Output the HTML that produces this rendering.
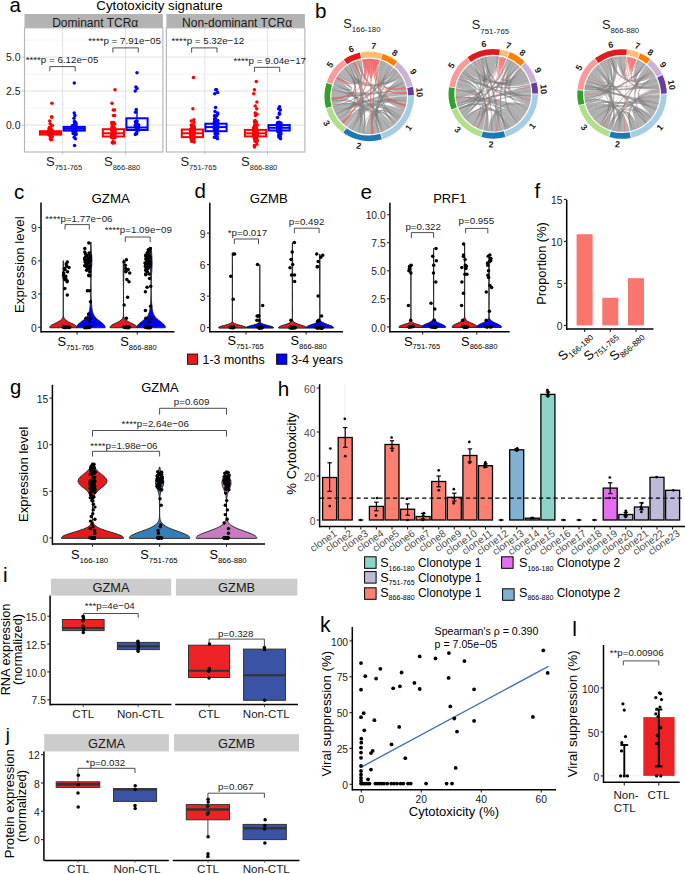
<!DOCTYPE html>
<html><head><meta charset="utf-8"><style>
html,body{margin:0;padding:0;background:#fff;overflow:hidden}
svg{display:block;font-family:"Liberation Sans",sans-serif}
</style></head><body>
<svg width="685" height="874" viewBox="0 0 685 874">
<rect width="685" height="874" fill="#fff"/>
<text x="9.4" y="12.4" font-size="20.4">a</text>
<text x="159.5" y="10" font-size="13.3" text-anchor="middle">Cytotoxicity signature</text>
<rect x="24.5" y="14" width="138.4" height="13.8" fill="#b3b3b3"/>
<text x="95.2" y="26.6" font-size="12" text-anchor="middle" fill="#1a1a1a">Dominant TCRα</text>
<line x1="24.5" y1="142.1" x2="162.9" y2="142.1" stroke="#ebebeb" stroke-width="0.6"/>
<line x1="24.5" y1="108.1" x2="162.9" y2="108.1" stroke="#ebebeb" stroke-width="0.6"/>
<line x1="24.5" y1="74.1" x2="162.9" y2="74.1" stroke="#ebebeb" stroke-width="0.6"/>
<line x1="24.5" y1="40.1" x2="162.9" y2="40.1" stroke="#ebebeb" stroke-width="0.6"/>
<line x1="24.5" y1="125.1" x2="162.9" y2="125.1" stroke="#dedede" stroke-width="0.9"/>
<line x1="24.5" y1="91.1" x2="162.9" y2="91.1" stroke="#dedede" stroke-width="0.9"/>
<line x1="24.5" y1="57.1" x2="162.9" y2="57.1" stroke="#dedede" stroke-width="0.9"/>
<line x1="62.6" y1="27.8" x2="62.6" y2="152" stroke="#dedede" stroke-width="0.9"/>
<line x1="125.5" y1="27.8" x2="125.5" y2="152" stroke="#dedede" stroke-width="0.9"/>
<rect x="166.4" y="14" width="138.5" height="13.8" fill="#b3b3b3"/>
<text x="237.1" y="26.6" font-size="12" text-anchor="middle" fill="#1a1a1a">Non-dominant TCRα</text>
<line x1="166.4" y1="142.1" x2="304.9" y2="142.1" stroke="#ebebeb" stroke-width="0.6"/>
<line x1="166.4" y1="108.1" x2="304.9" y2="108.1" stroke="#ebebeb" stroke-width="0.6"/>
<line x1="166.4" y1="74.1" x2="304.9" y2="74.1" stroke="#ebebeb" stroke-width="0.6"/>
<line x1="166.4" y1="40.1" x2="304.9" y2="40.1" stroke="#ebebeb" stroke-width="0.6"/>
<line x1="166.4" y1="125.1" x2="304.9" y2="125.1" stroke="#dedede" stroke-width="0.9"/>
<line x1="166.4" y1="91.1" x2="304.9" y2="91.1" stroke="#dedede" stroke-width="0.9"/>
<line x1="166.4" y1="57.1" x2="304.9" y2="57.1" stroke="#dedede" stroke-width="0.9"/>
<line x1="204.9" y1="27.8" x2="204.9" y2="152" stroke="#dedede" stroke-width="0.9"/>
<line x1="267.5" y1="27.8" x2="267.5" y2="152" stroke="#dedede" stroke-width="0.9"/>
<line x1="50.5" y1="125.1" x2="50.5" y2="131.2" stroke="#ff0000" stroke-width="1.4"/>
<circle cx="50.6" cy="133.6" r="1.75" fill="#ff0000"/>
<circle cx="51.9" cy="130.5" r="1.75" fill="#ff0000"/>
<circle cx="51.3" cy="133.5" r="1.75" fill="#ff0000"/>
<circle cx="49.7" cy="133.9" r="1.75" fill="#ff0000"/>
<circle cx="52.2" cy="136.4" r="1.75" fill="#ff0000"/>
<circle cx="49.1" cy="133.5" r="1.75" fill="#ff0000"/>
<circle cx="50.2" cy="128" r="1.75" fill="#ff0000"/>
<circle cx="51.4" cy="130.8" r="1.75" fill="#ff0000"/>
<circle cx="49.2" cy="128.3" r="1.75" fill="#ff0000"/>
<circle cx="50.5" cy="131.6" r="1.75" fill="#ff0000"/>
<circle cx="48.8" cy="131" r="1.75" fill="#ff0000"/>
<circle cx="51.1" cy="131.8" r="1.75" fill="#ff0000"/>
<circle cx="51.5" cy="139.4" r="1.75" fill="#ff0000"/>
<circle cx="50.8" cy="129.1" r="1.75" fill="#ff0000"/>
<circle cx="51.9" cy="130.5" r="1.75" fill="#ff0000"/>
<circle cx="49.8" cy="130.5" r="1.75" fill="#ff0000"/>
<circle cx="51.2" cy="139.5" r="1.75" fill="#ff0000"/>
<circle cx="50.8" cy="139.7" r="1.75" fill="#ff0000"/>
<circle cx="50.8" cy="136.2" r="1.75" fill="#ff0000"/>
<circle cx="50.3" cy="134.5" r="1.75" fill="#ff0000"/>
<circle cx="51.7" cy="131.3" r="1.75" fill="#ff0000"/>
<circle cx="52.1" cy="132.8" r="1.75" fill="#ff0000"/>
<circle cx="50.4" cy="130.5" r="1.75" fill="#ff0000"/>
<circle cx="51.1" cy="135.2" r="1.75" fill="#ff0000"/>
<circle cx="48.9" cy="131.3" r="1.75" fill="#ff0000"/>
<circle cx="51.2" cy="131" r="1.75" fill="#ff0000"/>
<circle cx="51" cy="135.3" r="1.75" fill="#ff0000"/>
<circle cx="52.3" cy="125.6" r="1.75" fill="#ff0000"/>
<circle cx="51.7" cy="130.3" r="1.75" fill="#ff0000"/>
<circle cx="49.7" cy="127.7" r="1.75" fill="#ff0000"/>
<circle cx="50.1" cy="135.1" r="1.75" fill="#ff0000"/>
<circle cx="51.1" cy="135.6" r="1.75" fill="#ff0000"/>
<circle cx="48.8" cy="134" r="1.75" fill="#ff0000"/>
<circle cx="50.4" cy="133" r="1.75" fill="#ff0000"/>
<circle cx="49.3" cy="130" r="1.75" fill="#ff0000"/>
<circle cx="49.1" cy="131.6" r="1.75" fill="#ff0000"/>
<circle cx="48.9" cy="134.4" r="1.75" fill="#ff0000"/>
<circle cx="51.5" cy="136.5" r="1.75" fill="#ff0000"/>
<circle cx="49.2" cy="134.7" r="1.75" fill="#ff0000"/>
<circle cx="49.6" cy="127.6" r="1.75" fill="#ff0000"/>
<circle cx="50.1" cy="135.9" r="1.75" fill="#ff0000"/>
<circle cx="51.8" cy="131.6" r="1.75" fill="#ff0000"/>
<circle cx="49" cy="130.8" r="1.75" fill="#ff0000"/>
<circle cx="50.3" cy="138.7" r="1.75" fill="#ff0000"/>
<circle cx="50.7" cy="132.4" r="1.75" fill="#ff0000"/>
<circle cx="51.9" cy="103.3" r="1.75" fill="#ff0000"/>
<circle cx="51.6" cy="116.9" r="1.75" fill="#ff0000"/>
<circle cx="51.8" cy="116.9" r="1.75" fill="#ff0000"/>
<circle cx="49.7" cy="121" r="1.75" fill="#ff0000"/>
<circle cx="50.2" cy="123.7" r="1.75" fill="#ff0000"/>
<rect x="39.9" y="131.2" width="21.2" height="3.4" fill="none" stroke="#ff0000" stroke-width="2.0"/>
<line x1="39.9" y1="132.9" x2="61.1" y2="132.9" stroke="#ff0000" stroke-width="2.0"/>
<line x1="74.2" y1="125.1" x2="74.2" y2="126.9" stroke="#0000ff" stroke-width="1.4"/>
<circle cx="75.8" cy="124.2" r="1.75" fill="#0000ff"/>
<circle cx="76" cy="134.2" r="1.75" fill="#0000ff"/>
<circle cx="75.8" cy="123" r="1.75" fill="#0000ff"/>
<circle cx="73.7" cy="127.1" r="1.75" fill="#0000ff"/>
<circle cx="73.2" cy="129.8" r="1.75" fill="#0000ff"/>
<circle cx="73.2" cy="127.9" r="1.75" fill="#0000ff"/>
<circle cx="73.1" cy="126.7" r="1.75" fill="#0000ff"/>
<circle cx="73.1" cy="128.7" r="1.75" fill="#0000ff"/>
<circle cx="74.6" cy="124.8" r="1.75" fill="#0000ff"/>
<circle cx="75.6" cy="131.7" r="1.75" fill="#0000ff"/>
<circle cx="75.4" cy="130.8" r="1.75" fill="#0000ff"/>
<circle cx="74.1" cy="125.2" r="1.75" fill="#0000ff"/>
<circle cx="74.8" cy="129.1" r="1.75" fill="#0000ff"/>
<circle cx="75.3" cy="132.5" r="1.75" fill="#0000ff"/>
<circle cx="72.7" cy="125.6" r="1.75" fill="#0000ff"/>
<circle cx="74.8" cy="123.6" r="1.75" fill="#0000ff"/>
<circle cx="75.7" cy="130.9" r="1.75" fill="#0000ff"/>
<circle cx="75.2" cy="134.4" r="1.75" fill="#0000ff"/>
<circle cx="75.1" cy="129.7" r="1.75" fill="#0000ff"/>
<circle cx="74.1" cy="129.7" r="1.75" fill="#0000ff"/>
<circle cx="73" cy="130.3" r="1.75" fill="#0000ff"/>
<circle cx="75.2" cy="123.8" r="1.75" fill="#0000ff"/>
<circle cx="73.6" cy="133.1" r="1.75" fill="#0000ff"/>
<circle cx="75.3" cy="124.4" r="1.75" fill="#0000ff"/>
<circle cx="75.9" cy="134" r="1.75" fill="#0000ff"/>
<circle cx="73.8" cy="132.2" r="1.75" fill="#0000ff"/>
<circle cx="73.8" cy="126.8" r="1.75" fill="#0000ff"/>
<circle cx="75.8" cy="124.9" r="1.75" fill="#0000ff"/>
<circle cx="75" cy="125.9" r="1.75" fill="#0000ff"/>
<circle cx="73" cy="127.9" r="1.75" fill="#0000ff"/>
<circle cx="72.9" cy="128.6" r="1.75" fill="#0000ff"/>
<circle cx="72.9" cy="128.6" r="1.75" fill="#0000ff"/>
<circle cx="75.7" cy="127" r="1.75" fill="#0000ff"/>
<circle cx="75.3" cy="129.9" r="1.75" fill="#0000ff"/>
<circle cx="72.9" cy="128.1" r="1.75" fill="#0000ff"/>
<circle cx="75.4" cy="127" r="1.75" fill="#0000ff"/>
<circle cx="75.9" cy="129.2" r="1.75" fill="#0000ff"/>
<circle cx="74.8" cy="126.3" r="1.75" fill="#0000ff"/>
<circle cx="73.7" cy="127" r="1.75" fill="#0000ff"/>
<circle cx="74.4" cy="121.5" r="1.75" fill="#0000ff"/>
<circle cx="72.9" cy="127.9" r="1.75" fill="#0000ff"/>
<circle cx="72.5" cy="130.8" r="1.75" fill="#0000ff"/>
<circle cx="75.9" cy="130.6" r="1.75" fill="#0000ff"/>
<circle cx="74.7" cy="129.2" r="1.75" fill="#0000ff"/>
<circle cx="74.3" cy="125.7" r="1.75" fill="#0000ff"/>
<circle cx="75.8" cy="130.5" r="1.75" fill="#0000ff"/>
<circle cx="74" cy="127.7" r="1.75" fill="#0000ff"/>
<circle cx="75.5" cy="122.2" r="1.75" fill="#0000ff"/>
<circle cx="75.4" cy="138.7" r="1.75" fill="#0000ff"/>
<circle cx="73.2" cy="133.5" r="1.75" fill="#0000ff"/>
<circle cx="73.3" cy="128.1" r="1.75" fill="#0000ff"/>
<circle cx="73.5" cy="127.8" r="1.75" fill="#0000ff"/>
<circle cx="73.3" cy="128.1" r="1.75" fill="#0000ff"/>
<circle cx="74.5" cy="129.2" r="1.75" fill="#0000ff"/>
<circle cx="73.3" cy="127.4" r="1.75" fill="#0000ff"/>
<circle cx="73.9" cy="128" r="1.75" fill="#0000ff"/>
<circle cx="72.9" cy="129.4" r="1.75" fill="#0000ff"/>
<circle cx="75.7" cy="126.1" r="1.75" fill="#0000ff"/>
<circle cx="73.7" cy="127.9" r="1.75" fill="#0000ff"/>
<circle cx="74" cy="129.4" r="1.75" fill="#0000ff"/>
<circle cx="74.5" cy="128.7" r="1.75" fill="#0000ff"/>
<circle cx="75.7" cy="128.9" r="1.75" fill="#0000ff"/>
<circle cx="73.9" cy="128.6" r="1.75" fill="#0000ff"/>
<circle cx="75.7" cy="130.9" r="1.75" fill="#0000ff"/>
<circle cx="74.2" cy="129.3" r="1.75" fill="#0000ff"/>
<circle cx="74.3" cy="126.9" r="1.75" fill="#0000ff"/>
<circle cx="74.3" cy="130.4" r="1.75" fill="#0000ff"/>
<circle cx="72.5" cy="128.6" r="1.75" fill="#0000ff"/>
<circle cx="74" cy="126.9" r="1.75" fill="#0000ff"/>
<circle cx="73.1" cy="127.1" r="1.75" fill="#0000ff"/>
<circle cx="72.4" cy="126.1" r="1.75" fill="#0000ff"/>
<circle cx="75.3" cy="130.9" r="1.75" fill="#0000ff"/>
<circle cx="73" cy="129.1" r="1.75" fill="#0000ff"/>
<circle cx="74.1" cy="129.1" r="1.75" fill="#0000ff"/>
<circle cx="75" cy="127.5" r="1.75" fill="#0000ff"/>
<circle cx="74.4" cy="126.7" r="1.75" fill="#0000ff"/>
<circle cx="73.6" cy="130.9" r="1.75" fill="#0000ff"/>
<circle cx="74.3" cy="126.7" r="1.75" fill="#0000ff"/>
<circle cx="74.4" cy="130.9" r="1.75" fill="#0000ff"/>
<circle cx="75.2" cy="127.4" r="1.75" fill="#0000ff"/>
<circle cx="72.8" cy="130.9" r="1.75" fill="#0000ff"/>
<circle cx="74.4" cy="128.2" r="1.75" fill="#0000ff"/>
<circle cx="73.3" cy="126.6" r="1.75" fill="#0000ff"/>
<circle cx="73.4" cy="128.7" r="1.75" fill="#0000ff"/>
<circle cx="75.2" cy="128.2" r="1.75" fill="#0000ff"/>
<circle cx="74.2" cy="127.2" r="1.75" fill="#0000ff"/>
<circle cx="74.4" cy="128.3" r="1.75" fill="#0000ff"/>
<circle cx="75.1" cy="128.6" r="1.75" fill="#0000ff"/>
<circle cx="75.7" cy="126.1" r="1.75" fill="#0000ff"/>
<circle cx="74" cy="126.8" r="1.75" fill="#0000ff"/>
<circle cx="74.6" cy="145.5" r="1.75" fill="#0000ff"/>
<circle cx="74.2" cy="137.3" r="1.75" fill="#0000ff"/>
<circle cx="74.2" cy="112.9" r="1.75" fill="#0000ff"/>
<circle cx="74.9" cy="115.6" r="1.75" fill="#0000ff"/>
<circle cx="74" cy="118.3" r="1.75" fill="#0000ff"/>
<circle cx="74.3" cy="82.9" r="1.75" fill="#0000ff"/>
<rect x="63.6" y="126.9" width="21.2" height="3.7" fill="none" stroke="#0000ff" stroke-width="2.0"/>
<line x1="63.6" y1="128.8" x2="84.8" y2="128.8" stroke="#0000ff" stroke-width="2.0"/>
<line x1="113.4" y1="125.1" x2="113.4" y2="129.2" stroke="#ff0000" stroke-width="1.4"/>
<circle cx="111.7" cy="134.7" r="1.75" fill="#ff0000"/>
<circle cx="114.4" cy="142.8" r="1.75" fill="#ff0000"/>
<circle cx="112.6" cy="131.7" r="1.75" fill="#ff0000"/>
<circle cx="112.1" cy="136.3" r="1.75" fill="#ff0000"/>
<circle cx="113.1" cy="142.5" r="1.75" fill="#ff0000"/>
<circle cx="114.9" cy="129.8" r="1.75" fill="#ff0000"/>
<circle cx="114.5" cy="134.6" r="1.75" fill="#ff0000"/>
<circle cx="112.5" cy="142.8" r="1.75" fill="#ff0000"/>
<circle cx="112.1" cy="137.4" r="1.75" fill="#ff0000"/>
<circle cx="114.9" cy="131.9" r="1.75" fill="#ff0000"/>
<circle cx="113.7" cy="135.4" r="1.75" fill="#ff0000"/>
<circle cx="114.1" cy="129.5" r="1.75" fill="#ff0000"/>
<circle cx="111.9" cy="129.7" r="1.75" fill="#ff0000"/>
<circle cx="111.8" cy="130.1" r="1.75" fill="#ff0000"/>
<circle cx="114.1" cy="131.7" r="1.75" fill="#ff0000"/>
<circle cx="113.1" cy="126.9" r="1.75" fill="#ff0000"/>
<circle cx="111.9" cy="130.1" r="1.75" fill="#ff0000"/>
<circle cx="115" cy="131.1" r="1.75" fill="#ff0000"/>
<circle cx="113.9" cy="142.8" r="1.75" fill="#ff0000"/>
<circle cx="114.5" cy="129" r="1.75" fill="#ff0000"/>
<circle cx="111.9" cy="127" r="1.75" fill="#ff0000"/>
<circle cx="114.7" cy="134.7" r="1.75" fill="#ff0000"/>
<circle cx="111.8" cy="135.5" r="1.75" fill="#ff0000"/>
<circle cx="114.7" cy="124" r="1.75" fill="#ff0000"/>
<circle cx="113.2" cy="141.6" r="1.75" fill="#ff0000"/>
<circle cx="112.8" cy="131" r="1.75" fill="#ff0000"/>
<circle cx="113.6" cy="122.4" r="1.75" fill="#ff0000"/>
<circle cx="114.9" cy="137.7" r="1.75" fill="#ff0000"/>
<circle cx="112.6" cy="130" r="1.75" fill="#ff0000"/>
<circle cx="112.1" cy="124.3" r="1.75" fill="#ff0000"/>
<circle cx="113.5" cy="133.8" r="1.75" fill="#ff0000"/>
<circle cx="112.5" cy="130.6" r="1.75" fill="#ff0000"/>
<circle cx="112" cy="129" r="1.75" fill="#ff0000"/>
<circle cx="112.2" cy="137.6" r="1.75" fill="#ff0000"/>
<circle cx="111.8" cy="133.7" r="1.75" fill="#ff0000"/>
<circle cx="112.3" cy="131.9" r="1.75" fill="#ff0000"/>
<circle cx="112.7" cy="129.3" r="1.75" fill="#ff0000"/>
<circle cx="112.7" cy="133.4" r="1.75" fill="#ff0000"/>
<circle cx="114.3" cy="134.2" r="1.75" fill="#ff0000"/>
<circle cx="112.6" cy="138.1" r="1.75" fill="#ff0000"/>
<circle cx="113.4" cy="135" r="1.75" fill="#ff0000"/>
<circle cx="112.2" cy="129" r="1.75" fill="#ff0000"/>
<circle cx="112.8" cy="132.8" r="1.75" fill="#ff0000"/>
<circle cx="111.7" cy="137.3" r="1.75" fill="#ff0000"/>
<circle cx="112.5" cy="137.3" r="1.75" fill="#ff0000"/>
<circle cx="111.7" cy="122.4" r="1.75" fill="#ff0000"/>
<circle cx="114.2" cy="127.8" r="1.75" fill="#ff0000"/>
<circle cx="113.6" cy="130.2" r="1.75" fill="#ff0000"/>
<circle cx="112.3" cy="142.8" r="1.75" fill="#ff0000"/>
<circle cx="113.3" cy="130.3" r="1.75" fill="#ff0000"/>
<circle cx="115" cy="89.7" r="1.75" fill="#ff0000"/>
<circle cx="112" cy="103.3" r="1.75" fill="#ff0000"/>
<circle cx="114.5" cy="110.1" r="1.75" fill="#ff0000"/>
<circle cx="113.2" cy="110.1" r="1.75" fill="#ff0000"/>
<circle cx="113.4" cy="115.6" r="1.75" fill="#ff0000"/>
<circle cx="114.6" cy="115.6" r="1.75" fill="#ff0000"/>
<circle cx="113" cy="122.4" r="1.75" fill="#ff0000"/>
<rect x="102.8" y="129.2" width="21.2" height="7.3" fill="none" stroke="#ff0000" stroke-width="2.0"/>
<line x1="102.8" y1="133.3" x2="124" y2="133.3" stroke="#ff0000" stroke-width="2.0"/>
<line x1="137" y1="109.1" x2="137" y2="118.3" stroke="#0000ff" stroke-width="1.4"/>
<line x1="137" y1="130" x2="137" y2="134.6" stroke="#0000ff" stroke-width="1.4"/>
<circle cx="137.6" cy="124.2" r="1.75" fill="#0000ff"/>
<circle cx="136.2" cy="133.7" r="1.75" fill="#0000ff"/>
<circle cx="136.1" cy="126.8" r="1.75" fill="#0000ff"/>
<circle cx="136.3" cy="122.1" r="1.75" fill="#0000ff"/>
<circle cx="136.9" cy="126.9" r="1.75" fill="#0000ff"/>
<circle cx="135.8" cy="122.8" r="1.75" fill="#0000ff"/>
<circle cx="136.8" cy="132.9" r="1.75" fill="#0000ff"/>
<circle cx="136.1" cy="129.6" r="1.75" fill="#0000ff"/>
<circle cx="138.7" cy="130.1" r="1.75" fill="#0000ff"/>
<circle cx="138.7" cy="127.4" r="1.75" fill="#0000ff"/>
<circle cx="137.2" cy="125.2" r="1.75" fill="#0000ff"/>
<circle cx="136.1" cy="125.2" r="1.75" fill="#0000ff"/>
<circle cx="138.7" cy="125.1" r="1.75" fill="#0000ff"/>
<circle cx="136.3" cy="126.7" r="1.75" fill="#0000ff"/>
<circle cx="136.5" cy="130.1" r="1.75" fill="#0000ff"/>
<circle cx="135.2" cy="125.4" r="1.75" fill="#0000ff"/>
<circle cx="136.6" cy="124.7" r="1.75" fill="#0000ff"/>
<circle cx="136.9" cy="121.2" r="1.75" fill="#0000ff"/>
<circle cx="137" cy="72.7" r="1.75" fill="#0000ff"/>
<circle cx="135.9" cy="87" r="1.75" fill="#0000ff"/>
<circle cx="137" cy="88.4" r="1.75" fill="#0000ff"/>
<circle cx="135.2" cy="91.1" r="1.75" fill="#0000ff"/>
<circle cx="136.2" cy="109.5" r="1.75" fill="#0000ff"/>
<circle cx="135.5" cy="112.2" r="1.75" fill="#0000ff"/>
<circle cx="136.6" cy="121" r="1.75" fill="#0000ff"/>
<circle cx="135.4" cy="121.7" r="1.75" fill="#0000ff"/>
<circle cx="135.3" cy="134.6" r="1.75" fill="#0000ff"/>
<circle cx="136.3" cy="133.3" r="1.75" fill="#0000ff"/>
<rect x="126.4" y="118.3" width="21.2" height="11.7" fill="none" stroke="#0000ff" stroke-width="2.0"/>
<line x1="126.4" y1="127.5" x2="147.6" y2="127.5" stroke="#0000ff" stroke-width="2.0"/>
<line x1="192.4" y1="125.1" x2="192.4" y2="129.5" stroke="#ff0000" stroke-width="1.4"/>
<circle cx="191.6" cy="141.3" r="1.75" fill="#ff0000"/>
<circle cx="193" cy="132.6" r="1.75" fill="#ff0000"/>
<circle cx="193.1" cy="127" r="1.75" fill="#ff0000"/>
<circle cx="193" cy="141.1" r="1.75" fill="#ff0000"/>
<circle cx="191.6" cy="134.7" r="1.75" fill="#ff0000"/>
<circle cx="192.5" cy="137.4" r="1.75" fill="#ff0000"/>
<circle cx="192.3" cy="139.6" r="1.75" fill="#ff0000"/>
<circle cx="192.3" cy="129.8" r="1.75" fill="#ff0000"/>
<circle cx="191" cy="136.5" r="1.75" fill="#ff0000"/>
<circle cx="193.8" cy="139.6" r="1.75" fill="#ff0000"/>
<circle cx="191.3" cy="121" r="1.75" fill="#ff0000"/>
<circle cx="194.1" cy="128.7" r="1.75" fill="#ff0000"/>
<circle cx="194" cy="127.1" r="1.75" fill="#ff0000"/>
<circle cx="190.7" cy="134.1" r="1.75" fill="#ff0000"/>
<circle cx="192.3" cy="134.4" r="1.75" fill="#ff0000"/>
<circle cx="193.6" cy="128.1" r="1.75" fill="#ff0000"/>
<circle cx="194.1" cy="141.9" r="1.75" fill="#ff0000"/>
<circle cx="192.2" cy="138.7" r="1.75" fill="#ff0000"/>
<circle cx="191.6" cy="138.8" r="1.75" fill="#ff0000"/>
<circle cx="191.4" cy="132.3" r="1.75" fill="#ff0000"/>
<circle cx="194" cy="135.7" r="1.75" fill="#ff0000"/>
<circle cx="191.4" cy="138.8" r="1.75" fill="#ff0000"/>
<circle cx="192.7" cy="134.1" r="1.75" fill="#ff0000"/>
<circle cx="191.1" cy="128.9" r="1.75" fill="#ff0000"/>
<circle cx="192.5" cy="140.7" r="1.75" fill="#ff0000"/>
<circle cx="194" cy="130.3" r="1.75" fill="#ff0000"/>
<circle cx="191.1" cy="138.9" r="1.75" fill="#ff0000"/>
<circle cx="193.6" cy="127.6" r="1.75" fill="#ff0000"/>
<circle cx="192.4" cy="137.8" r="1.75" fill="#ff0000"/>
<circle cx="193.8" cy="134.5" r="1.75" fill="#ff0000"/>
<circle cx="193.1" cy="136.5" r="1.75" fill="#ff0000"/>
<circle cx="191.4" cy="130.8" r="1.75" fill="#ff0000"/>
<circle cx="193.8" cy="132.8" r="1.75" fill="#ff0000"/>
<circle cx="192.4" cy="134.7" r="1.75" fill="#ff0000"/>
<circle cx="190.7" cy="131.5" r="1.75" fill="#ff0000"/>
<circle cx="190.6" cy="130.1" r="1.75" fill="#ff0000"/>
<circle cx="192.4" cy="138.5" r="1.75" fill="#ff0000"/>
<circle cx="192.2" cy="137.9" r="1.75" fill="#ff0000"/>
<circle cx="191.7" cy="138.1" r="1.75" fill="#ff0000"/>
<circle cx="191.1" cy="135.6" r="1.75" fill="#ff0000"/>
<circle cx="191.8" cy="138.3" r="1.75" fill="#ff0000"/>
<circle cx="191.7" cy="124.8" r="1.75" fill="#ff0000"/>
<circle cx="193.6" cy="133.1" r="1.75" fill="#ff0000"/>
<circle cx="190.6" cy="133.3" r="1.75" fill="#ff0000"/>
<circle cx="193.3" cy="138.9" r="1.75" fill="#ff0000"/>
<circle cx="193.6" cy="140.1" r="1.75" fill="#ff0000"/>
<circle cx="191" cy="134.8" r="1.75" fill="#ff0000"/>
<circle cx="193.9" cy="126.1" r="1.75" fill="#ff0000"/>
<circle cx="193.2" cy="130.1" r="1.75" fill="#ff0000"/>
<circle cx="193.8" cy="133.3" r="1.75" fill="#ff0000"/>
<circle cx="191.6" cy="131.4" r="1.75" fill="#ff0000"/>
<circle cx="191.9" cy="134" r="1.75" fill="#ff0000"/>
<circle cx="192" cy="125.6" r="1.75" fill="#ff0000"/>
<circle cx="194.2" cy="131.1" r="1.75" fill="#ff0000"/>
<circle cx="192.7" cy="125.8" r="1.75" fill="#ff0000"/>
<circle cx="191.9" cy="127.8" r="1.75" fill="#ff0000"/>
<circle cx="192.1" cy="134.1" r="1.75" fill="#ff0000"/>
<circle cx="191.6" cy="137.3" r="1.75" fill="#ff0000"/>
<circle cx="190.8" cy="129.6" r="1.75" fill="#ff0000"/>
<circle cx="191" cy="136.5" r="1.75" fill="#ff0000"/>
<circle cx="193.6" cy="140.7" r="1.75" fill="#ff0000"/>
<circle cx="191.6" cy="138.3" r="1.75" fill="#ff0000"/>
<circle cx="194" cy="137.8" r="1.75" fill="#ff0000"/>
<circle cx="191.5" cy="130.9" r="1.75" fill="#ff0000"/>
<circle cx="191.6" cy="132" r="1.75" fill="#ff0000"/>
<circle cx="192.4" cy="133.5" r="1.75" fill="#ff0000"/>
<circle cx="191.3" cy="125.4" r="1.75" fill="#ff0000"/>
<circle cx="191.9" cy="135.3" r="1.75" fill="#ff0000"/>
<circle cx="194" cy="127.5" r="1.75" fill="#ff0000"/>
<circle cx="193.8" cy="131.6" r="1.75" fill="#ff0000"/>
<circle cx="193.5" cy="77.5" r="1.75" fill="#ff0000"/>
<circle cx="192.9" cy="108.8" r="1.75" fill="#ff0000"/>
<circle cx="193.9" cy="119.7" r="1.75" fill="#ff0000"/>
<circle cx="194" cy="122.4" r="1.75" fill="#ff0000"/>
<rect x="181.8" y="129.5" width="21.2" height="7.6" fill="none" stroke="#ff0000" stroke-width="2.0"/>
<line x1="181.8" y1="133.3" x2="203" y2="133.3" stroke="#ff0000" stroke-width="2.0"/>
<circle cx="217.3" cy="126.3" r="1.75" fill="#0000ff"/>
<circle cx="217.7" cy="133.7" r="1.75" fill="#0000ff"/>
<circle cx="215.1" cy="128.8" r="1.75" fill="#0000ff"/>
<circle cx="214.6" cy="119.1" r="1.75" fill="#0000ff"/>
<circle cx="214.8" cy="124.1" r="1.75" fill="#0000ff"/>
<circle cx="216.1" cy="134" r="1.75" fill="#0000ff"/>
<circle cx="216.7" cy="124" r="1.75" fill="#0000ff"/>
<circle cx="217.6" cy="128.9" r="1.75" fill="#0000ff"/>
<circle cx="216.8" cy="129.5" r="1.75" fill="#0000ff"/>
<circle cx="216.5" cy="116.1" r="1.75" fill="#0000ff"/>
<circle cx="217" cy="123.2" r="1.75" fill="#0000ff"/>
<circle cx="215.8" cy="122.7" r="1.75" fill="#0000ff"/>
<circle cx="216.2" cy="122.6" r="1.75" fill="#0000ff"/>
<circle cx="214.3" cy="128.7" r="1.75" fill="#0000ff"/>
<circle cx="217" cy="123.1" r="1.75" fill="#0000ff"/>
<circle cx="215" cy="127.4" r="1.75" fill="#0000ff"/>
<circle cx="217.5" cy="138.7" r="1.75" fill="#0000ff"/>
<circle cx="216.5" cy="126.9" r="1.75" fill="#0000ff"/>
<circle cx="215.3" cy="119.5" r="1.75" fill="#0000ff"/>
<circle cx="214.7" cy="128.4" r="1.75" fill="#0000ff"/>
<circle cx="215.1" cy="120.7" r="1.75" fill="#0000ff"/>
<circle cx="216.5" cy="128.7" r="1.75" fill="#0000ff"/>
<circle cx="216.7" cy="124.7" r="1.75" fill="#0000ff"/>
<circle cx="214.6" cy="124.7" r="1.75" fill="#0000ff"/>
<circle cx="214.5" cy="123.7" r="1.75" fill="#0000ff"/>
<circle cx="216.1" cy="121.8" r="1.75" fill="#0000ff"/>
<circle cx="216.3" cy="129.6" r="1.75" fill="#0000ff"/>
<circle cx="215.6" cy="124.5" r="1.75" fill="#0000ff"/>
<circle cx="215" cy="116.3" r="1.75" fill="#0000ff"/>
<circle cx="216.4" cy="121.3" r="1.75" fill="#0000ff"/>
<circle cx="214.2" cy="126.6" r="1.75" fill="#0000ff"/>
<circle cx="215.3" cy="124.5" r="1.75" fill="#0000ff"/>
<circle cx="215.9" cy="124.1" r="1.75" fill="#0000ff"/>
<circle cx="217.7" cy="122.8" r="1.75" fill="#0000ff"/>
<circle cx="216.5" cy="124.1" r="1.75" fill="#0000ff"/>
<circle cx="217.4" cy="123.5" r="1.75" fill="#0000ff"/>
<circle cx="215.9" cy="124.6" r="1.75" fill="#0000ff"/>
<circle cx="215" cy="126.8" r="1.75" fill="#0000ff"/>
<circle cx="215.1" cy="120.3" r="1.75" fill="#0000ff"/>
<circle cx="217.7" cy="120.4" r="1.75" fill="#0000ff"/>
<circle cx="216.7" cy="131.6" r="1.75" fill="#0000ff"/>
<circle cx="215.3" cy="130.7" r="1.75" fill="#0000ff"/>
<circle cx="214.3" cy="123.9" r="1.75" fill="#0000ff"/>
<circle cx="216" cy="131" r="1.75" fill="#0000ff"/>
<circle cx="216.6" cy="127.2" r="1.75" fill="#0000ff"/>
<circle cx="215.7" cy="127.4" r="1.75" fill="#0000ff"/>
<circle cx="215.1" cy="125" r="1.75" fill="#0000ff"/>
<circle cx="216.6" cy="128.6" r="1.75" fill="#0000ff"/>
<circle cx="217.5" cy="114.2" r="1.75" fill="#0000ff"/>
<circle cx="215" cy="122.5" r="1.75" fill="#0000ff"/>
<circle cx="214.3" cy="122.5" r="1.75" fill="#0000ff"/>
<circle cx="215.4" cy="133" r="1.75" fill="#0000ff"/>
<circle cx="215.7" cy="133.4" r="1.75" fill="#0000ff"/>
<circle cx="216.7" cy="125.7" r="1.75" fill="#0000ff"/>
<circle cx="214.9" cy="122.8" r="1.75" fill="#0000ff"/>
<circle cx="217.1" cy="126.4" r="1.75" fill="#0000ff"/>
<circle cx="216.9" cy="121.7" r="1.75" fill="#0000ff"/>
<circle cx="216" cy="137.6" r="1.75" fill="#0000ff"/>
<circle cx="214.9" cy="122.5" r="1.75" fill="#0000ff"/>
<circle cx="217.7" cy="120.8" r="1.75" fill="#0000ff"/>
<circle cx="215.3" cy="134.3" r="1.75" fill="#0000ff"/>
<circle cx="217.2" cy="125.3" r="1.75" fill="#0000ff"/>
<circle cx="215" cy="126.3" r="1.75" fill="#0000ff"/>
<circle cx="215" cy="129" r="1.75" fill="#0000ff"/>
<circle cx="216.9" cy="136.3" r="1.75" fill="#0000ff"/>
<circle cx="215.3" cy="132.7" r="1.75" fill="#0000ff"/>
<circle cx="217.6" cy="125.4" r="1.75" fill="#0000ff"/>
<circle cx="216" cy="121.7" r="1.75" fill="#0000ff"/>
<circle cx="214.9" cy="126.5" r="1.75" fill="#0000ff"/>
<circle cx="215" cy="118.5" r="1.75" fill="#0000ff"/>
<circle cx="215.7" cy="89.7" r="1.75" fill="#0000ff"/>
<circle cx="216.6" cy="89.7" r="1.75" fill="#0000ff"/>
<circle cx="217.6" cy="92.5" r="1.75" fill="#0000ff"/>
<circle cx="214.7" cy="93.8" r="1.75" fill="#0000ff"/>
<circle cx="215.6" cy="107.4" r="1.75" fill="#0000ff"/>
<circle cx="215" cy="111.5" r="1.75" fill="#0000ff"/>
<circle cx="217.7" cy="112.9" r="1.75" fill="#0000ff"/>
<circle cx="214.7" cy="115.6" r="1.75" fill="#0000ff"/>
<circle cx="214.4" cy="137.3" r="1.75" fill="#0000ff"/>
<rect x="205.4" y="123.7" width="21.2" height="7.5" fill="none" stroke="#0000ff" stroke-width="2.0"/>
<line x1="205.4" y1="127.1" x2="226.6" y2="127.1" stroke="#0000ff" stroke-width="2.0"/>
<line x1="255.5" y1="125.1" x2="255.5" y2="129.9" stroke="#ff0000" stroke-width="1.4"/>
<circle cx="254.7" cy="137.5" r="1.75" fill="#ff0000"/>
<circle cx="254" cy="128.5" r="1.75" fill="#ff0000"/>
<circle cx="254" cy="131.4" r="1.75" fill="#ff0000"/>
<circle cx="255.5" cy="124.7" r="1.75" fill="#ff0000"/>
<circle cx="256.3" cy="139.7" r="1.75" fill="#ff0000"/>
<circle cx="255.3" cy="135.2" r="1.75" fill="#ff0000"/>
<circle cx="254.5" cy="146.9" r="1.75" fill="#ff0000"/>
<circle cx="255.2" cy="129.1" r="1.75" fill="#ff0000"/>
<circle cx="255.9" cy="135.2" r="1.75" fill="#ff0000"/>
<circle cx="256.1" cy="128.5" r="1.75" fill="#ff0000"/>
<circle cx="256.4" cy="122.1" r="1.75" fill="#ff0000"/>
<circle cx="256.7" cy="133.3" r="1.75" fill="#ff0000"/>
<circle cx="256.1" cy="134.6" r="1.75" fill="#ff0000"/>
<circle cx="254.1" cy="135.8" r="1.75" fill="#ff0000"/>
<circle cx="256.7" cy="137.6" r="1.75" fill="#ff0000"/>
<circle cx="254.8" cy="136.5" r="1.75" fill="#ff0000"/>
<circle cx="255.7" cy="130" r="1.75" fill="#ff0000"/>
<circle cx="255" cy="133.1" r="1.75" fill="#ff0000"/>
<circle cx="256.4" cy="132.9" r="1.75" fill="#ff0000"/>
<circle cx="254.4" cy="134.2" r="1.75" fill="#ff0000"/>
<circle cx="254.6" cy="128.5" r="1.75" fill="#ff0000"/>
<circle cx="254.6" cy="130.7" r="1.75" fill="#ff0000"/>
<circle cx="254.3" cy="134" r="1.75" fill="#ff0000"/>
<circle cx="256.9" cy="129.8" r="1.75" fill="#ff0000"/>
<circle cx="255.8" cy="134" r="1.75" fill="#ff0000"/>
<circle cx="254.9" cy="139.2" r="1.75" fill="#ff0000"/>
<circle cx="255.1" cy="125.7" r="1.75" fill="#ff0000"/>
<circle cx="257.3" cy="130.9" r="1.75" fill="#ff0000"/>
<circle cx="255.5" cy="138.2" r="1.75" fill="#ff0000"/>
<circle cx="254.5" cy="127.7" r="1.75" fill="#ff0000"/>
<circle cx="256.6" cy="131.5" r="1.75" fill="#ff0000"/>
<circle cx="256.1" cy="141.3" r="1.75" fill="#ff0000"/>
<circle cx="257.3" cy="124.9" r="1.75" fill="#ff0000"/>
<circle cx="254.1" cy="131.5" r="1.75" fill="#ff0000"/>
<circle cx="255.4" cy="128.7" r="1.75" fill="#ff0000"/>
<circle cx="256.6" cy="132.2" r="1.75" fill="#ff0000"/>
<circle cx="256.7" cy="134" r="1.75" fill="#ff0000"/>
<circle cx="257" cy="141.3" r="1.75" fill="#ff0000"/>
<circle cx="253.8" cy="128.2" r="1.75" fill="#ff0000"/>
<circle cx="254.8" cy="133.1" r="1.75" fill="#ff0000"/>
<circle cx="254.1" cy="134.7" r="1.75" fill="#ff0000"/>
<circle cx="254.4" cy="131.4" r="1.75" fill="#ff0000"/>
<circle cx="257.2" cy="132.9" r="1.75" fill="#ff0000"/>
<circle cx="255.8" cy="129.8" r="1.75" fill="#ff0000"/>
<circle cx="257" cy="135.2" r="1.75" fill="#ff0000"/>
<circle cx="255" cy="133.4" r="1.75" fill="#ff0000"/>
<circle cx="256.8" cy="144.3" r="1.75" fill="#ff0000"/>
<circle cx="255.3" cy="135.4" r="1.75" fill="#ff0000"/>
<circle cx="254.6" cy="129.8" r="1.75" fill="#ff0000"/>
<circle cx="256.5" cy="126.4" r="1.75" fill="#ff0000"/>
<circle cx="257.1" cy="135.1" r="1.75" fill="#ff0000"/>
<circle cx="254.1" cy="133.9" r="1.75" fill="#ff0000"/>
<circle cx="255.8" cy="125.1" r="1.75" fill="#ff0000"/>
<circle cx="255.9" cy="134.9" r="1.75" fill="#ff0000"/>
<circle cx="254.5" cy="129.5" r="1.75" fill="#ff0000"/>
<circle cx="255" cy="124.6" r="1.75" fill="#ff0000"/>
<circle cx="254.2" cy="133.1" r="1.75" fill="#ff0000"/>
<circle cx="254.4" cy="126.9" r="1.75" fill="#ff0000"/>
<circle cx="254.6" cy="136.9" r="1.75" fill="#ff0000"/>
<circle cx="255.9" cy="132.2" r="1.75" fill="#ff0000"/>
<circle cx="256" cy="133.7" r="1.75" fill="#ff0000"/>
<circle cx="254.4" cy="132.7" r="1.75" fill="#ff0000"/>
<circle cx="253.7" cy="127.4" r="1.75" fill="#ff0000"/>
<circle cx="254.9" cy="120.9" r="1.75" fill="#ff0000"/>
<circle cx="256.1" cy="136.7" r="1.75" fill="#ff0000"/>
<circle cx="254.4" cy="136.2" r="1.75" fill="#ff0000"/>
<circle cx="254.8" cy="130.7" r="1.75" fill="#ff0000"/>
<circle cx="254.4" cy="138.7" r="1.75" fill="#ff0000"/>
<circle cx="256.6" cy="130.7" r="1.75" fill="#ff0000"/>
<circle cx="255.7" cy="130.3" r="1.75" fill="#ff0000"/>
<circle cx="253.9" cy="134.7" r="1.75" fill="#ff0000"/>
<circle cx="254.1" cy="130.5" r="1.75" fill="#ff0000"/>
<circle cx="255.1" cy="141.3" r="1.75" fill="#ff0000"/>
<circle cx="255.7" cy="129.3" r="1.75" fill="#ff0000"/>
<circle cx="256" cy="141.2" r="1.75" fill="#ff0000"/>
<circle cx="254" cy="136.9" r="1.75" fill="#ff0000"/>
<circle cx="254.3" cy="136.1" r="1.75" fill="#ff0000"/>
<circle cx="256.2" cy="135.3" r="1.75" fill="#ff0000"/>
<circle cx="255.2" cy="128.8" r="1.75" fill="#ff0000"/>
<circle cx="254.7" cy="132.8" r="1.75" fill="#ff0000"/>
<circle cx="254.8" cy="135.3" r="1.75" fill="#ff0000"/>
<circle cx="257.1" cy="130.5" r="1.75" fill="#ff0000"/>
<circle cx="254.8" cy="125.1" r="1.75" fill="#ff0000"/>
<circle cx="255.7" cy="133.2" r="1.75" fill="#ff0000"/>
<circle cx="255" cy="131.4" r="1.75" fill="#ff0000"/>
<circle cx="255.2" cy="126.9" r="1.75" fill="#ff0000"/>
<circle cx="256.8" cy="131.9" r="1.75" fill="#ff0000"/>
<circle cx="257.3" cy="139.9" r="1.75" fill="#ff0000"/>
<circle cx="255" cy="120.4" r="1.75" fill="#ff0000"/>
<circle cx="254.4" cy="121.8" r="1.75" fill="#ff0000"/>
<circle cx="256.3" cy="81.6" r="1.75" fill="#ff0000"/>
<circle cx="254.4" cy="89.7" r="1.75" fill="#ff0000"/>
<circle cx="253.7" cy="93.8" r="1.75" fill="#ff0000"/>
<circle cx="256.9" cy="102" r="1.75" fill="#ff0000"/>
<circle cx="255.2" cy="106.1" r="1.75" fill="#ff0000"/>
<circle cx="256.7" cy="108.8" r="1.75" fill="#ff0000"/>
<circle cx="255.2" cy="112.9" r="1.75" fill="#ff0000"/>
<circle cx="256.9" cy="114.2" r="1.75" fill="#ff0000"/>
<circle cx="255.4" cy="115.6" r="1.75" fill="#ff0000"/>
<circle cx="254.3" cy="145.5" r="1.75" fill="#ff0000"/>
<rect x="244.9" y="129.9" width="21.2" height="6.5" fill="none" stroke="#ff0000" stroke-width="2.0"/>
<line x1="244.9" y1="133.3" x2="266.1" y2="133.3" stroke="#ff0000" stroke-width="2.0"/>
<circle cx="279.1" cy="135.9" r="1.75" fill="#0000ff"/>
<circle cx="278.1" cy="122.7" r="1.75" fill="#0000ff"/>
<circle cx="280" cy="127.3" r="1.75" fill="#0000ff"/>
<circle cx="280.1" cy="133.5" r="1.75" fill="#0000ff"/>
<circle cx="278.9" cy="134.7" r="1.75" fill="#0000ff"/>
<circle cx="277.9" cy="123" r="1.75" fill="#0000ff"/>
<circle cx="279" cy="124.8" r="1.75" fill="#0000ff"/>
<circle cx="277.7" cy="131.1" r="1.75" fill="#0000ff"/>
<circle cx="277.8" cy="124.3" r="1.75" fill="#0000ff"/>
<circle cx="278.9" cy="125.8" r="1.75" fill="#0000ff"/>
<circle cx="277.6" cy="125.2" r="1.75" fill="#0000ff"/>
<circle cx="278.9" cy="137" r="1.75" fill="#0000ff"/>
<circle cx="279.1" cy="129.1" r="1.75" fill="#0000ff"/>
<circle cx="277.4" cy="124.1" r="1.75" fill="#0000ff"/>
<circle cx="279.6" cy="124.8" r="1.75" fill="#0000ff"/>
<circle cx="277.6" cy="124.2" r="1.75" fill="#0000ff"/>
<circle cx="279.9" cy="137.3" r="1.75" fill="#0000ff"/>
<circle cx="280.1" cy="127.1" r="1.75" fill="#0000ff"/>
<circle cx="279.1" cy="125.8" r="1.75" fill="#0000ff"/>
<circle cx="277.5" cy="117.4" r="1.75" fill="#0000ff"/>
<circle cx="279.1" cy="131.7" r="1.75" fill="#0000ff"/>
<circle cx="278.7" cy="129.2" r="1.75" fill="#0000ff"/>
<circle cx="280.7" cy="127.7" r="1.75" fill="#0000ff"/>
<circle cx="277.8" cy="124.2" r="1.75" fill="#0000ff"/>
<circle cx="280.4" cy="129.6" r="1.75" fill="#0000ff"/>
<circle cx="280.9" cy="123.1" r="1.75" fill="#0000ff"/>
<circle cx="279.9" cy="131" r="1.75" fill="#0000ff"/>
<circle cx="280.2" cy="126.7" r="1.75" fill="#0000ff"/>
<circle cx="278" cy="130" r="1.75" fill="#0000ff"/>
<circle cx="280.8" cy="127.2" r="1.75" fill="#0000ff"/>
<circle cx="279.1" cy="130.6" r="1.75" fill="#0000ff"/>
<circle cx="280.7" cy="134.3" r="1.75" fill="#0000ff"/>
<circle cx="280.6" cy="123.4" r="1.75" fill="#0000ff"/>
<circle cx="277.9" cy="126.6" r="1.75" fill="#0000ff"/>
<circle cx="280.1" cy="130.1" r="1.75" fill="#0000ff"/>
<circle cx="280.7" cy="127" r="1.75" fill="#0000ff"/>
<circle cx="277.5" cy="123.8" r="1.75" fill="#0000ff"/>
<circle cx="278.6" cy="131.8" r="1.75" fill="#0000ff"/>
<circle cx="280" cy="128.3" r="1.75" fill="#0000ff"/>
<circle cx="277.9" cy="125.6" r="1.75" fill="#0000ff"/>
<circle cx="280.5" cy="125.7" r="1.75" fill="#0000ff"/>
<circle cx="278.3" cy="129.2" r="1.75" fill="#0000ff"/>
<circle cx="280.2" cy="136.4" r="1.75" fill="#0000ff"/>
<circle cx="277.8" cy="122.7" r="1.75" fill="#0000ff"/>
<circle cx="279.1" cy="126.5" r="1.75" fill="#0000ff"/>
<circle cx="280.6" cy="127.8" r="1.75" fill="#0000ff"/>
<circle cx="278" cy="129" r="1.75" fill="#0000ff"/>
<circle cx="278.2" cy="126.7" r="1.75" fill="#0000ff"/>
<circle cx="279.1" cy="129.6" r="1.75" fill="#0000ff"/>
<circle cx="278.4" cy="132" r="1.75" fill="#0000ff"/>
<circle cx="277.4" cy="130.8" r="1.75" fill="#0000ff"/>
<circle cx="278" cy="130.3" r="1.75" fill="#0000ff"/>
<circle cx="277.9" cy="130.3" r="1.75" fill="#0000ff"/>
<circle cx="280.7" cy="132.5" r="1.75" fill="#0000ff"/>
<circle cx="279.7" cy="125.2" r="1.75" fill="#0000ff"/>
<circle cx="280.5" cy="133.2" r="1.75" fill="#0000ff"/>
<circle cx="277.9" cy="125.1" r="1.75" fill="#0000ff"/>
<circle cx="280.1" cy="132" r="1.75" fill="#0000ff"/>
<circle cx="277.7" cy="126.4" r="1.75" fill="#0000ff"/>
<circle cx="279.2" cy="122.2" r="1.75" fill="#0000ff"/>
<circle cx="279.6" cy="106.7" r="1.75" fill="#0000ff"/>
<circle cx="278.6" cy="108.8" r="1.75" fill="#0000ff"/>
<circle cx="280.4" cy="110.1" r="1.75" fill="#0000ff"/>
<circle cx="279.3" cy="112.9" r="1.75" fill="#0000ff"/>
<circle cx="279.4" cy="114.2" r="1.75" fill="#0000ff"/>
<circle cx="280.5" cy="138.7" r="1.75" fill="#0000ff"/>
<rect x="268.5" y="125.1" width="21.2" height="5.4" fill="none" stroke="#0000ff" stroke-width="2.0"/>
<line x1="268.5" y1="127.8" x2="289.7" y2="127.8" stroke="#0000ff" stroke-width="2.0"/>
<rect x="24.5" y="27.8" width="138.4" height="124.2" fill="none" stroke="#b3b3b3" stroke-width="1.1"/>
<rect x="166.4" y="27.8" width="138.5" height="124.2" fill="none" stroke="#b3b3b3" stroke-width="1.1"/>
<text x="20.6" y="128.7" font-size="10.5" text-anchor="end" fill="#1a1a1a">0.0</text>
<line x1="22" y1="125.1" x2="24.5" y2="125.1" stroke="#b3b3b3" stroke-width="0.8"/>
<text x="20.6" y="94.7" font-size="10.5" text-anchor="end" fill="#1a1a1a">2.5</text>
<line x1="22" y1="91.1" x2="24.5" y2="91.1" stroke="#b3b3b3" stroke-width="0.8"/>
<text x="20.6" y="60.7" font-size="10.5" text-anchor="end" fill="#1a1a1a">5.0</text>
<line x1="22" y1="57.1" x2="24.5" y2="57.1" stroke="#b3b3b3" stroke-width="0.8"/>
<line x1="62.6" y1="152" x2="62.6" y2="154.5" stroke="#b3b3b3" stroke-width="0.8"/>
<line x1="125.5" y1="152" x2="125.5" y2="154.5" stroke="#b3b3b3" stroke-width="0.8"/>
<line x1="204.9" y1="152" x2="204.9" y2="154.5" stroke="#b3b3b3" stroke-width="0.8"/>
<line x1="267.5" y1="152" x2="267.5" y2="154.5" stroke="#b3b3b3" stroke-width="0.8"/>
<path d="M49.8 71.3V66.6H75.2V71.3" fill="none" stroke="#222" stroke-width="0.8"/>
<text x="25.7" y="62.6" font-size="9.75" fill="#1a1a1a">****p = 6.12e−05</text>
<path d="M112.9 52.6V47.9H138.3V52.6" fill="none" stroke="#222" stroke-width="0.8"/>
<text x="88.3" y="43.9" font-size="9.75" fill="#1a1a1a">****p = 7.91e−05</text>
<path d="M191.6 52.6V47.9H217V52.6" fill="none" stroke="#222" stroke-width="0.8"/>
<text x="171.5" y="44.4" font-size="9.75" fill="#1a1a1a">****p = 5.32e−12</text>
<path d="M254.4 72V67.3H279.7V72" fill="none" stroke="#222" stroke-width="0.8"/>
<text x="233.4" y="63.5" font-size="9.75" fill="#1a1a1a">****p = 9.04e−17</text>
<text x="46" y="166" font-size="13" fill="#1a1a1a">S<tspan font-size="7.5" dy="3.9">751-765</tspan></text>
<text x="104" y="166" font-size="13" fill="#1a1a1a">S<tspan font-size="7.5" dy="3.9">866-880</tspan></text>
<text x="180.4" y="166" font-size="13" fill="#1a1a1a">S<tspan font-size="7.5" dy="3.9">751-765</tspan></text>
<text x="241.1" y="166" font-size="13" fill="#1a1a1a">S<tspan font-size="7.5" dy="3.9">866-880</tspan></text>
<text x="315.1" y="18.2" font-size="20.6">b</text>
<path d="M405.92 88.33A37.6 37.6 0 0 1 406.11 89.23Q369.20 96.40 331.62 97.69A37.6 37.6 0 0 1 332.15 89.97Q369.20 96.40 405.92 88.33Z" fill="#8a8a8a" fill-opacity="0.66" stroke="#4a4a4a" stroke-width="0.3" stroke-opacity="0.42"/>
<path d="M393.33 125.24A37.6 37.6 0 0 1 389.50 128.05Q369.20 96.40 332.15 89.97A37.6 37.6 0 0 1 332.48 88.30Q369.20 96.40 393.33 125.24Z" fill="#8a8a8a" fill-opacity="0.66" stroke="#4a4a4a" stroke-width="0.3" stroke-opacity="0.42"/>
<path d="M333.57 84.39A37.6 37.6 0 0 1 335.44 79.85Q369.20 96.40 365.00 133.76A37.6 37.6 0 0 1 364.21 133.67Q369.20 96.40 333.57 84.39Z" fill="#8a8a8a" fill-opacity="0.66" stroke="#4a4a4a" stroke-width="0.3" stroke-opacity="0.42"/>
<path d="M406.80 96.14A37.6 37.6 0 0 1 406.76 98.14Q369.20 96.40 346.78 126.59A37.6 37.6 0 0 1 341.71 122.05Q369.20 96.40 406.80 96.14Z" fill="#8a8a8a" fill-opacity="0.66" stroke="#4a4a4a" stroke-width="0.3" stroke-opacity="0.42"/>
<path d="M396.50 70.54A37.6 37.6 0 0 1 396.71 70.77Q369.20 96.40 338.31 117.84A37.6 37.6 0 0 1 336.22 114.45Q369.20 96.40 396.50 70.54Z" fill="#8a8a8a" fill-opacity="0.66" stroke="#4a4a4a" stroke-width="0.3" stroke-opacity="0.42"/>
<path d="M406.58 100.46A37.6 37.6 0 0 1 406.56 100.63Q369.20 96.40 371.74 133.91A37.6 37.6 0 0 1 365.00 133.76Q369.20 96.40 406.58 100.46Z" fill="#8a8a8a" fill-opacity="0.66" stroke="#4a4a4a" stroke-width="0.3" stroke-opacity="0.42"/>
<path d="M377.86 132.99A37.6 37.6 0 0 1 374.59 133.61Q369.20 96.40 403.73 81.51A37.6 37.6 0 0 1 404.31 82.94Q369.20 96.40 377.86 132.99Z" fill="#8a8a8a" fill-opacity="0.66" stroke="#4a4a4a" stroke-width="0.3" stroke-opacity="0.42"/>
<path d="M395.58 123.20A37.6 37.6 0 0 1 394.74 123.99Q369.20 96.40 382.16 131.70A37.6 37.6 0 0 1 381.38 131.97Q369.20 96.40 395.58 123.20Z" fill="#8a8a8a" fill-opacity="0.66" stroke="#4a4a4a" stroke-width="0.3" stroke-opacity="0.42"/>
<path d="M400.50 75.56A37.6 37.6 0 0 1 401.89 77.83Q369.20 96.40 338.56 74.61A37.6 37.6 0 0 1 344.50 68.05Q369.20 96.40 400.50 75.56Z" fill="#8a8a8a" fill-opacity="0.66" stroke="#4a4a4a" stroke-width="0.3" stroke-opacity="0.42"/>
<path d="M351.99 129.83A37.6 37.6 0 0 1 347.42 127.05Q369.20 96.40 406.76 98.14A37.6 37.6 0 0 1 406.58 100.46Q369.20 96.40 351.99 129.83Z" fill="#8a8a8a" fill-opacity="0.66" stroke="#4a4a4a" stroke-width="0.3" stroke-opacity="0.42"/>
<path d="M406.11 89.23A37.6 37.6 0 0 1 406.79 95.35Q369.20 96.40 336.22 114.45A37.6 37.6 0 0 1 335.70 113.47Q369.20 96.40 406.11 89.23Z" fill="#8a8a8a" fill-opacity="0.66" stroke="#4a4a4a" stroke-width="0.3" stroke-opacity="0.42"/>
<path d="M379.33 132.61A37.6 37.6 0 0 1 378.83 132.75Q369.20 96.40 401.89 77.83A37.6 37.6 0 0 1 403.73 81.51Q369.20 96.40 379.33 132.61Z" fill="#8a8a8a" fill-opacity="0.66" stroke="#4a4a4a" stroke-width="0.3" stroke-opacity="0.42"/>
<path d="M380.57 60.56A37.6 37.6 0 0 1 382.13 61.09Q369.20 96.40 374.59 133.61A37.6 37.6 0 0 1 373.49 133.75Q369.20 96.40 380.57 60.56Z" fill="#8a8a8a" fill-opacity="0.66" stroke="#4a4a4a" stroke-width="0.3" stroke-opacity="0.42"/>
<path d="M405.83 104.89A37.6 37.6 0 0 1 404.14 110.29Q369.20 96.40 356.08 61.16A37.6 37.6 0 0 1 358.13 60.47Q369.20 96.40 405.83 104.89Z" fill="#8a8a8a" fill-opacity="0.66" stroke="#4a4a4a" stroke-width="0.3" stroke-opacity="0.42"/>
<path d="M382.13 61.09A37.6 37.6 0 0 1 384.90 62.24Q369.20 96.40 394.74 123.99A37.6 37.6 0 0 1 393.33 125.24Q369.20 96.40 382.13 61.09Z" fill="#8a8a8a" fill-opacity="0.66" stroke="#4a4a4a" stroke-width="0.3" stroke-opacity="0.42"/>
<path d="M338.91 118.68A37.6 37.6 0 0 1 338.31 117.84Q369.20 96.40 389.50 128.05A37.6 37.6 0 0 1 388.82 128.47Q369.20 96.40 338.91 118.68Z" fill="#8a8a8a" fill-opacity="0.66" stroke="#4a4a4a" stroke-width="0.3" stroke-opacity="0.42"/>
<path d="M397.60 71.75A37.6 37.6 0 0 1 400.50 75.56Q369.20 96.40 392.42 66.83A37.6 37.6 0 0 1 392.81 67.14Q369.20 96.40 397.60 71.75Z" fill="#8a8a8a" fill-opacity="0.66" stroke="#4a4a4a" stroke-width="0.3" stroke-opacity="0.42"/>
<path d="M331.78 100.05A37.6 37.6 0 0 1 331.63 97.98Q369.20 96.40 347.96 65.38A37.6 37.6 0 0 1 348.84 64.79Q369.20 96.40 331.78 100.05Z" fill="#8a8a8a" fill-opacity="0.66" stroke="#4a4a4a" stroke-width="0.3" stroke-opacity="0.42"/>
<path d="M362.35 133.37A37.6 37.6 0 0 1 362.04 133.31Q369.20 96.40 399.40 118.80A37.6 37.6 0 0 1 399.28 118.96Q369.20 96.40 362.35 133.37Z" fill="#8a8a8a" fill-opacity="0.66" stroke="#4a4a4a" stroke-width="0.3" stroke-opacity="0.42"/>
<path d="M333.56 84.41A37.6 37.6 0 0 1 333.57 84.39Q369.20 96.40 362.04 133.31A37.6 37.6 0 0 1 359.16 132.63Q369.20 96.40 333.56 84.41Z" fill="#8a8a8a" fill-opacity="0.66" stroke="#4a4a4a" stroke-width="0.3" stroke-opacity="0.42"/>
<path d="M341.10 121.38A37.6 37.6 0 0 1 338.91 118.68Q369.20 96.40 344.50 68.05A37.6 37.6 0 0 1 345.63 67.10Q369.20 96.40 341.10 121.38Z" fill="#8a8a8a" fill-opacity="0.66" stroke="#4a4a4a" stroke-width="0.3" stroke-opacity="0.42"/>
<path d="M396.98 121.74A37.6 37.6 0 0 1 395.58 123.20Q369.20 96.40 381.38 131.97A37.6 37.6 0 0 1 380.57 132.24Q369.20 96.40 396.98 121.74Z" fill="#8a8a8a" fill-opacity="0.66" stroke="#4a4a4a" stroke-width="0.3" stroke-opacity="0.42"/>
<path d="M404.31 82.94A37.6 37.6 0 0 1 405.75 87.56Q369.20 96.40 390.09 65.14A37.6 37.6 0 0 1 392.42 66.83Q369.20 96.40 404.31 82.94Z" fill="#8a8a8a" fill-opacity="0.66" stroke="#4a4a4a" stroke-width="0.3" stroke-opacity="0.42"/>
<path d="M384.90 62.24A37.6 37.6 0 0 1 390.09 65.14Q369.20 96.40 397.85 120.75A37.6 37.6 0 0 1 396.98 121.74Q369.20 96.40 384.90 62.24Z" fill="#8a8a8a" fill-opacity="0.66" stroke="#4a4a4a" stroke-width="0.3" stroke-opacity="0.42"/>
<path d="M331.92 101.30A37.6 37.6 0 0 1 331.78 100.05Q369.20 96.40 379.82 132.47A37.6 37.6 0 0 1 379.33 132.61Q369.20 96.40 331.92 101.30Z" fill="#8a8a8a" fill-opacity="0.66" stroke="#4a4a4a" stroke-width="0.3" stroke-opacity="0.42"/>
<path d="M383.96 130.98A37.6 37.6 0 0 1 382.16 131.70Q369.20 96.40 346.94 66.10A37.6 37.6 0 0 1 347.31 65.83Q369.20 96.40 383.96 130.98Z" fill="#8a8a8a" fill-opacity="0.66" stroke="#4a4a4a" stroke-width="0.3" stroke-opacity="0.42"/>
<path d="M358.35 132.40A37.6 37.6 0 0 1 351.99 129.83Q369.20 96.40 351.31 63.33A37.6 37.6 0 0 1 356.08 61.16Q369.20 96.40 358.35 132.40Z" fill="#8a8a8a" fill-opacity="0.66" stroke="#4a4a4a" stroke-width="0.3" stroke-opacity="0.42"/>
<path d="M341.71 122.05A37.6 37.6 0 0 1 341.10 121.38Q369.20 96.40 394.49 68.58A37.6 37.6 0 0 1 395.21 69.25Q369.20 96.40 341.71 122.05Z" fill="#8a8a8a" fill-opacity="0.66" stroke="#4a4a4a" stroke-width="0.3" stroke-opacity="0.42"/>
<path d="M346.52 66.41A37.6 37.6 0 0 1 346.94 66.10Q369.20 96.40 349.02 64.68A37.6 37.6 0 0 1 351.31 63.33Q369.20 96.40 346.52 66.41Z" fill="#8a8a8a" fill-opacity="0.66" stroke="#4a4a4a" stroke-width="0.3" stroke-opacity="0.42"/>
<path d="M406.56 100.63A37.6 37.6 0 0 1 405.83 104.89Q369.20 96.40 334.35 110.52A37.6 37.6 0 0 1 333.10 106.93Q369.20 96.40 406.56 100.63Z" fill="#8a8a8a" fill-opacity="0.66" stroke="#4a4a4a" stroke-width="0.3" stroke-opacity="0.42"/>
<path d="M332.86 106.07A37.6 37.6 0 0 1 332.51 104.62Q369.20 96.40 388.82 128.47A37.6 37.6 0 0 1 383.96 130.98Q369.20 96.40 332.86 106.07Z" fill="#8a8a8a" fill-opacity="0.66" stroke="#4a4a4a" stroke-width="0.3" stroke-opacity="0.42"/>
<path d="M332.51 104.62A37.6 37.6 0 0 1 331.92 101.30Q369.20 96.40 345.63 67.10A37.6 37.6 0 0 1 346.52 66.41Q369.20 96.40 332.51 104.62Z" fill="#8a8a8a" fill-opacity="0.66" stroke="#4a4a4a" stroke-width="0.3" stroke-opacity="0.42"/>
<path d="M333.10 106.93A37.6 37.6 0 0 1 333.09 106.88Q369.20 96.40 393.42 67.64A37.6 37.6 0 0 1 394.49 68.58Q369.20 96.40 333.10 106.93Z" fill="#8a8a8a" fill-opacity="0.66" stroke="#4a4a4a" stroke-width="0.3" stroke-opacity="0.42"/>
<path d="M358.13 60.47A37.6 37.6 0 0 1 361.25 59.65Q369.20 96.40 337.60 76.02A37.6 37.6 0 0 1 338.56 74.61Q369.20 96.40 358.13 60.47Z" fill="#8a8a8a" fill-opacity="0.66" stroke="#4a4a4a" stroke-width="0.3" stroke-opacity="0.42"/>
<path d="M373.49 133.75A37.6 37.6 0 0 1 371.74 133.91Q369.20 96.40 400.55 117.15A37.6 37.6 0 0 1 399.40 118.80Q369.20 96.40 373.49 133.75Z" fill="#8a8a8a" fill-opacity="0.66" stroke="#4a4a4a" stroke-width="0.3" stroke-opacity="0.42"/>
<path d="M359.16 132.63A37.6 37.6 0 0 1 358.35 132.40Q369.20 96.40 331.63 97.98A37.6 37.6 0 0 1 331.62 97.69Q369.20 96.40 359.16 132.63Z" fill="#8a8a8a" fill-opacity="0.66" stroke="#4a4a4a" stroke-width="0.3" stroke-opacity="0.42"/>
<path d="M364.21 133.67A37.6 37.6 0 0 1 362.35 133.37Q369.20 96.40 348.84 64.79A37.6 37.6 0 0 1 349.02 64.68Q369.20 96.40 364.21 133.67Z" fill="#8a8a8a" fill-opacity="0.66" stroke="#4a4a4a" stroke-width="0.3" stroke-opacity="0.42"/>
<path d="M335.44 79.85A37.6 37.6 0 0 1 337.60 76.02Q369.20 96.40 332.48 88.30A37.6 37.6 0 0 1 333.32 85.16Q369.20 96.40 335.44 79.85Z" fill="#8a8a8a" fill-opacity="0.66" stroke="#4a4a4a" stroke-width="0.3" stroke-opacity="0.42"/>
<path d="M396.71 70.77A37.6 37.6 0 0 1 397.60 71.75Q369.20 96.40 378.83 132.75A37.6 37.6 0 0 1 377.86 132.99Q369.20 96.40 396.71 70.77Z" fill="#8a8a8a" fill-opacity="0.66" stroke="#4a4a4a" stroke-width="0.3" stroke-opacity="0.42"/>
<path d="M404.14 110.29A37.6 37.6 0 0 1 400.90 116.62Q369.20 96.40 335.70 113.47A37.6 37.6 0 0 1 334.35 110.52Q369.20 96.40 404.14 110.29Z" fill="#8a8a8a" fill-opacity="0.66" stroke="#4a4a4a" stroke-width="0.3" stroke-opacity="0.42"/>
<path d="M395.21 69.25A37.6 37.6 0 0 1 396.50 70.54Q369.20 96.40 333.09 106.88A37.6 37.6 0 0 1 333.07 106.83Q369.20 96.40 395.21 69.25Z" fill="#8a8a8a" fill-opacity="0.66" stroke="#4a4a4a" stroke-width="0.3" stroke-opacity="0.42"/>
<path d="M399.28 118.96A37.6 37.6 0 0 1 397.85 120.75Q369.20 96.40 400.90 116.62A37.6 37.6 0 0 1 400.55 117.15Q369.20 96.40 399.28 118.96Z" fill="#8a8a8a" fill-opacity="0.66" stroke="#4a4a4a" stroke-width="0.3" stroke-opacity="0.42"/>
<path d="M362.03 59.49A37.6 37.6 0 0 1 379.82 60.33L371.00 79.60Z" fill="#f07b7b" fill-opacity="0.75"/>
<path d="M362.03 59.49A37.6 37.6 0 0 1 364.18 59.14Q369.20 96.40 352.72 62.61A37.6 37.6 0 0 1 354.75 61.69Q369.20 96.40 362.03 59.49Z" fill="#f05a5a" fill-opacity="0.72"/>
<path d="M364.24 59.13A37.6 37.6 0 0 1 366.41 58.90Q369.20 96.40 336.00 78.75A37.6 37.6 0 0 1 337.11 76.81Q369.20 96.40 364.24 59.13Z" fill="#f05a5a" fill-opacity="0.72"/>
<path d="M366.48 58.90A37.6 37.6 0 0 1 368.66 58.80Q369.20 96.40 331.81 100.33A37.6 37.6 0 0 1 331.64 98.11Q369.20 96.40 366.48 58.90Z" fill="#f05a5a" fill-opacity="0.72"/>
<path d="M368.72 58.80A37.6 37.6 0 0 1 370.90 58.84Q369.20 96.40 343.27 123.63A37.6 37.6 0 0 1 341.70 122.04Q369.20 96.40 368.72 58.80Z" fill="#f05a5a" fill-opacity="0.72"/>
<path d="M370.97 58.84A37.6 37.6 0 0 1 373.14 59.01Q369.20 96.40 373.13 133.79A37.6 37.6 0 0 1 370.91 133.96Q369.20 96.40 370.97 58.84Z" fill="#f05a5a" fill-opacity="0.72"/>
<path d="M373.21 59.01A37.6 37.6 0 0 1 375.37 59.31Q369.20 96.40 405.84 104.86A37.6 37.6 0 0 1 405.27 107.02Q369.20 96.40 373.21 59.01Z" fill="#f05a5a" fill-opacity="0.72"/>
<path d="M375.44 59.32A37.6 37.6 0 0 1 377.58 59.74Q369.20 96.40 406.52 91.82A37.6 37.6 0 0 1 406.73 94.04Q369.20 96.40 375.44 59.32Z" fill="#f05a5a" fill-opacity="0.72"/>
<path d="M377.64 59.76A37.6 37.6 0 0 1 379.75 60.31Q369.20 96.40 405.52 86.67A37.6 37.6 0 0 1 406.03 88.84Q369.20 96.40 377.64 59.76Z" fill="#f05a5a" fill-opacity="0.72"/>
<path d="M414.00 96.01A44.8 44.8 0 0 1 382.67 139.13L380.93 133.59A39.0 39.0 0 0 0 408.20 96.06Z" fill="#a6cee3"/>
<path d="M381.92 139.36A44.8 44.8 0 0 1 343.18 132.87L346.55 128.15A39.0 39.0 0 0 0 380.28 133.79Z" fill="#1f78b4"/>
<path d="M342.55 132.41A44.8 44.8 0 0 1 326.14 108.75L331.71 107.15A39.0 39.0 0 0 0 346.00 127.75Z" fill="#b2df8a"/>
<path d="M325.93 108.00A44.8 44.8 0 0 1 326.47 82.93L332.01 84.67A39.0 39.0 0 0 0 331.53 106.49Z" fill="#33a02c"/>
<path d="M326.72 82.18A44.8 44.8 0 0 1 343.18 59.93L346.55 64.65A39.0 39.0 0 0 0 332.22 84.03Z" fill="#fb9a99"/>
<path d="M343.83 59.48A44.8 44.8 0 0 1 359.81 52.60L361.02 58.27A39.0 39.0 0 0 0 347.11 64.26Z" fill="#e31a1c"/>
<path d="M360.58 52.44A44.8 44.8 0 0 1 381.92 53.44L380.28 59.01A39.0 39.0 0 0 0 361.69 58.13Z" fill="#fdbf6f"/>
<path d="M382.67 53.67A44.8 44.8 0 0 1 397.39 61.58L393.74 66.09A39.0 39.0 0 0 0 380.93 59.21Z" fill="#ff7f00"/>
<path d="M398.00 62.08A44.8 44.8 0 0 1 412.76 85.94L407.12 87.30A39.0 39.0 0 0 0 394.27 66.52Z" fill="#cab2d6"/>
<path d="M412.94 86.70A44.8 44.8 0 0 1 413.98 95.23L408.19 95.38A39.0 39.0 0 0 0 407.28 87.96Z" fill="#6a3d9a"/>
<text x="408.7" y="127.8" font-size="8.8" font-weight="bold" text-anchor="middle" dominant-baseline="central" fill="#1a1a1a" transform="rotate(-51.5 408.7 127.8)">1</text>
<text x="358.7" y="145.8" font-size="8.8" font-weight="bold" text-anchor="middle" dominant-baseline="central" fill="#1a1a1a" transform="rotate(12.0 358.7 145.8)">2</text>
<text x="326.5" y="123.3" font-size="8.8" font-weight="bold" text-anchor="middle" dominant-baseline="central" fill="#1a1a1a" transform="rotate(57.8 326.5 123.3)">3</text>
<text x="330.0" y="64.6" font-size="8.8" font-weight="bold" text-anchor="middle" dominant-baseline="central" fill="#1a1a1a" transform="rotate(309.0 330.0 64.6)">5</text>
<text x="351.3" y="49.2" font-size="8.8" font-weight="bold" text-anchor="middle" dominant-baseline="central" fill="#1a1a1a" transform="rotate(339.2 351.3 49.2)">6</text>
<text x="373.8" y="46.1" font-size="8.8" font-weight="bold" text-anchor="middle" dominant-baseline="central" fill="#1a1a1a" transform="rotate(5.2 373.8 46.1)">7</text>
<text x="395.0" y="53.0" font-size="8.8" font-weight="bold" text-anchor="middle" dominant-baseline="central" fill="#1a1a1a" transform="rotate(30.8 395.0 53.0)">8</text>
<text x="413.3" y="71.7" font-size="8.8" font-weight="bold" text-anchor="middle" dominant-baseline="central" fill="#1a1a1a" transform="rotate(60.8 413.3 71.7)">9</text>
<text x="419.5" y="92.4" font-size="8.8" font-weight="bold" text-anchor="middle" dominant-baseline="central" fill="#1a1a1a" transform="rotate(85.5 419.5 92.4)">10</text>
<path d="M529.17 105.06A37.6 37.6 0 0 1 527.70 108.97Q493.30 93.80 491.54 131.36A37.6 37.6 0 0 1 487.81 131.00Q493.30 93.80 529.17 105.06Z" fill="#8a8a8a" fill-opacity="0.66" stroke="#4a4a4a" stroke-width="0.3" stroke-opacity="0.42"/>
<path d="M458.73 79.02A37.6 37.6 0 0 1 459.53 77.27Q493.30 93.80 507.58 128.58A37.6 37.6 0 0 1 507.22 128.73Q493.30 93.80 458.73 79.02Z" fill="#8a8a8a" fill-opacity="0.66" stroke="#4a4a4a" stroke-width="0.3" stroke-opacity="0.42"/>
<path d="M506.00 129.19A37.6 37.6 0 0 1 504.23 129.78Q493.30 93.80 509.49 59.87A37.6 37.6 0 0 1 511.58 60.94Q493.30 93.80 506.00 129.19Z" fill="#8a8a8a" fill-opacity="0.66" stroke="#4a4a4a" stroke-width="0.3" stroke-opacity="0.42"/>
<path d="M462.83 71.77A37.6 37.6 0 0 1 463.98 70.27Q493.30 93.80 529.79 102.88A37.6 37.6 0 0 1 529.17 105.06Q493.30 93.80 462.83 71.77Z" fill="#8a8a8a" fill-opacity="0.66" stroke="#4a4a4a" stroke-width="0.3" stroke-opacity="0.42"/>
<path d="M528.19 79.79A37.6 37.6 0 0 1 529.43 83.37Q493.30 93.80 473.78 61.66A37.6 37.6 0 0 1 473.99 61.54Q493.30 93.80 528.19 79.79Z" fill="#8a8a8a" fill-opacity="0.66" stroke="#4a4a4a" stroke-width="0.3" stroke-opacity="0.42"/>
<path d="M481.94 57.96A37.6 37.6 0 0 1 482.74 57.71Q493.30 93.80 506.06 129.17A37.6 37.6 0 0 1 506.00 129.19Q493.30 93.80 481.94 57.96Z" fill="#8a8a8a" fill-opacity="0.66" stroke="#4a4a4a" stroke-width="0.3" stroke-opacity="0.42"/>
<path d="M507.14 58.84A37.6 37.6 0 0 1 509.49 59.87Q493.30 93.80 463.36 116.55A37.6 37.6 0 0 1 461.74 114.24Q493.30 93.80 507.14 58.84Z" fill="#8a8a8a" fill-opacity="0.66" stroke="#4a4a4a" stroke-width="0.3" stroke-opacity="0.42"/>
<path d="M464.20 69.99A37.6 37.6 0 0 1 469.14 64.99Q493.30 93.80 526.11 75.43A37.6 37.6 0 0 1 527.07 77.27Q493.30 93.80 464.20 69.99Z" fill="#8a8a8a" fill-opacity="0.66" stroke="#4a4a4a" stroke-width="0.3" stroke-opacity="0.42"/>
<path d="M527.18 110.10A37.6 37.6 0 0 1 520.24 120.03Q493.30 93.80 456.99 103.58A37.6 37.6 0 0 1 455.89 97.61Q493.30 93.80 527.18 110.10Z" fill="#8a8a8a" fill-opacity="0.66" stroke="#4a4a4a" stroke-width="0.3" stroke-opacity="0.42"/>
<path d="M509.08 127.93A37.6 37.6 0 0 1 507.58 128.58Q493.30 93.80 465.22 118.80A37.6 37.6 0 0 1 464.36 117.81Q493.30 93.80 509.08 127.93Z" fill="#8a8a8a" fill-opacity="0.66" stroke="#4a4a4a" stroke-width="0.3" stroke-opacity="0.42"/>
<path d="M520.64 67.99A37.6 37.6 0 0 1 522.53 70.14Q493.30 93.80 530.80 96.50A37.6 37.6 0 0 1 530.40 99.91Q493.30 93.80 520.64 67.99Z" fill="#8a8a8a" fill-opacity="0.66" stroke="#4a4a4a" stroke-width="0.3" stroke-opacity="0.42"/>
<path d="M491.68 131.37A37.6 37.6 0 0 1 491.54 131.36Q493.30 93.80 473.99 61.54A37.6 37.6 0 0 1 480.67 58.38Q493.30 93.80 491.68 131.37Z" fill="#8a8a8a" fill-opacity="0.66" stroke="#4a4a4a" stroke-width="0.3" stroke-opacity="0.42"/>
<path d="M457.75 106.03A37.6 37.6 0 0 1 456.99 103.58Q493.30 93.80 498.69 56.59A37.6 37.6 0 0 1 498.79 56.60Q493.30 93.80 457.75 106.03Z" fill="#8a8a8a" fill-opacity="0.66" stroke="#4a4a4a" stroke-width="0.3" stroke-opacity="0.42"/>
<path d="M457.85 106.33A37.6 37.6 0 0 1 457.75 106.03Q493.30 93.80 530.76 90.54A37.6 37.6 0 0 1 530.90 93.41Q493.30 93.80 457.85 106.33Z" fill="#8a8a8a" fill-opacity="0.66" stroke="#4a4a4a" stroke-width="0.3" stroke-opacity="0.42"/>
<path d="M518.51 121.70A37.6 37.6 0 0 1 517.29 122.75Q493.30 93.80 458.91 109.00A37.6 37.6 0 0 1 458.85 108.86Q493.30 93.80 518.51 121.70Z" fill="#8a8a8a" fill-opacity="0.66" stroke="#4a4a4a" stroke-width="0.3" stroke-opacity="0.42"/>
<path d="M480.67 58.38A37.6 37.6 0 0 1 481.89 57.97Q493.30 93.80 460.95 112.97A37.6 37.6 0 0 1 458.94 109.06Q493.30 93.80 480.67 58.38Z" fill="#8a8a8a" fill-opacity="0.66" stroke="#4a4a4a" stroke-width="0.3" stroke-opacity="0.42"/>
<path d="M484.54 130.36A37.6 37.6 0 0 1 483.32 130.05Q493.30 93.80 463.98 70.27A37.6 37.6 0 0 1 464.20 69.99Q493.30 93.80 484.54 130.36Z" fill="#8a8a8a" fill-opacity="0.66" stroke="#4a4a4a" stroke-width="0.3" stroke-opacity="0.42"/>
<path d="M514.36 62.65A37.6 37.6 0 0 1 518.47 65.87Q493.30 93.80 517.29 122.75A37.6 37.6 0 0 1 516.44 123.43Q493.30 93.80 514.36 62.65Z" fill="#8a8a8a" fill-opacity="0.66" stroke="#4a4a4a" stroke-width="0.3" stroke-opacity="0.42"/>
<path d="M482.74 57.71A37.6 37.6 0 0 1 484.95 57.14Q493.30 93.80 530.24 100.84A37.6 37.6 0 0 1 529.79 102.88Q493.30 93.80 482.74 57.71Z" fill="#8a8a8a" fill-opacity="0.66" stroke="#4a4a4a" stroke-width="0.3" stroke-opacity="0.42"/>
<path d="M516.44 123.43A37.6 37.6 0 0 1 509.44 127.76Q493.30 93.80 497.21 131.20A37.6 37.6 0 0 1 491.68 131.37Q493.30 93.80 516.44 123.43Z" fill="#8a8a8a" fill-opacity="0.66" stroke="#4a4a4a" stroke-width="0.3" stroke-opacity="0.42"/>
<path d="M520.16 67.49A37.6 37.6 0 0 1 520.64 67.99Q493.30 93.80 527.70 108.97A37.6 37.6 0 0 1 527.18 110.10Q493.30 93.80 520.16 67.49Z" fill="#8a8a8a" fill-opacity="0.66" stroke="#4a4a4a" stroke-width="0.3" stroke-opacity="0.42"/>
<path d="M509.44 127.76A37.6 37.6 0 0 1 509.08 127.93Q493.30 93.80 464.36 117.81A37.6 37.6 0 0 1 464.01 117.37Q493.30 93.80 509.44 127.76Z" fill="#8a8a8a" fill-opacity="0.66" stroke="#4a4a4a" stroke-width="0.3" stroke-opacity="0.42"/>
<path d="M507.22 128.73A37.6 37.6 0 0 1 506.06 129.17Q493.30 93.80 472.94 125.41A37.6 37.6 0 0 1 466.28 119.95Q493.30 93.80 507.22 128.73Z" fill="#8a8a8a" fill-opacity="0.66" stroke="#4a4a4a" stroke-width="0.3" stroke-opacity="0.42"/>
<path d="M529.64 84.13A37.6 37.6 0 0 1 530.08 85.97Q493.30 93.80 460.00 76.35A37.6 37.6 0 0 1 460.32 75.73Q493.30 93.80 529.64 84.13Z" fill="#8a8a8a" fill-opacity="0.66" stroke="#4a4a4a" stroke-width="0.3" stroke-opacity="0.42"/>
<path d="M530.87 95.32A37.6 37.6 0 0 1 530.80 96.50Q493.30 93.80 460.32 75.73A37.6 37.6 0 0 1 461.96 73.02Q493.30 93.80 530.87 95.32Z" fill="#8a8a8a" fill-opacity="0.66" stroke="#4a4a4a" stroke-width="0.3" stroke-opacity="0.42"/>
<path d="M471.68 63.04A37.6 37.6 0 0 1 473.78 61.66Q493.30 93.80 461.74 114.24A37.6 37.6 0 0 1 460.95 112.97Q493.30 93.80 471.68 63.04Z" fill="#8a8a8a" fill-opacity="0.66" stroke="#4a4a4a" stroke-width="0.3" stroke-opacity="0.42"/>
<path d="M474.51 126.37A37.6 37.6 0 0 1 472.94 125.41Q493.30 93.80 455.87 97.40A37.6 37.6 0 0 1 455.85 97.13Q493.30 93.80 474.51 126.37Z" fill="#8a8a8a" fill-opacity="0.66" stroke="#4a4a4a" stroke-width="0.3" stroke-opacity="0.42"/>
<path d="M487.81 131.00A37.6 37.6 0 0 1 486.29 130.74Q493.30 93.80 456.23 87.53A37.6 37.6 0 0 1 458.62 79.28Q493.30 93.80 487.81 131.00Z" fill="#8a8a8a" fill-opacity="0.66" stroke="#4a4a4a" stroke-width="0.3" stroke-opacity="0.42"/>
<path d="M455.85 97.13A37.6 37.6 0 0 1 455.92 89.71Q493.30 93.80 459.53 77.27A37.6 37.6 0 0 1 460.00 76.35Q493.30 93.80 455.85 97.13Z" fill="#8a8a8a" fill-opacity="0.66" stroke="#4a4a4a" stroke-width="0.3" stroke-opacity="0.42"/>
<path d="M485.40 57.04A37.6 37.6 0 0 1 496.79 56.36Q493.30 93.80 458.62 79.28A37.6 37.6 0 0 1 458.73 79.02Q493.30 93.80 485.40 57.04Z" fill="#8a8a8a" fill-opacity="0.66" stroke="#4a4a4a" stroke-width="0.3" stroke-opacity="0.42"/>
<path d="M486.29 130.74A37.6 37.6 0 0 1 484.54 130.36Q493.30 93.80 462.61 72.08A37.6 37.6 0 0 1 462.83 71.77Q493.30 93.80 486.29 130.74Z" fill="#8a8a8a" fill-opacity="0.66" stroke="#4a4a4a" stroke-width="0.3" stroke-opacity="0.42"/>
<path d="M504.23 129.78A37.6 37.6 0 0 1 504.17 129.80Q493.30 93.80 458.85 108.86A37.6 37.6 0 0 1 458.34 107.64Q493.30 93.80 504.23 129.78Z" fill="#8a8a8a" fill-opacity="0.66" stroke="#4a4a4a" stroke-width="0.3" stroke-opacity="0.42"/>
<path d="M458.94 109.06A37.6 37.6 0 0 1 458.91 109.00Q493.30 93.80 530.08 85.97A37.6 37.6 0 0 1 530.76 90.54Q493.30 93.80 458.94 109.06Z" fill="#8a8a8a" fill-opacity="0.66" stroke="#4a4a4a" stroke-width="0.3" stroke-opacity="0.42"/>
<path d="M484.95 57.14A37.6 37.6 0 0 1 485.40 57.04Q493.30 93.80 503.41 130.01A37.6 37.6 0 0 1 499.64 130.86Q493.30 93.80 484.95 57.14Z" fill="#8a8a8a" fill-opacity="0.66" stroke="#4a4a4a" stroke-width="0.3" stroke-opacity="0.42"/>
<path d="M478.03 128.16A37.6 37.6 0 0 1 474.51 126.37Q493.30 93.80 511.58 60.94A37.6 37.6 0 0 1 511.85 61.09Q493.30 93.80 478.03 128.16Z" fill="#8a8a8a" fill-opacity="0.66" stroke="#4a4a4a" stroke-width="0.3" stroke-opacity="0.42"/>
<path d="M496.79 56.36A37.6 37.6 0 0 1 497.44 56.43Q493.30 93.80 524.36 72.62A37.6 37.6 0 0 1 526.11 75.43Q493.30 93.80 496.79 56.36Z" fill="#8a8a8a" fill-opacity="0.66" stroke="#4a4a4a" stroke-width="0.3" stroke-opacity="0.42"/>
<path d="M511.85 61.09A37.6 37.6 0 0 1 514.36 62.65Q493.30 93.80 530.40 99.91A37.6 37.6 0 0 1 530.24 100.84Q493.30 93.80 511.85 61.09Z" fill="#8a8a8a" fill-opacity="0.66" stroke="#4a4a4a" stroke-width="0.3" stroke-opacity="0.42"/>
<path d="M482.56 129.83A37.6 37.6 0 0 1 478.03 128.16Q493.30 93.80 455.92 89.71A37.6 37.6 0 0 1 456.10 88.31Q493.30 93.80 482.56 129.83Z" fill="#8a8a8a" fill-opacity="0.66" stroke="#4a4a4a" stroke-width="0.3" stroke-opacity="0.42"/>
<path d="M499.64 130.86A37.6 37.6 0 0 1 497.21 131.20Q493.30 93.80 520.24 120.03A37.6 37.6 0 0 1 518.51 121.70Q493.30 93.80 499.64 130.86Z" fill="#8a8a8a" fill-opacity="0.66" stroke="#4a4a4a" stroke-width="0.3" stroke-opacity="0.42"/>
<path d="M461.96 73.02A37.6 37.6 0 0 1 462.61 72.08Q493.30 93.80 497.44 56.43A37.6 37.6 0 0 1 498.69 56.59Q493.30 93.80 461.96 73.02Z" fill="#8a8a8a" fill-opacity="0.66" stroke="#4a4a4a" stroke-width="0.3" stroke-opacity="0.42"/>
<path d="M522.53 70.14A37.6 37.6 0 0 1 524.36 72.62Q493.30 93.80 455.89 97.61A37.6 37.6 0 0 1 455.87 97.40Q493.30 93.80 522.53 70.14Z" fill="#8a8a8a" fill-opacity="0.66" stroke="#4a4a4a" stroke-width="0.3" stroke-opacity="0.42"/>
<path d="M530.90 94.19A37.6 37.6 0 0 1 530.87 95.32Q493.30 93.80 466.28 119.95A37.6 37.6 0 0 1 465.22 118.80Q493.30 93.80 530.90 94.19Z" fill="#8a8a8a" fill-opacity="0.66" stroke="#4a4a4a" stroke-width="0.3" stroke-opacity="0.42"/>
<path d="M469.14 64.99A37.6 37.6 0 0 1 471.04 63.50Q493.30 93.80 527.07 77.27A37.6 37.6 0 0 1 528.19 79.79Q493.30 93.80 469.14 64.99Z" fill="#8a8a8a" fill-opacity="0.66" stroke="#4a4a4a" stroke-width="0.3" stroke-opacity="0.42"/>
<path d="M518.47 65.87A37.6 37.6 0 0 1 519.61 66.94Q493.30 93.80 458.06 106.91A37.6 37.6 0 0 1 457.85 106.33Q493.30 93.80 518.47 65.87Z" fill="#8a8a8a" fill-opacity="0.66" stroke="#4a4a4a" stroke-width="0.3" stroke-opacity="0.42"/>
<path d="M464.01 117.37A37.6 37.6 0 0 1 463.36 116.55Q493.30 93.80 481.89 57.97A37.6 37.6 0 0 1 481.94 57.96Q493.30 93.80 464.01 117.37Z" fill="#8a8a8a" fill-opacity="0.66" stroke="#4a4a4a" stroke-width="0.3" stroke-opacity="0.42"/>
<path d="M499.57 56.73A37.6 37.6 0 0 1 506.41 58.56L498.00 76.00Z" fill="#f07b7b" fill-opacity="0.75"/>
<path d="M499.57 56.73A37.6 37.6 0 0 1 500.09 56.82Q493.30 93.80 477.41 59.72A37.6 37.6 0 0 1 477.95 59.48Q493.30 93.80 499.57 56.73Z" fill="#f05a5a" fill-opacity="0.72"/>
<path d="M500.44 56.88A37.6 37.6 0 0 1 500.96 56.99Q493.30 93.80 456.98 84.07A37.6 37.6 0 0 1 457.14 83.50Q493.30 93.80 500.44 56.88Z" fill="#f05a5a" fill-opacity="0.72"/>
<path d="M501.31 57.06A37.6 37.6 0 0 1 501.83 57.18Q493.30 93.80 456.27 100.33A37.6 37.6 0 0 1 456.17 99.75Q493.30 93.80 501.31 57.06Z" fill="#f05a5a" fill-opacity="0.72"/>
<path d="M502.17 57.26A37.6 37.6 0 0 1 502.69 57.39Q493.30 93.80 477.41 127.88A37.6 37.6 0 0 1 476.88 127.62Q493.30 93.80 502.17 57.26Z" fill="#f05a5a" fill-opacity="0.72"/>
<path d="M503.03 57.48A37.6 37.6 0 0 1 503.54 57.62Q493.30 93.80 496.58 131.26A37.6 37.6 0 0 1 495.99 131.30Q493.30 93.80 503.03 57.48Z" fill="#f05a5a" fill-opacity="0.72"/>
<path d="M503.88 57.72A37.6 37.6 0 0 1 504.39 57.87Q493.30 93.80 530.53 99.03A37.6 37.6 0 0 1 530.45 99.62Q493.30 93.80 503.88 57.72Z" fill="#f05a5a" fill-opacity="0.72"/>
<path d="M504.73 57.98A37.6 37.6 0 0 1 505.24 58.15Q493.30 93.80 530.33 87.27A37.6 37.6 0 0 1 530.43 87.85Q493.30 93.80 504.73 57.98Z" fill="#f05a5a" fill-opacity="0.72"/>
<path d="M505.57 58.26A37.6 37.6 0 0 1 506.07 58.44Q493.30 93.80 521.24 68.64A37.6 37.6 0 0 1 521.63 69.08Q493.30 93.80 505.57 58.26Z" fill="#f05a5a" fill-opacity="0.72"/>
<path d="M538.10 94.19A44.8 44.8 0 0 1 506.17 136.71L504.51 131.16A39.0 39.0 0 0 0 532.30 94.14Z" fill="#a6cee3"/>
<path d="M505.42 136.93A44.8 44.8 0 0 1 481.33 136.97L482.88 131.38A39.0 39.0 0 0 0 503.85 131.34Z" fill="#1f78b4"/>
<path d="M480.58 136.76A44.8 44.8 0 0 1 451.62 110.22L457.01 108.09A39.0 39.0 0 0 0 482.22 131.19Z" fill="#b2df8a"/>
<path d="M451.34 109.49A44.8 44.8 0 0 1 448.99 87.18L454.73 88.04A39.0 39.0 0 0 0 456.77 107.46Z" fill="#33a02c"/>
<path d="M449.11 86.41A44.8 44.8 0 0 1 466.84 57.65L470.27 62.33A39.0 39.0 0 0 0 454.83 87.36Z" fill="#fb9a99"/>
<path d="M467.48 57.19A44.8 44.8 0 0 1 499.92 49.49L499.06 55.23A39.0 39.0 0 0 0 470.82 61.93Z" fill="#e31a1c"/>
<path d="M500.69 49.61A44.8 44.8 0 0 1 508.99 51.84L506.96 57.27A39.0 39.0 0 0 0 499.74 55.33Z" fill="#fdbf6f"/>
<path d="M509.72 52.12A44.8 44.8 0 0 1 524.70 61.85L520.64 65.98A39.0 39.0 0 0 0 507.59 57.51Z" fill="#ff7f00"/>
<path d="M525.25 62.40A44.8 44.8 0 0 1 536.36 81.45L530.79 83.05A39.0 39.0 0 0 0 521.12 66.46Z" fill="#cab2d6"/>
<path d="M536.57 82.20A44.8 44.8 0 0 1 538.10 93.41L532.30 93.46A39.0 39.0 0 0 0 530.97 83.71Z" fill="#6a3d9a"/>
<text x="532.3" y="125.9" font-size="8.8" font-weight="bold" text-anchor="middle" dominant-baseline="central" fill="#1a1a1a" transform="rotate(-50.6 532.3 125.9)">1</text>
<text x="491.2" y="144.3" font-size="8.8" font-weight="bold" text-anchor="middle" dominant-baseline="central" fill="#1a1a1a" transform="rotate(2.4 491.2 144.3)">2</text>
<text x="457.6" y="129.5" font-size="8.8" font-weight="bold" text-anchor="middle" dominant-baseline="central" fill="#1a1a1a" transform="rotate(45.0 457.6 129.5)">3</text>
<text x="451.5" y="65.5" font-size="8.8" font-weight="bold" text-anchor="middle" dominant-baseline="central" fill="#1a1a1a" transform="rotate(304.1 451.5 65.5)">5</text>
<text x="483.8" y="44.2" font-size="8.8" font-weight="bold" text-anchor="middle" dominant-baseline="central" fill="#1a1a1a" transform="rotate(349.1 483.8 44.2)">6</text>
<text x="508.5" y="45.6" font-size="8.8" font-weight="bold" text-anchor="middle" dominant-baseline="central" fill="#1a1a1a" transform="rotate(17.5 508.5 45.6)">7</text>
<text x="522.6" y="52.7" font-size="8.8" font-weight="bold" text-anchor="middle" dominant-baseline="central" fill="#1a1a1a" transform="rotate(35.5 522.6 52.7)">8</text>
<text x="538.0" y="70.3" font-size="8.8" font-weight="bold" text-anchor="middle" dominant-baseline="central" fill="#1a1a1a" transform="rotate(62.2 538.0 70.3)">9</text>
<text x="543.6" y="89.2" font-size="8.8" font-weight="bold" text-anchor="middle" dominant-baseline="central" fill="#1a1a1a" transform="rotate(84.8 543.6 89.2)">10</text>
<path d="M647.10 121.99A37.6 37.6 0 0 1 646.53 122.50Q622.00 94.00 646.49 65.47A37.6 37.6 0 0 1 649.80 68.68Q622.00 94.00 647.10 121.99Z" fill="#8a8a8a" fill-opacity="0.66" stroke="#4a4a4a" stroke-width="0.3" stroke-opacity="0.42"/>
<path d="M601.08 125.24A37.6 37.6 0 0 1 599.93 124.44Q622.00 94.00 595.83 67.01A37.6 37.6 0 0 1 598.70 64.49Q622.00 94.00 601.08 125.24Z" fill="#8a8a8a" fill-opacity="0.66" stroke="#4a4a4a" stroke-width="0.3" stroke-opacity="0.42"/>
<path d="M601.44 125.48A37.6 37.6 0 0 1 601.08 125.24Q622.00 94.00 585.73 84.10A37.6 37.6 0 0 1 586.36 82.02Q622.00 94.00 601.44 125.48Z" fill="#8a8a8a" fill-opacity="0.66" stroke="#4a4a4a" stroke-width="0.3" stroke-opacity="0.42"/>
<path d="M608.16 59.04A37.6 37.6 0 0 1 608.72 58.82Q622.00 94.00 585.18 86.40A37.6 37.6 0 0 1 585.34 85.67Q622.00 94.00 608.16 59.04Z" fill="#8a8a8a" fill-opacity="0.66" stroke="#4a4a4a" stroke-width="0.3" stroke-opacity="0.42"/>
<path d="M603.34 126.64A37.6 37.6 0 0 1 602.39 126.08Q622.00 94.00 599.32 64.01A37.6 37.6 0 0 1 600.94 62.85Q622.00 94.00 603.34 126.64Z" fill="#8a8a8a" fill-opacity="0.66" stroke="#4a4a4a" stroke-width="0.3" stroke-opacity="0.42"/>
<path d="M600.94 62.85A37.6 37.6 0 0 1 603.91 61.04Q622.00 94.00 584.72 89.09A37.6 37.6 0 0 1 584.83 88.36Q622.00 94.00 600.94 62.85Z" fill="#8a8a8a" fill-opacity="0.66" stroke="#4a4a4a" stroke-width="0.3" stroke-opacity="0.42"/>
<path d="M658.33 103.71A37.6 37.6 0 0 1 656.87 108.06Q622.00 94.00 584.83 88.36A37.6 37.6 0 0 1 585.15 86.52Q622.00 94.00 658.33 103.71Z" fill="#8a8a8a" fill-opacity="0.66" stroke="#4a4a4a" stroke-width="0.3" stroke-opacity="0.42"/>
<path d="M589.33 112.61A37.6 37.6 0 0 1 586.97 107.65Q622.00 94.00 629.30 130.88A37.6 37.6 0 0 1 621.63 131.60Q622.00 94.00 589.33 112.61Z" fill="#8a8a8a" fill-opacity="0.66" stroke="#4a4a4a" stroke-width="0.3" stroke-opacity="0.42"/>
<path d="M646.40 122.61A37.6 37.6 0 0 1 645.77 123.13Q622.00 94.00 619.29 131.50A37.6 37.6 0 0 1 618.35 131.42Q622.00 94.00 646.40 122.61Z" fill="#8a8a8a" fill-opacity="0.66" stroke="#4a4a4a" stroke-width="0.3" stroke-opacity="0.42"/>
<path d="M638.55 60.24A37.6 37.6 0 0 1 644.05 63.54Q622.00 94.00 658.64 85.56A37.6 37.6 0 0 1 659.02 87.41Q622.00 94.00 638.55 60.24Z" fill="#8a8a8a" fill-opacity="0.66" stroke="#4a4a4a" stroke-width="0.3" stroke-opacity="0.42"/>
<path d="M621.63 131.60A37.6 37.6 0 0 1 619.29 131.50Q622.00 94.00 585.05 100.97A37.6 37.6 0 0 1 584.81 99.50Q622.00 94.00 621.63 131.60Z" fill="#8a8a8a" fill-opacity="0.66" stroke="#4a4a4a" stroke-width="0.3" stroke-opacity="0.42"/>
<path d="M656.05 78.05A37.6 37.6 0 0 1 656.27 78.54Q622.00 94.00 586.36 82.02A37.6 37.6 0 0 1 586.77 80.85Q622.00 94.00 656.05 78.05Z" fill="#8a8a8a" fill-opacity="0.66" stroke="#4a4a4a" stroke-width="0.3" stroke-opacity="0.42"/>
<path d="M657.08 80.46A37.6 37.6 0 0 1 658.64 85.56Q622.00 94.00 585.15 86.52A37.6 37.6 0 0 1 585.18 86.40Q622.00 94.00 657.08 80.46Z" fill="#8a8a8a" fill-opacity="0.66" stroke="#4a4a4a" stroke-width="0.3" stroke-opacity="0.42"/>
<path d="M619.96 56.46A37.6 37.6 0 0 1 626.06 56.62Q622.00 94.00 637.59 59.79A37.6 37.6 0 0 1 638.55 60.24Q622.00 94.00 619.96 56.46Z" fill="#8a8a8a" fill-opacity="0.66" stroke="#4a4a4a" stroke-width="0.3" stroke-opacity="0.42"/>
<path d="M606.85 59.59A37.6 37.6 0 0 1 608.16 59.04Q622.00 94.00 584.61 90.07A37.6 37.6 0 0 1 584.72 89.09Q622.00 94.00 606.85 59.59Z" fill="#8a8a8a" fill-opacity="0.66" stroke="#4a4a4a" stroke-width="0.3" stroke-opacity="0.42"/>
<path d="M599.93 124.44A37.6 37.6 0 0 1 594.28 119.40Q622.00 94.00 606.34 128.18A37.6 37.6 0 0 1 603.34 126.64Q622.00 94.00 599.93 124.44Z" fill="#8a8a8a" fill-opacity="0.66" stroke="#4a4a4a" stroke-width="0.3" stroke-opacity="0.42"/>
<path d="M644.75 64.07A37.6 37.6 0 0 1 645.71 64.82Q622.00 94.00 584.66 98.39A37.6 37.6 0 0 1 584.53 90.85Q622.00 94.00 644.75 64.07Z" fill="#8a8a8a" fill-opacity="0.66" stroke="#4a4a4a" stroke-width="0.3" stroke-opacity="0.42"/>
<path d="M611.47 57.90A37.6 37.6 0 0 1 613.06 57.48Q622.00 94.00 584.81 99.50A37.6 37.6 0 0 1 584.66 98.39Q622.00 94.00 611.47 57.90Z" fill="#8a8a8a" fill-opacity="0.66" stroke="#4a4a4a" stroke-width="0.3" stroke-opacity="0.42"/>
<path d="M659.60 94.39A37.6 37.6 0 0 1 659.48 97.05Q622.00 94.00 608.65 129.15A37.6 37.6 0 0 1 606.54 128.27Q622.00 94.00 659.60 94.39Z" fill="#8a8a8a" fill-opacity="0.66" stroke="#4a4a4a" stroke-width="0.3" stroke-opacity="0.42"/>
<path d="M656.24 109.54A37.6 37.6 0 0 1 652.84 115.50Q622.00 94.00 654.92 75.83A37.6 37.6 0 0 1 655.71 77.34Q622.00 94.00 656.24 109.54Z" fill="#8a8a8a" fill-opacity="0.66" stroke="#4a4a4a" stroke-width="0.3" stroke-opacity="0.42"/>
<path d="M585.24 101.89A37.6 37.6 0 0 1 585.05 100.97Q622.00 94.00 611.26 57.97A37.6 37.6 0 0 1 611.47 57.90Q622.00 94.00 585.24 101.89Z" fill="#8a8a8a" fill-opacity="0.66" stroke="#4a4a4a" stroke-width="0.3" stroke-opacity="0.42"/>
<path d="M651.30 117.56A37.6 37.6 0 0 1 651.07 117.85Q622.00 94.00 594.28 119.40A37.6 37.6 0 0 1 590.67 114.79Q622.00 94.00 651.30 117.56Z" fill="#8a8a8a" fill-opacity="0.66" stroke="#4a4a4a" stroke-width="0.3" stroke-opacity="0.42"/>
<path d="M585.34 85.67A37.6 37.6 0 0 1 585.73 84.10Q622.00 94.00 656.40 109.17A37.6 37.6 0 0 1 656.24 109.54Q622.00 94.00 585.34 85.67Z" fill="#8a8a8a" fill-opacity="0.66" stroke="#4a4a4a" stroke-width="0.3" stroke-opacity="0.42"/>
<path d="M656.27 78.54A37.6 37.6 0 0 1 657.08 80.46Q622.00 94.00 644.05 63.54A37.6 37.6 0 0 1 644.75 64.07Q622.00 94.00 656.27 78.54Z" fill="#8a8a8a" fill-opacity="0.66" stroke="#4a4a4a" stroke-width="0.3" stroke-opacity="0.42"/>
<path d="M612.64 130.42A37.6 37.6 0 0 1 611.38 130.07Q622.00 94.00 586.77 80.85A37.6 37.6 0 0 1 589.97 74.31Q622.00 94.00 612.64 130.42Z" fill="#8a8a8a" fill-opacity="0.66" stroke="#4a4a4a" stroke-width="0.3" stroke-opacity="0.42"/>
<path d="M651.09 70.17A37.6 37.6 0 0 1 652.02 71.37Q622.00 94.00 602.39 126.08A37.6 37.6 0 0 1 601.44 125.48Q622.00 94.00 651.09 70.17Z" fill="#8a8a8a" fill-opacity="0.66" stroke="#4a4a4a" stroke-width="0.3" stroke-opacity="0.42"/>
<path d="M616.25 56.84A37.6 37.6 0 0 1 619.96 56.46Q622.00 94.00 659.02 87.41A37.6 37.6 0 0 1 659.24 88.83Q622.00 94.00 616.25 56.84Z" fill="#8a8a8a" fill-opacity="0.66" stroke="#4a4a4a" stroke-width="0.3" stroke-opacity="0.42"/>
<path d="M610.63 129.84A37.6 37.6 0 0 1 610.40 129.77Q622.00 94.00 589.97 74.31A37.6 37.6 0 0 1 593.26 69.75Q622.00 94.00 610.63 129.84Z" fill="#8a8a8a" fill-opacity="0.66" stroke="#4a4a4a" stroke-width="0.3" stroke-opacity="0.42"/>
<path d="M659.48 97.05A37.6 37.6 0 0 1 658.33 103.71Q622.00 94.00 614.08 130.76A37.6 37.6 0 0 1 612.64 130.42Q622.00 94.00 659.48 97.05Z" fill="#8a8a8a" fill-opacity="0.66" stroke="#4a4a4a" stroke-width="0.3" stroke-opacity="0.42"/>
<path d="M634.50 129.46A37.6 37.6 0 0 1 632.83 130.01Q622.00 94.00 585.55 103.22A37.6 37.6 0 0 1 585.24 101.89Q622.00 94.00 634.50 129.46Z" fill="#8a8a8a" fill-opacity="0.66" stroke="#4a4a4a" stroke-width="0.3" stroke-opacity="0.42"/>
<path d="M590.67 114.79A37.6 37.6 0 0 1 589.33 112.61Q622.00 94.00 656.87 108.06A37.6 37.6 0 0 1 656.40 109.17Q622.00 94.00 590.67 114.79Z" fill="#8a8a8a" fill-opacity="0.66" stroke="#4a4a4a" stroke-width="0.3" stroke-opacity="0.42"/>
<path d="M648.81 120.36A37.6 37.6 0 0 1 647.10 121.99Q622.00 94.00 593.26 69.75A37.6 37.6 0 0 1 595.83 67.01Q622.00 94.00 648.81 120.36Z" fill="#8a8a8a" fill-opacity="0.66" stroke="#4a4a4a" stroke-width="0.3" stroke-opacity="0.42"/>
<path d="M610.83 58.10A37.6 37.6 0 0 1 611.26 57.97Q622.00 94.00 646.32 65.32A37.6 37.6 0 0 1 646.49 65.47Q622.00 94.00 610.83 58.10Z" fill="#8a8a8a" fill-opacity="0.66" stroke="#4a4a4a" stroke-width="0.3" stroke-opacity="0.42"/>
<path d="M659.24 88.83A37.6 37.6 0 0 1 659.60 93.61Q622.00 94.00 631.73 130.32A37.6 37.6 0 0 1 630.07 130.72Q622.00 94.00 659.24 88.83Z" fill="#8a8a8a" fill-opacity="0.66" stroke="#4a4a4a" stroke-width="0.3" stroke-opacity="0.42"/>
<path d="M618.35 131.42A37.6 37.6 0 0 1 616.05 131.13Q622.00 94.00 649.80 68.68A37.6 37.6 0 0 1 651.09 70.17Q622.00 94.00 618.35 131.42Z" fill="#8a8a8a" fill-opacity="0.66" stroke="#4a4a4a" stroke-width="0.3" stroke-opacity="0.42"/>
<path d="M651.07 117.85A37.6 37.6 0 0 1 650.26 118.80Q622.00 94.00 645.77 123.14A37.6 37.6 0 0 1 638.77 127.65Q622.00 94.00 651.07 117.85Z" fill="#8a8a8a" fill-opacity="0.66" stroke="#4a4a4a" stroke-width="0.3" stroke-opacity="0.42"/>
<path d="M638.77 127.65A37.6 37.6 0 0 1 635.36 129.15Q622.00 94.00 616.05 131.13A37.6 37.6 0 0 1 614.08 130.76Q622.00 94.00 638.77 127.65Z" fill="#8a8a8a" fill-opacity="0.66" stroke="#4a4a4a" stroke-width="0.3" stroke-opacity="0.42"/>
<path d="M650.26 118.80A37.6 37.6 0 0 1 648.81 120.36Q622.00 94.00 610.40 129.77A37.6 37.6 0 0 1 608.65 129.15Q622.00 94.00 650.26 118.80Z" fill="#8a8a8a" fill-opacity="0.66" stroke="#4a4a4a" stroke-width="0.3" stroke-opacity="0.42"/>
<path d="M606.54 128.27A37.6 37.6 0 0 1 606.34 128.18Q622.00 94.00 603.91 61.04A37.6 37.6 0 0 1 606.85 59.59Q622.00 94.00 606.54 128.27Z" fill="#8a8a8a" fill-opacity="0.66" stroke="#4a4a4a" stroke-width="0.3" stroke-opacity="0.42"/>
<path d="M613.06 57.48A37.6 37.6 0 0 1 616.25 56.84Q622.00 94.00 585.96 104.70A37.6 37.6 0 0 1 585.75 103.98Q622.00 94.00 613.06 57.48Z" fill="#8a8a8a" fill-opacity="0.66" stroke="#4a4a4a" stroke-width="0.3" stroke-opacity="0.42"/>
<path d="M645.77 123.13A37.6 37.6 0 0 1 645.77 123.14Q622.00 94.00 646.53 122.50A37.6 37.6 0 0 1 646.40 122.61Q622.00 94.00 645.77 123.13Z" fill="#8a8a8a" fill-opacity="0.66" stroke="#4a4a4a" stroke-width="0.3" stroke-opacity="0.42"/>
<path d="M652.02 71.37A37.6 37.6 0 0 1 654.92 75.83Q622.00 94.00 608.72 58.82A37.6 37.6 0 0 1 610.83 58.10Q622.00 94.00 652.02 71.37Z" fill="#8a8a8a" fill-opacity="0.66" stroke="#4a4a4a" stroke-width="0.3" stroke-opacity="0.42"/>
<path d="M652.84 115.50A37.6 37.6 0 0 1 651.30 117.56Q622.00 94.00 586.97 107.65A37.6 37.6 0 0 1 585.96 104.70Q622.00 94.00 652.84 115.50Z" fill="#8a8a8a" fill-opacity="0.66" stroke="#4a4a4a" stroke-width="0.3" stroke-opacity="0.42"/>
<path d="M635.36 129.15A37.6 37.6 0 0 1 634.50 129.46Q622.00 94.00 632.83 130.01A37.6 37.6 0 0 1 631.73 130.32Q622.00 94.00 635.36 129.15Z" fill="#8a8a8a" fill-opacity="0.66" stroke="#4a4a4a" stroke-width="0.3" stroke-opacity="0.42"/>
<path d="M626.84 56.71A37.6 37.6 0 0 1 636.87 59.47L630.20 72.10Z" fill="#f07b7b" fill-opacity="0.75"/>
<path d="M626.84 56.71A37.6 37.6 0 0 1 627.62 56.82Q622.00 94.00 609.14 58.67A37.6 37.6 0 0 1 609.70 58.47Q622.00 94.00 626.84 56.71Z" fill="#f05a5a" fill-opacity="0.72"/>
<path d="M628.13 56.90A37.6 37.6 0 0 1 628.90 57.04Q622.00 94.00 587.92 78.11A37.6 37.6 0 0 1 588.18 77.58Q622.00 94.00 628.13 56.90Z" fill="#f05a5a" fill-opacity="0.72"/>
<path d="M629.42 57.14A37.6 37.6 0 0 1 630.18 57.30Q622.00 94.00 584.42 95.31A37.6 37.6 0 0 1 584.41 94.72Q622.00 94.00 629.42 57.14Z" fill="#f05a5a" fill-opacity="0.72"/>
<path d="M630.69 57.42A37.6 37.6 0 0 1 631.45 57.61Q622.00 94.00 604.06 127.04A37.6 37.6 0 0 1 603.54 126.76Q622.00 94.00 630.69 57.42Z" fill="#f05a5a" fill-opacity="0.72"/>
<path d="M631.95 57.74A37.6 37.6 0 0 1 632.71 57.96Q622.00 94.00 624.62 131.51A37.6 37.6 0 0 1 624.03 131.54Q622.00 94.00 631.95 57.74Z" fill="#f05a5a" fill-opacity="0.72"/>
<path d="M633.20 58.11A37.6 37.6 0 0 1 633.95 58.35Q622.00 94.00 658.32 103.73A37.6 37.6 0 0 1 658.16 104.30Q622.00 94.00 633.20 58.11Z" fill="#f05a5a" fill-opacity="0.72"/>
<path d="M634.44 58.52A37.6 37.6 0 0 1 635.18 58.79Q622.00 94.00 659.46 90.72A37.6 37.6 0 0 1 659.50 91.31Q622.00 94.00 634.44 58.52Z" fill="#f05a5a" fill-opacity="0.72"/>
<path d="M635.67 58.97A37.6 37.6 0 0 1 636.39 59.26Q622.00 94.00 652.80 72.43A37.6 37.6 0 0 1 653.14 72.92Q622.00 94.00 635.67 58.97Z" fill="#f05a5a" fill-opacity="0.72"/>
<path d="M666.80 94.39A44.8 44.8 0 0 1 631.54 137.77L630.31 132.10A39.0 39.0 0 0 0 661.00 94.34Z" fill="#a6cee3"/>
<path d="M630.78 137.93A44.8 44.8 0 0 1 609.28 136.96L610.92 131.39A39.0 39.0 0 0 0 629.64 132.24Z" fill="#1f78b4"/>
<path d="M608.53 136.73A44.8 44.8 0 0 1 578.79 105.82L584.38 104.29A39.0 39.0 0 0 0 610.27 131.19Z" fill="#b2df8a"/>
<path d="M578.59 105.07A44.8 44.8 0 0 1 577.36 90.17L583.14 90.67A39.0 39.0 0 0 0 584.21 103.63Z" fill="#33a02c"/>
<path d="M577.44 89.39A44.8 44.8 0 0 1 594.30 58.79L597.88 63.35A39.0 39.0 0 0 0 583.21 89.99Z" fill="#fb9a99"/>
<path d="M594.91 58.32A44.8 44.8 0 0 1 626.92 49.47L626.28 55.24A39.0 39.0 0 0 0 598.42 62.94Z" fill="#e31a1c"/>
<path d="M627.69 49.56A44.8 44.8 0 0 1 639.79 52.88L637.49 58.21A39.0 39.0 0 0 0 626.96 55.32Z" fill="#fdbf6f"/>
<path d="M640.51 53.20A44.8 44.8 0 0 1 650.31 59.28L646.65 63.78A39.0 39.0 0 0 0 638.11 58.48Z" fill="#ff7f00"/>
<path d="M650.92 59.78A44.8 44.8 0 0 1 662.20 74.22L656.99 76.78A39.0 39.0 0 0 0 647.17 64.21Z" fill="#cab2d6"/>
<path d="M662.54 74.93A44.8 44.8 0 0 1 666.80 93.61L661.00 93.66A39.0 39.0 0 0 0 657.29 77.39Z" fill="#6a3d9a"/>
<text x="659.8" y="127.5" font-size="8.8" font-weight="bold" text-anchor="middle" dominant-baseline="central" fill="#1a1a1a" transform="rotate(-48.4 659.8 127.5)">1</text>
<text x="617.5" y="144.3" font-size="8.8" font-weight="bold" text-anchor="middle" dominant-baseline="central" fill="#1a1a1a" transform="rotate(5.1 617.5 144.3)">2</text>
<text x="584.1" y="127.4" font-size="8.8" font-weight="bold" text-anchor="middle" dominant-baseline="central" fill="#1a1a1a" transform="rotate(48.6 584.1 127.4)">3</text>
<text x="578.9" y="67.7" font-size="8.8" font-weight="bold" text-anchor="middle" dominant-baseline="central" fill="#1a1a1a" transform="rotate(301.4 578.9 67.7)">5</text>
<text x="610.7" y="44.8" font-size="8.8" font-weight="bold" text-anchor="middle" dominant-baseline="central" fill="#1a1a1a" transform="rotate(347.0 610.7 44.8)">6</text>
<text x="637.5" y="45.9" font-size="8.8" font-weight="bold" text-anchor="middle" dominant-baseline="central" fill="#1a1a1a" transform="rotate(17.9 637.5 45.9)">7</text>
<text x="650.5" y="52.3" font-size="8.8" font-weight="bold" text-anchor="middle" dominant-baseline="central" fill="#1a1a1a" transform="rotate(34.3 650.5 52.3)">8</text>
<text x="663.1" y="64.7" font-size="8.8" font-weight="bold" text-anchor="middle" dominant-baseline="central" fill="#1a1a1a" transform="rotate(54.5 663.1 64.7)">9</text>
<text x="671.7" y="84.9" font-size="8.8" font-weight="bold" text-anchor="middle" dominant-baseline="central" fill="#1a1a1a" transform="rotate(79.6 671.7 84.9)">10</text>
<text x="343.2" y="28" font-size="12.8" fill="#1a1a1a">S<tspan font-size="7.85" dy="4.2">166-180</tspan></text>
<text x="471.8" y="29.3" font-size="12.8" fill="#1a1a1a">S<tspan font-size="7.85" dy="4.2">751-765</tspan></text>
<text x="601.9" y="28.8" font-size="12.8" fill="#1a1a1a">S<tspan font-size="7.85" dy="4.2">866-880</tspan></text>
<text x="13.9" y="198.5" font-size="20.5">c</text>
<text x="110.7" y="203.1" font-size="13.3" text-anchor="middle">GZMA</text>
<line x1="41" y1="202.6" x2="41" y2="332.6" stroke="#000" stroke-width="1.5"/>
<line x1="38.2" y1="327.2" x2="41" y2="327.2" stroke="#222" stroke-width="1.1"/>
<text x="36.8" y="331.8" font-size="10.3" text-anchor="end" fill="#1a1a1a">0</text>
<line x1="38.2" y1="294" x2="41" y2="294" stroke="#222" stroke-width="1.1"/>
<text x="36.8" y="298.6" font-size="10.3" text-anchor="end" fill="#1a1a1a">3</text>
<line x1="38.2" y1="260.8" x2="41" y2="260.8" stroke="#222" stroke-width="1.1"/>
<text x="36.8" y="265.4" font-size="10.3" text-anchor="end" fill="#1a1a1a">6</text>
<line x1="38.2" y1="227.6" x2="41" y2="227.6" stroke="#222" stroke-width="1.1"/>
<text x="36.8" y="232.2" font-size="10.3" text-anchor="end" fill="#1a1a1a">9</text>
<line x1="40.8" y1="331.8" x2="174.5" y2="331.8" stroke="#000" stroke-width="1.5"/>
<line x1="77.1" y1="331.8" x2="77.1" y2="334.6" stroke="#222" stroke-width="1.1"/>
<line x1="137.3" y1="331.8" x2="137.3" y2="334.6" stroke="#222" stroke-width="1.1"/>
<text x="24.2" y="264.7" font-size="13.3" text-anchor="middle" transform="rotate(-90 24.2 264.7)">Expression level</text>
<path d="M49.90 327.75 L49.80 326.92 L50.32 326.08 L51.39 325.24 L52.87 324.40 L54.58 323.57 L56.34 322.73 L58.00 321.89 L59.45 321.06 L60.63 320.22 L61.53 319.38 L62.18 318.54 L62.63 317.71 L62.91 316.87 L63.09 316.03 L63.19 315.20 L63.24 314.36 L63.27 313.52 L63.29 312.68 L63.29 311.85 L63.30 311.01 L63.30 310.17 L63.30 309.34 L63.30 308.50 L63.30 307.66 L63.30 306.82 L63.30 305.99 L63.30 305.15 L63.30 304.31 L63.30 303.48 L63.30 302.64 L63.30 301.80 L63.30 300.96 L63.30 300.13 L63.30 299.29 L63.30 298.45 L63.30 297.62 L63.29 296.78 L63.29 295.94 L63.29 295.10 L63.29 294.27 L63.28 293.43 L63.28 292.59 L63.27 291.76 L63.27 290.92 L63.26 290.08 L63.25 289.24 L63.24 288.41 L63.23 287.57 L63.22 286.73 L63.21 285.90 L63.19 285.06 L63.18 284.22 L63.16 283.38 L63.14 282.55 L63.12 281.71 L63.10 280.87 L63.09 280.03 L63.07 279.20 L63.05 278.36 L63.03 277.52 L63.02 276.69 L63.00 275.85 L62.99 275.01 L62.98 274.17 L62.98 273.34 L62.97 272.50 L62.97 271.66 L62.97 270.83 L62.98 269.99 L62.99 269.15 L63.00 268.31 L63.01 267.48 L63.02 266.64 L63.04 265.80 L63.06 264.97 L63.08 264.13 L63.09 263.29 L63.11 262.45 L63.13 261.62 L63.15 260.78 L63.45 260.78 L63.47 261.62 L63.49 262.45 L63.51 263.29 L63.52 264.13 L63.54 264.97 L63.56 265.80 L63.58 266.64 L63.59 267.48 L63.60 268.31 L63.61 269.15 L63.62 269.99 L63.63 270.83 L63.63 271.66 L63.63 272.50 L63.62 273.34 L63.62 274.17 L63.61 275.01 L63.60 275.85 L63.58 276.69 L63.57 277.52 L63.55 278.36 L63.53 279.20 L63.51 280.03 L63.50 280.87 L63.48 281.71 L63.46 282.55 L63.44 283.38 L63.42 284.22 L63.41 285.06 L63.39 285.90 L63.38 286.73 L63.37 287.57 L63.36 288.41 L63.35 289.24 L63.34 290.08 L63.33 290.92 L63.33 291.76 L63.32 292.59 L63.32 293.43 L63.31 294.27 L63.31 295.10 L63.31 295.94 L63.31 296.78 L63.30 297.62 L63.30 298.45 L63.30 299.29 L63.30 300.13 L63.30 300.96 L63.30 301.80 L63.30 302.64 L63.30 303.48 L63.30 304.31 L63.30 305.15 L63.30 305.99 L63.30 306.82 L63.30 307.66 L63.30 308.50 L63.30 309.34 L63.30 310.17 L63.30 311.01 L63.31 311.85 L63.31 312.68 L63.33 313.52 L63.36 314.36 L63.41 315.20 L63.51 316.03 L63.69 316.87 L63.97 317.71 L64.42 318.54 L65.07 319.38 L65.97 320.22 L67.15 321.06 L68.60 321.89 L70.26 322.73 L72.02 323.57 L73.73 324.40 L75.21 325.24 L76.28 326.08 L76.80 326.92 L76.70 327.75Z" fill="#e41a1c" stroke="#222" stroke-width="0.95" stroke-linejoin="round"/>
<path d="M76.71 327.75 L76.70 326.68 L77.13 325.61 L77.95 324.54 L79.08 323.46 L80.41 322.39 L81.83 321.32 L83.24 320.25 L84.54 319.17 L85.69 318.10 L86.67 317.03 L87.46 315.96 L88.09 314.88 L88.57 313.81 L88.95 312.74 L89.24 311.67 L89.47 310.59 L89.65 309.52 L89.81 308.45 L89.95 307.38 L90.06 306.31 L90.17 305.23 L90.26 304.16 L90.35 303.09 L90.43 302.02 L90.50 300.94 L90.56 299.87 L90.61 298.80 L90.66 297.73 L90.70 296.65 L90.73 295.58 L90.76 294.51 L90.79 293.44 L90.81 292.36 L90.83 291.29 L90.84 290.22 L90.85 289.15 L90.86 288.07 L90.87 287.00 L90.87 285.93 L90.87 284.86 L90.87 283.78 L90.87 282.71 L90.87 281.64 L90.86 280.57 L90.84 279.50 L90.82 278.42 L90.80 277.35 L90.77 276.28 L90.73 275.21 L90.68 274.13 L90.62 273.06 L90.56 271.99 L90.48 270.92 L90.41 269.84 L90.33 268.77 L90.24 267.70 L90.16 266.63 L90.09 265.55 L90.03 264.48 L89.98 263.41 L89.94 262.34 L89.92 261.26 L89.93 260.19 L89.94 259.12 L89.98 258.05 L90.03 256.97 L90.10 255.90 L90.17 254.83 L90.25 253.76 L90.33 252.69 L90.41 251.61 L90.49 250.54 L90.56 249.47 L90.63 248.40 L90.68 247.32 L90.73 246.25 L90.77 245.18 L90.80 244.11 L90.83 243.03 L90.85 241.96 L90.95 241.96 L90.97 243.03 L91.00 244.11 L91.03 245.18 L91.07 246.25 L91.12 247.32 L91.17 248.40 L91.24 249.47 L91.31 250.54 L91.39 251.61 L91.47 252.69 L91.55 253.76 L91.63 254.83 L91.70 255.90 L91.77 256.97 L91.82 258.05 L91.86 259.12 L91.87 260.19 L91.88 261.26 L91.86 262.34 L91.82 263.41 L91.77 264.48 L91.71 265.55 L91.64 266.63 L91.56 267.70 L91.47 268.77 L91.39 269.84 L91.32 270.92 L91.24 271.99 L91.18 273.06 L91.12 274.13 L91.07 275.21 L91.03 276.28 L91.00 277.35 L90.98 278.42 L90.96 279.50 L90.94 280.57 L90.93 281.64 L90.93 282.71 L90.93 283.78 L90.93 284.86 L90.93 285.93 L90.93 287.00 L90.94 288.07 L90.95 289.15 L90.96 290.22 L90.97 291.29 L90.99 292.36 L91.01 293.44 L91.04 294.51 L91.07 295.58 L91.10 296.65 L91.14 297.73 L91.19 298.80 L91.24 299.87 L91.30 300.94 L91.37 302.02 L91.45 303.09 L91.54 304.16 L91.63 305.23 L91.74 306.31 L91.85 307.38 L91.99 308.45 L92.15 309.52 L92.33 310.59 L92.56 311.67 L92.85 312.74 L93.23 313.81 L93.71 314.88 L94.34 315.96 L95.13 317.03 L96.11 318.10 L97.26 319.17 L98.56 320.25 L99.97 321.32 L101.39 322.39 L102.72 323.46 L103.85 324.54 L104.67 325.61 L105.10 326.68 L105.09 327.75Z" fill="#0000ff" stroke="#222" stroke-width="0.95" stroke-linejoin="round"/>
<path d="M110.10 327.75 L110.00 326.90 L110.54 326.05 L111.65 325.20 L113.17 324.35 L114.92 323.50 L116.71 322.65 L118.38 321.80 L119.82 320.95 L120.98 320.09 L121.86 319.24 L122.48 318.39 L122.89 317.54 L123.16 316.69 L123.32 315.84 L123.41 314.99 L123.45 314.14 L123.48 313.29 L123.49 312.44 L123.50 311.58 L123.50 310.73 L123.50 309.88 L123.50 309.03 L123.50 308.18 L123.50 307.33 L123.50 306.48 L123.50 305.63 L123.50 304.78 L123.50 303.93 L123.50 303.07 L123.50 302.22 L123.50 301.37 L123.50 300.52 L123.50 299.67 L123.50 298.82 L123.50 297.97 L123.49 297.12 L123.49 296.27 L123.49 295.42 L123.49 294.56 L123.48 293.71 L123.48 292.86 L123.48 292.01 L123.47 291.16 L123.46 290.31 L123.45 289.46 L123.45 288.61 L123.43 287.76 L123.42 286.91 L123.41 286.05 L123.39 285.20 L123.38 284.35 L123.36 283.50 L123.34 282.65 L123.32 281.80 L123.31 280.95 L123.29 280.10 L123.27 279.25 L123.25 278.40 L123.23 277.54 L123.22 276.69 L123.20 275.84 L123.19 274.99 L123.18 274.14 L123.18 273.29 L123.17 272.44 L123.17 271.59 L123.17 270.74 L123.18 269.89 L123.19 269.03 L123.20 268.18 L123.21 267.33 L123.23 266.48 L123.24 265.63 L123.26 264.78 L123.28 263.93 L123.30 263.08 L123.32 262.23 L123.34 261.38 L123.35 260.52 L123.37 259.67 L123.63 259.67 L123.65 260.52 L123.66 261.38 L123.68 262.23 L123.70 263.08 L123.72 263.93 L123.74 264.78 L123.76 265.63 L123.77 266.48 L123.79 267.33 L123.80 268.18 L123.81 269.03 L123.82 269.89 L123.83 270.74 L123.83 271.59 L123.83 272.44 L123.82 273.29 L123.82 274.14 L123.81 274.99 L123.80 275.84 L123.78 276.69 L123.77 277.54 L123.75 278.40 L123.73 279.25 L123.71 280.10 L123.69 280.95 L123.68 281.80 L123.66 282.65 L123.64 283.50 L123.62 284.35 L123.61 285.20 L123.59 286.05 L123.58 286.91 L123.57 287.76 L123.55 288.61 L123.55 289.46 L123.54 290.31 L123.53 291.16 L123.52 292.01 L123.52 292.86 L123.52 293.71 L123.51 294.56 L123.51 295.42 L123.51 296.27 L123.51 297.12 L123.50 297.97 L123.50 298.82 L123.50 299.67 L123.50 300.52 L123.50 301.37 L123.50 302.22 L123.50 303.07 L123.50 303.93 L123.50 304.78 L123.50 305.63 L123.50 306.48 L123.50 307.33 L123.50 308.18 L123.50 309.03 L123.50 309.88 L123.50 310.73 L123.50 311.58 L123.51 312.44 L123.52 313.29 L123.55 314.14 L123.59 314.99 L123.68 315.84 L123.84 316.69 L124.11 317.54 L124.52 318.39 L125.14 319.24 L126.02 320.09 L127.18 320.95 L128.62 321.80 L130.29 322.65 L132.08 323.50 L133.83 324.35 L135.35 325.20 L136.46 326.05 L137.00 326.90 L136.90 327.75Z" fill="#e41a1c" stroke="#222" stroke-width="0.95" stroke-linejoin="round"/>
<path d="M136.92 327.75 L136.90 326.75 L137.26 325.75 L137.98 324.74 L138.98 323.74 L140.18 322.74 L141.49 321.73 L142.82 320.73 L144.09 319.73 L145.25 318.72 L146.26 317.72 L147.12 316.72 L147.82 315.71 L148.38 314.71 L148.82 313.71 L149.16 312.71 L149.43 311.70 L149.65 310.70 L149.83 309.70 L149.98 308.69 L150.11 307.69 L150.22 306.69 L150.33 305.68 L150.42 304.68 L150.50 303.68 L150.58 302.67 L150.65 301.67 L150.71 300.67 L150.77 299.66 L150.82 298.66 L150.86 297.66 L150.90 296.65 L150.93 295.65 L150.96 294.65 L150.98 293.64 L151.00 292.64 L151.02 291.64 L151.03 290.63 L151.04 289.63 L151.04 288.63 L151.05 287.62 L151.04 286.62 L151.04 285.62 L151.03 284.62 L151.02 283.61 L151.00 282.61 L150.98 281.61 L150.96 280.60 L150.92 279.60 L150.89 278.60 L150.84 277.59 L150.79 276.59 L150.74 275.59 L150.68 274.58 L150.61 273.58 L150.54 272.58 L150.48 271.57 L150.41 270.57 L150.34 269.57 L150.28 268.56 L150.23 267.56 L150.18 266.56 L150.14 265.55 L150.12 264.55 L150.11 263.55 L150.10 262.54 L150.12 261.54 L150.14 260.54 L150.18 259.53 L150.22 258.53 L150.28 257.53 L150.34 256.52 L150.40 255.52 L150.47 254.52 L150.54 253.52 L150.61 252.51 L150.67 251.51 L150.73 250.51 L150.79 249.50 L150.84 248.50 L150.88 247.50 L151.32 247.50 L151.36 248.50 L151.41 249.50 L151.47 250.51 L151.53 251.51 L151.59 252.51 L151.66 253.52 L151.73 254.52 L151.80 255.52 L151.86 256.52 L151.92 257.53 L151.98 258.53 L152.02 259.53 L152.06 260.54 L152.08 261.54 L152.10 262.54 L152.09 263.55 L152.08 264.55 L152.06 265.55 L152.02 266.56 L151.97 267.56 L151.92 268.56 L151.86 269.57 L151.79 270.57 L151.72 271.57 L151.66 272.58 L151.59 273.58 L151.52 274.58 L151.46 275.59 L151.41 276.59 L151.36 277.59 L151.31 278.60 L151.28 279.60 L151.24 280.60 L151.22 281.61 L151.20 282.61 L151.18 283.61 L151.17 284.62 L151.16 285.62 L151.16 286.62 L151.15 287.62 L151.16 288.63 L151.16 289.63 L151.17 290.63 L151.18 291.64 L151.20 292.64 L151.22 293.64 L151.24 294.65 L151.27 295.65 L151.30 296.65 L151.34 297.66 L151.38 298.66 L151.43 299.66 L151.49 300.67 L151.55 301.67 L151.62 302.67 L151.70 303.68 L151.78 304.68 L151.87 305.68 L151.98 306.69 L152.09 307.69 L152.22 308.69 L152.37 309.70 L152.55 310.70 L152.77 311.70 L153.04 312.71 L153.38 313.71 L153.82 314.71 L154.38 315.71 L155.08 316.72 L155.94 317.72 L156.95 318.72 L158.11 319.73 L159.38 320.73 L160.71 321.73 L162.02 322.74 L163.22 323.74 L164.22 324.74 L164.94 325.75 L165.30 326.75 L165.28 327.75Z" fill="#0000ff" stroke="#222" stroke-width="0.95" stroke-linejoin="round"/>
<circle cx="68.1" cy="327.6" r="1.75" fill="#000"/>
<circle cx="63.9" cy="326.7" r="1.75" fill="#000"/>
<circle cx="68.5" cy="327.1" r="1.75" fill="#000"/>
<circle cx="65.1" cy="327.3" r="1.75" fill="#000"/>
<circle cx="67.4" cy="326.9" r="1.75" fill="#000"/>
<circle cx="69.5" cy="327.5" r="1.75" fill="#000"/>
<circle cx="67.1" cy="326.7" r="1.75" fill="#000"/>
<circle cx="67.6" cy="327.1" r="1.75" fill="#000"/>
<circle cx="65.5" cy="327.4" r="1.75" fill="#000"/>
<circle cx="63.6" cy="326.9" r="1.75" fill="#000"/>
<circle cx="63.8" cy="327.3" r="1.75" fill="#000"/>
<circle cx="64.5" cy="327.6" r="1.75" fill="#000"/>
<circle cx="67.3" cy="261.9" r="1.75" fill="#000"/>
<circle cx="66.2" cy="264.1" r="1.75" fill="#000"/>
<circle cx="66.7" cy="266.3" r="1.75" fill="#000"/>
<circle cx="69" cy="267.4" r="1.75" fill="#000"/>
<circle cx="64.4" cy="268.5" r="1.75" fill="#000"/>
<circle cx="65" cy="269.6" r="1.75" fill="#000"/>
<circle cx="67.5" cy="271.8" r="1.75" fill="#000"/>
<circle cx="63.7" cy="273" r="1.75" fill="#000"/>
<circle cx="63.6" cy="275.2" r="1.75" fill="#000"/>
<circle cx="65.7" cy="276.3" r="1.75" fill="#000"/>
<circle cx="64.2" cy="277.4" r="1.75" fill="#000"/>
<circle cx="65.7" cy="278.5" r="1.75" fill="#000"/>
<circle cx="64.9" cy="279.6" r="1.75" fill="#000"/>
<circle cx="67.1" cy="280.7" r="1.75" fill="#000"/>
<circle cx="67.1" cy="281.8" r="1.75" fill="#000"/>
<circle cx="64.8" cy="288.5" r="1.75" fill="#000"/>
<circle cx="67.3" cy="295.1" r="1.75" fill="#000"/>
<circle cx="86.4" cy="327.2" r="1.75" fill="#000"/>
<circle cx="84.9" cy="327.6" r="1.75" fill="#000"/>
<circle cx="89.9" cy="326.7" r="1.75" fill="#000"/>
<circle cx="89.3" cy="327.5" r="1.75" fill="#000"/>
<circle cx="88.9" cy="327.6" r="1.75" fill="#000"/>
<circle cx="84.6" cy="327.6" r="1.75" fill="#000"/>
<circle cx="89.7" cy="327" r="1.75" fill="#000"/>
<circle cx="89.1" cy="326.8" r="1.75" fill="#000"/>
<circle cx="87.4" cy="326.9" r="1.75" fill="#000"/>
<circle cx="89.1" cy="327.3" r="1.75" fill="#000"/>
<circle cx="87.3" cy="327.5" r="1.75" fill="#000"/>
<circle cx="86" cy="327.7" r="1.75" fill="#000"/>
<circle cx="85.2" cy="327" r="1.75" fill="#000"/>
<circle cx="86" cy="327.1" r="1.75" fill="#000"/>
<circle cx="84.8" cy="259.4" r="1.75" fill="#000"/>
<circle cx="86.6" cy="266.4" r="1.75" fill="#000"/>
<circle cx="89.1" cy="253.1" r="1.75" fill="#000"/>
<circle cx="88.8" cy="275.4" r="1.75" fill="#000"/>
<circle cx="89.7" cy="255.4" r="1.75" fill="#000"/>
<circle cx="88.9" cy="261.3" r="1.75" fill="#000"/>
<circle cx="86.2" cy="265.8" r="1.75" fill="#000"/>
<circle cx="87.9" cy="259.1" r="1.75" fill="#000"/>
<circle cx="87.2" cy="261.9" r="1.75" fill="#000"/>
<circle cx="89.3" cy="267.4" r="1.75" fill="#000"/>
<circle cx="87.7" cy="262.1" r="1.75" fill="#000"/>
<circle cx="86.2" cy="260.6" r="1.75" fill="#000"/>
<circle cx="88.5" cy="258.5" r="1.75" fill="#000"/>
<circle cx="90.4" cy="260.6" r="1.75" fill="#000"/>
<circle cx="85.9" cy="261.8" r="1.75" fill="#000"/>
<circle cx="89.9" cy="275.8" r="1.75" fill="#000"/>
<circle cx="84.7" cy="265.7" r="1.75" fill="#000"/>
<circle cx="86.2" cy="258" r="1.75" fill="#000"/>
<circle cx="86" cy="257.3" r="1.75" fill="#000"/>
<circle cx="89.1" cy="266.9" r="1.75" fill="#000"/>
<circle cx="90.3" cy="265.7" r="1.75" fill="#000"/>
<circle cx="89.1" cy="268.4" r="1.75" fill="#000"/>
<circle cx="86.6" cy="270.2" r="1.75" fill="#000"/>
<circle cx="89.9" cy="258.2" r="1.75" fill="#000"/>
<circle cx="86.6" cy="255.7" r="1.75" fill="#000"/>
<circle cx="86" cy="318.3" r="1.75" fill="#000"/>
<circle cx="90" cy="318.3" r="1.75" fill="#000"/>
<circle cx="88.4" cy="321.7" r="1.75" fill="#000"/>
<circle cx="88.8" cy="321.7" r="1.75" fill="#000"/>
<circle cx="88.6" cy="313.9" r="1.75" fill="#000"/>
<circle cx="90.5" cy="301.7" r="1.75" fill="#000"/>
<circle cx="87.4" cy="290.7" r="1.75" fill="#000"/>
<circle cx="89.6" cy="290.7" r="1.75" fill="#000"/>
<circle cx="88.8" cy="275.2" r="1.75" fill="#000"/>
<circle cx="89.7" cy="271.8" r="1.75" fill="#000"/>
<circle cx="87.2" cy="269.6" r="1.75" fill="#000"/>
<circle cx="88.9" cy="267.4" r="1.75" fill="#000"/>
<circle cx="88" cy="266.3" r="1.75" fill="#000"/>
<circle cx="86.4" cy="265.2" r="1.75" fill="#000"/>
<circle cx="85.9" cy="264.1" r="1.75" fill="#000"/>
<circle cx="88.3" cy="263" r="1.75" fill="#000"/>
<circle cx="85.1" cy="261.9" r="1.75" fill="#000"/>
<circle cx="90.1" cy="260.8" r="1.75" fill="#000"/>
<circle cx="85.5" cy="259.7" r="1.75" fill="#000"/>
<circle cx="84.8" cy="258.6" r="1.75" fill="#000"/>
<circle cx="85.2" cy="257.5" r="1.75" fill="#000"/>
<circle cx="90.2" cy="256.4" r="1.75" fill="#000"/>
<circle cx="86.7" cy="255.2" r="1.75" fill="#000"/>
<circle cx="85.5" cy="254.1" r="1.75" fill="#000"/>
<circle cx="84.8" cy="251.9" r="1.75" fill="#000"/>
<circle cx="84.8" cy="248.6" r="1.75" fill="#000"/>
<circle cx="88.8" cy="243.1" r="1.75" fill="#000"/>
<circle cx="88.4" cy="266.3" r="1.75" fill="#000"/>
<circle cx="88.8" cy="261.9" r="1.75" fill="#000"/>
<circle cx="89" cy="260.8" r="1.75" fill="#000"/>
<circle cx="85" cy="258.6" r="1.75" fill="#000"/>
<circle cx="124.1" cy="327.1" r="1.75" fill="#000"/>
<circle cx="129" cy="327.4" r="1.75" fill="#000"/>
<circle cx="128.8" cy="326.8" r="1.75" fill="#000"/>
<circle cx="127.7" cy="326.8" r="1.75" fill="#000"/>
<circle cx="128.9" cy="326.8" r="1.75" fill="#000"/>
<circle cx="127.7" cy="327.7" r="1.75" fill="#000"/>
<circle cx="125.6" cy="326.8" r="1.75" fill="#000"/>
<circle cx="124.5" cy="326.7" r="1.75" fill="#000"/>
<circle cx="124.5" cy="326.7" r="1.75" fill="#000"/>
<circle cx="128.4" cy="327.6" r="1.75" fill="#000"/>
<circle cx="125.1" cy="327.5" r="1.75" fill="#000"/>
<circle cx="125.8" cy="327.6" r="1.75" fill="#000"/>
<circle cx="126.4" cy="259.7" r="1.75" fill="#000"/>
<circle cx="124" cy="261.9" r="1.75" fill="#000"/>
<circle cx="125.4" cy="265.2" r="1.75" fill="#000"/>
<circle cx="125.6" cy="268.5" r="1.75" fill="#000"/>
<circle cx="128.2" cy="269.6" r="1.75" fill="#000"/>
<circle cx="126.1" cy="270.7" r="1.75" fill="#000"/>
<circle cx="125.8" cy="271.8" r="1.75" fill="#000"/>
<circle cx="129.7" cy="273" r="1.75" fill="#000"/>
<circle cx="126.9" cy="279.6" r="1.75" fill="#000"/>
<circle cx="129" cy="281.8" r="1.75" fill="#000"/>
<circle cx="127.6" cy="297.3" r="1.75" fill="#000"/>
<circle cx="124.1" cy="305.1" r="1.75" fill="#000"/>
<circle cx="126.4" cy="318.3" r="1.75" fill="#000"/>
<circle cx="150.1" cy="327.3" r="1.75" fill="#000"/>
<circle cx="145" cy="326.9" r="1.75" fill="#000"/>
<circle cx="146" cy="327.4" r="1.75" fill="#000"/>
<circle cx="146.4" cy="327" r="1.75" fill="#000"/>
<circle cx="150.2" cy="327.2" r="1.75" fill="#000"/>
<circle cx="147.8" cy="327.5" r="1.75" fill="#000"/>
<circle cx="147.1" cy="326.8" r="1.75" fill="#000"/>
<circle cx="150.1" cy="327.7" r="1.75" fill="#000"/>
<circle cx="146.2" cy="326.8" r="1.75" fill="#000"/>
<circle cx="147.6" cy="327.6" r="1.75" fill="#000"/>
<circle cx="148" cy="327.8" r="1.75" fill="#000"/>
<circle cx="149.3" cy="327.5" r="1.75" fill="#000"/>
<circle cx="149.3" cy="326.9" r="1.75" fill="#000"/>
<circle cx="148.7" cy="326.7" r="1.75" fill="#000"/>
<circle cx="146.9" cy="255.3" r="1.75" fill="#000"/>
<circle cx="146.8" cy="262.8" r="1.75" fill="#000"/>
<circle cx="145.7" cy="274.8" r="1.75" fill="#000"/>
<circle cx="149.9" cy="262.4" r="1.75" fill="#000"/>
<circle cx="148.8" cy="259.9" r="1.75" fill="#000"/>
<circle cx="149.3" cy="255.9" r="1.75" fill="#000"/>
<circle cx="145.8" cy="270.2" r="1.75" fill="#000"/>
<circle cx="147.4" cy="252.7" r="1.75" fill="#000"/>
<circle cx="149.4" cy="264.1" r="1.75" fill="#000"/>
<circle cx="148.3" cy="249.7" r="1.75" fill="#000"/>
<circle cx="145.6" cy="264" r="1.75" fill="#000"/>
<circle cx="147.6" cy="258.5" r="1.75" fill="#000"/>
<circle cx="150.1" cy="265.4" r="1.75" fill="#000"/>
<circle cx="146.2" cy="270.4" r="1.75" fill="#000"/>
<circle cx="145.9" cy="255.7" r="1.75" fill="#000"/>
<circle cx="146.6" cy="257" r="1.75" fill="#000"/>
<circle cx="149" cy="252.8" r="1.75" fill="#000"/>
<circle cx="149.9" cy="257.3" r="1.75" fill="#000"/>
<circle cx="145.7" cy="266.8" r="1.75" fill="#000"/>
<circle cx="145.7" cy="274" r="1.75" fill="#000"/>
<circle cx="146.3" cy="267.3" r="1.75" fill="#000"/>
<circle cx="146.8" cy="267.5" r="1.75" fill="#000"/>
<circle cx="147.9" cy="268.4" r="1.75" fill="#000"/>
<circle cx="145.8" cy="259.1" r="1.75" fill="#000"/>
<circle cx="146.8" cy="260.8" r="1.75" fill="#000"/>
<circle cx="145.9" cy="318.3" r="1.75" fill="#000"/>
<circle cx="150.7" cy="318.3" r="1.75" fill="#000"/>
<circle cx="149.2" cy="321.7" r="1.75" fill="#000"/>
<circle cx="145.4" cy="310.6" r="1.75" fill="#000"/>
<circle cx="150.6" cy="306.2" r="1.75" fill="#000"/>
<circle cx="145.4" cy="291.8" r="1.75" fill="#000"/>
<circle cx="147.1" cy="287.3" r="1.75" fill="#000"/>
<circle cx="150.7" cy="286.2" r="1.75" fill="#000"/>
<circle cx="149.6" cy="278.5" r="1.75" fill="#000"/>
<circle cx="149.2" cy="274.1" r="1.75" fill="#000"/>
<circle cx="147.4" cy="271.8" r="1.75" fill="#000"/>
<circle cx="146" cy="269.6" r="1.75" fill="#000"/>
<circle cx="148.6" cy="267.4" r="1.75" fill="#000"/>
<circle cx="145.4" cy="266.3" r="1.75" fill="#000"/>
<circle cx="146" cy="265.2" r="1.75" fill="#000"/>
<circle cx="147.1" cy="264.1" r="1.75" fill="#000"/>
<circle cx="145" cy="263" r="1.75" fill="#000"/>
<circle cx="147.2" cy="261.9" r="1.75" fill="#000"/>
<circle cx="149.5" cy="260.8" r="1.75" fill="#000"/>
<circle cx="149" cy="259.7" r="1.75" fill="#000"/>
<circle cx="147.8" cy="258.6" r="1.75" fill="#000"/>
<circle cx="148.6" cy="257.5" r="1.75" fill="#000"/>
<circle cx="147.6" cy="256.4" r="1.75" fill="#000"/>
<circle cx="145.7" cy="255.2" r="1.75" fill="#000"/>
<circle cx="148.4" cy="254.1" r="1.75" fill="#000"/>
<circle cx="147.2" cy="253" r="1.75" fill="#000"/>
<circle cx="149.2" cy="250.8" r="1.75" fill="#000"/>
<circle cx="150.2" cy="248.6" r="1.75" fill="#000"/>
<circle cx="147.4" cy="268.5" r="1.75" fill="#000"/>
<circle cx="148.2" cy="263" r="1.75" fill="#000"/>
<circle cx="149.3" cy="260.8" r="1.75" fill="#000"/>
<circle cx="147.3" cy="258.6" r="1.75" fill="#000"/>
<circle cx="146.2" cy="256.4" r="1.75" fill="#000"/>
<path d="M65 229.6V224.6H89.3V229.6" fill="none" stroke="#222" stroke-width="0.8"/>
<text x="45.3" y="222.2" font-size="9.75" fill="#1a1a1a">****p=1.77e−06</text>
<path d="M125.3 242.2V237H150.2V242.2" fill="none" stroke="#222" stroke-width="0.8"/>
<text x="104.7" y="233.4" font-size="9.75" fill="#1a1a1a">****p=1.09e−09</text>
<text x="57.4" y="345.9" font-size="12.8">S<tspan font-size="7.6" dy="3.8">751-765</tspan></text>
<text x="120.2" y="345.9" font-size="12.8">S<tspan font-size="7.6" dy="3.8">866-880</tspan></text>
<text x="194.4" y="198.2" font-size="20.5">d</text>
<text x="268.7" y="202.8" font-size="13.2" text-anchor="middle">GZMB</text>
<line x1="209.8" y1="202.8" x2="209.8" y2="332.6" stroke="#000" stroke-width="1.5"/>
<line x1="207" y1="327.6" x2="209.8" y2="327.6" stroke="#222" stroke-width="1.1"/>
<text x="205.6" y="332.2" font-size="10.3" text-anchor="end" fill="#1a1a1a">0</text>
<line x1="207" y1="296.1" x2="209.8" y2="296.1" stroke="#222" stroke-width="1.1"/>
<text x="205.6" y="300.7" font-size="10.3" text-anchor="end" fill="#1a1a1a">3</text>
<line x1="207" y1="264.6" x2="209.8" y2="264.6" stroke="#222" stroke-width="1.1"/>
<text x="205.6" y="269.2" font-size="10.3" text-anchor="end" fill="#1a1a1a">6</text>
<line x1="207" y1="233.1" x2="209.8" y2="233.1" stroke="#222" stroke-width="1.1"/>
<text x="205.6" y="237.7" font-size="10.3" text-anchor="end" fill="#1a1a1a">9</text>
<line x1="209.6" y1="331.8" x2="343" y2="331.8" stroke="#000" stroke-width="1.5"/>
<line x1="246.1" y1="331.8" x2="246.1" y2="334.6" stroke="#222" stroke-width="1.1"/>
<line x1="306.1" y1="331.8" x2="306.1" y2="334.6" stroke="#222" stroke-width="1.1"/>
<path d="M218.88 328.12 L218.70 327.20 L220.97 326.27 L224.54 325.35 L227.95 324.42 L230.33 323.50 L231.60 322.57 L232.15 321.65 L232.33 320.72 L232.38 319.80 L232.40 318.87 L232.40 317.95 L232.40 317.02 L232.40 316.10 L232.40 315.17 L232.40 314.25 L232.39 313.32 L232.39 312.39 L232.39 311.47 L232.39 310.54 L232.39 309.62 L232.39 308.69 L232.39 307.77 L232.39 306.84 L232.39 305.92 L232.38 304.99 L232.38 304.07 L232.38 303.14 L232.38 302.22 L232.37 301.29 L232.37 300.37 L232.37 299.44 L232.37 298.52 L232.36 297.59 L232.36 296.66 L232.36 295.74 L232.35 294.81 L232.35 293.89 L232.35 292.96 L232.34 292.04 L232.34 291.11 L232.34 290.19 L232.33 289.26 L232.33 288.34 L232.33 287.41 L232.32 286.49 L232.32 285.56 L232.32 284.64 L232.31 283.71 L232.31 282.78 L232.31 281.86 L232.31 280.93 L232.30 280.01 L232.30 279.08 L232.30 278.16 L232.30 277.23 L232.30 276.31 L232.30 275.38 L232.30 274.46 L232.30 273.53 L232.30 272.61 L232.30 271.68 L232.30 270.76 L232.30 269.83 L232.31 268.91 L232.31 267.98 L232.31 267.05 L232.31 266.13 L232.32 265.20 L232.32 264.28 L232.32 263.35 L232.33 262.43 L232.33 261.50 L232.33 260.58 L232.34 259.65 L232.34 258.73 L232.34 257.80 L232.35 256.88 L232.35 255.95 L232.36 255.03 L232.36 254.10 L232.44 254.10 L232.44 255.03 L232.45 255.95 L232.45 256.88 L232.46 257.80 L232.46 258.73 L232.46 259.65 L232.47 260.58 L232.47 261.50 L232.47 262.43 L232.48 263.35 L232.48 264.28 L232.48 265.20 L232.49 266.13 L232.49 267.05 L232.49 267.98 L232.49 268.91 L232.50 269.83 L232.50 270.76 L232.50 271.68 L232.50 272.61 L232.50 273.53 L232.50 274.46 L232.50 275.38 L232.50 276.31 L232.50 277.23 L232.50 278.16 L232.50 279.08 L232.50 280.01 L232.49 280.93 L232.49 281.86 L232.49 282.78 L232.49 283.71 L232.48 284.64 L232.48 285.56 L232.48 286.49 L232.47 287.41 L232.47 288.34 L232.47 289.26 L232.46 290.19 L232.46 291.11 L232.46 292.04 L232.45 292.96 L232.45 293.89 L232.45 294.81 L232.44 295.74 L232.44 296.66 L232.44 297.59 L232.43 298.52 L232.43 299.44 L232.43 300.37 L232.43 301.29 L232.42 302.22 L232.42 303.14 L232.42 304.07 L232.42 304.99 L232.41 305.92 L232.41 306.84 L232.41 307.77 L232.41 308.69 L232.41 309.62 L232.41 310.54 L232.41 311.47 L232.41 312.39 L232.41 313.32 L232.40 314.25 L232.40 315.17 L232.40 316.10 L232.40 317.02 L232.40 317.95 L232.40 318.87 L232.42 319.80 L232.47 320.72 L232.65 321.65 L233.20 322.57 L234.47 323.50 L236.85 324.42 L240.26 325.35 L243.83 326.27 L246.10 327.20 L245.92 328.12Z" fill="#e41a1c" stroke="#222" stroke-width="0.95" stroke-linejoin="round"/>
<path d="M246.41 328.12 L246.10 327.33 L247.64 326.54 L250.43 325.74 L253.53 324.95 L256.15 324.15 L257.93 323.36 L258.94 322.57 L259.43 321.77 L259.62 320.98 L259.69 320.18 L259.70 319.39 L259.71 318.60 L259.71 317.80 L259.71 317.01 L259.70 316.21 L259.70 315.42 L259.70 314.63 L259.70 313.83 L259.70 313.04 L259.70 312.24 L259.70 311.45 L259.70 310.66 L259.70 309.86 L259.70 309.07 L259.70 308.27 L259.70 307.48 L259.71 306.69 L259.71 305.89 L259.71 305.10 L259.71 304.30 L259.71 303.51 L259.72 302.72 L259.72 301.92 L259.72 301.13 L259.72 300.33 L259.73 299.54 L259.73 298.74 L259.73 297.95 L259.74 297.16 L259.74 296.36 L259.74 295.57 L259.74 294.77 L259.75 293.98 L259.75 293.19 L259.75 292.39 L259.76 291.60 L259.76 290.80 L259.76 290.01 L259.76 289.22 L259.77 288.42 L259.77 287.63 L259.77 286.83 L259.77 286.04 L259.78 285.25 L259.78 284.45 L259.78 283.66 L259.78 282.86 L259.78 282.07 L259.78 281.28 L259.79 280.48 L259.79 279.69 L259.79 278.89 L259.79 278.10 L259.79 277.31 L259.79 276.51 L259.79 275.72 L259.79 274.92 L259.79 274.13 L259.79 273.33 L259.80 272.54 L259.80 271.75 L259.80 270.95 L259.80 270.16 L259.80 269.36 L259.80 268.57 L259.80 267.78 L259.80 266.98 L259.80 266.19 L259.80 265.39 L259.80 264.60 L259.80 264.60 L259.80 265.39 L259.80 266.19 L259.80 266.98 L259.80 267.78 L259.80 268.57 L259.80 269.36 L259.80 270.16 L259.80 270.95 L259.80 271.75 L259.80 272.54 L259.81 273.33 L259.81 274.13 L259.81 274.92 L259.81 275.72 L259.81 276.51 L259.81 277.31 L259.81 278.10 L259.81 278.89 L259.81 279.69 L259.81 280.48 L259.82 281.28 L259.82 282.07 L259.82 282.86 L259.82 283.66 L259.82 284.45 L259.82 285.25 L259.83 286.04 L259.83 286.83 L259.83 287.63 L259.83 288.42 L259.84 289.22 L259.84 290.01 L259.84 290.80 L259.84 291.60 L259.85 292.39 L259.85 293.19 L259.85 293.98 L259.86 294.77 L259.86 295.57 L259.86 296.36 L259.86 297.16 L259.87 297.95 L259.87 298.74 L259.87 299.54 L259.88 300.33 L259.88 301.13 L259.88 301.92 L259.88 302.72 L259.89 303.51 L259.89 304.30 L259.89 305.10 L259.89 305.89 L259.89 306.69 L259.90 307.48 L259.90 308.27 L259.90 309.07 L259.90 309.86 L259.90 310.66 L259.90 311.45 L259.90 312.24 L259.90 313.04 L259.90 313.83 L259.90 314.63 L259.90 315.42 L259.90 316.21 L259.89 317.01 L259.89 317.80 L259.89 318.60 L259.90 319.39 L259.91 320.18 L259.98 320.98 L260.17 321.77 L260.66 322.57 L261.67 323.36 L263.45 324.15 L266.07 324.95 L269.17 325.74 L271.96 326.54 L273.50 327.33 L273.19 328.12Z" fill="#0000ff" stroke="#222" stroke-width="0.95" stroke-linejoin="round"/>
<path d="M278.70 328.12 L278.72 327.06 L280.83 325.99 L284.11 324.92 L287.37 323.85 L289.82 322.78 L291.28 321.71 L291.99 320.64 L292.27 319.57 L292.37 318.50 L292.39 317.43 L292.40 316.36 L292.40 315.29 L292.40 314.22 L292.40 313.15 L292.40 312.08 L292.40 311.01 L292.40 309.94 L292.40 308.87 L292.40 307.80 L292.40 306.73 L292.40 305.66 L292.39 304.59 L292.39 303.52 L292.39 302.45 L292.39 301.38 L292.39 300.31 L292.38 299.24 L292.38 298.17 L292.38 297.10 L292.37 296.03 L292.37 294.96 L292.36 293.90 L292.36 292.83 L292.35 291.76 L292.34 290.69 L292.33 289.62 L292.32 288.55 L292.31 287.48 L292.30 286.41 L292.29 285.34 L292.28 284.27 L292.27 283.20 L292.26 282.13 L292.24 281.06 L292.23 279.99 L292.22 278.92 L292.21 277.85 L292.20 276.78 L292.19 275.71 L292.18 274.64 L292.18 273.57 L292.17 272.50 L292.17 271.43 L292.17 270.36 L292.17 269.29 L292.17 268.22 L292.17 267.15 L292.18 266.08 L292.18 265.01 L292.19 263.94 L292.20 262.87 L292.21 261.80 L292.22 260.73 L292.23 259.67 L292.24 258.60 L292.26 257.53 L292.27 256.46 L292.28 255.39 L292.29 254.32 L292.30 253.25 L292.31 252.18 L292.32 251.11 L292.33 250.04 L292.34 248.97 L292.35 247.90 L292.36 246.83 L292.36 245.76 L292.37 244.69 L292.37 243.62 L292.38 242.55 L292.42 242.55 L292.43 243.62 L292.43 244.69 L292.44 245.76 L292.44 246.83 L292.45 247.90 L292.46 248.97 L292.47 250.04 L292.48 251.11 L292.49 252.18 L292.50 253.25 L292.51 254.32 L292.52 255.39 L292.53 256.46 L292.54 257.53 L292.56 258.60 L292.57 259.67 L292.58 260.73 L292.59 261.80 L292.60 262.87 L292.61 263.94 L292.62 265.01 L292.62 266.08 L292.63 267.15 L292.63 268.22 L292.63 269.29 L292.63 270.36 L292.63 271.43 L292.63 272.50 L292.62 273.57 L292.62 274.64 L292.61 275.71 L292.60 276.78 L292.59 277.85 L292.58 278.92 L292.57 279.99 L292.56 281.06 L292.54 282.13 L292.53 283.20 L292.52 284.27 L292.51 285.34 L292.50 286.41 L292.49 287.48 L292.48 288.55 L292.47 289.62 L292.46 290.69 L292.45 291.76 L292.44 292.83 L292.44 293.90 L292.43 294.96 L292.43 296.03 L292.42 297.10 L292.42 298.17 L292.42 299.24 L292.41 300.31 L292.41 301.38 L292.41 302.45 L292.41 303.52 L292.41 304.59 L292.40 305.66 L292.40 306.73 L292.40 307.80 L292.40 308.87 L292.40 309.94 L292.40 311.01 L292.40 312.08 L292.40 313.15 L292.40 314.22 L292.40 315.29 L292.40 316.36 L292.41 317.43 L292.43 318.50 L292.53 319.57 L292.81 320.64 L293.52 321.71 L294.98 322.78 L297.43 323.85 L300.69 324.92 L303.97 325.99 L306.08 327.06 L306.10 328.12Z" fill="#e41a1c" stroke="#222" stroke-width="0.95" stroke-linejoin="round"/>
<path d="M306.19 328.12 L306.10 327.20 L307.31 326.27 L309.49 325.35 L312.09 324.42 L314.57 323.50 L316.59 322.57 L318.02 321.65 L318.90 320.72 L319.39 319.80 L319.63 318.87 L319.74 317.95 L319.78 317.02 L319.79 316.10 L319.79 315.17 L319.80 314.25 L319.80 313.32 L319.79 312.39 L319.79 311.47 L319.79 310.54 L319.79 309.62 L319.79 308.69 L319.79 307.77 L319.79 306.84 L319.79 305.92 L319.78 304.99 L319.78 304.07 L319.78 303.14 L319.78 302.22 L319.77 301.29 L319.77 300.37 L319.76 299.44 L319.76 298.52 L319.76 297.59 L319.75 296.66 L319.75 295.74 L319.74 294.81 L319.74 293.89 L319.73 292.96 L319.72 292.04 L319.72 291.11 L319.71 290.19 L319.70 289.26 L319.70 288.34 L319.69 287.41 L319.68 286.49 L319.68 285.56 L319.67 284.64 L319.66 283.71 L319.65 282.78 L319.65 281.86 L319.64 280.93 L319.63 280.01 L319.63 279.08 L319.62 278.16 L319.62 277.23 L319.61 276.31 L319.61 275.38 L319.60 274.46 L319.60 273.53 L319.60 272.61 L319.60 271.68 L319.60 270.76 L319.59 269.83 L319.60 268.91 L319.60 267.98 L319.60 267.05 L319.60 266.13 L319.60 265.20 L319.61 264.28 L319.61 263.35 L319.62 262.43 L319.62 261.50 L319.63 260.58 L319.63 259.65 L319.64 258.73 L319.65 257.80 L319.65 256.88 L319.66 255.95 L319.67 255.03 L319.68 254.10 L319.92 254.10 L319.93 255.03 L319.94 255.95 L319.95 256.88 L319.95 257.80 L319.96 258.73 L319.97 259.65 L319.97 260.58 L319.98 261.50 L319.98 262.43 L319.99 263.35 L319.99 264.28 L320.00 265.20 L320.00 266.13 L320.00 267.05 L320.00 267.98 L320.00 268.91 L320.01 269.83 L320.00 270.76 L320.00 271.68 L320.00 272.61 L320.00 273.53 L320.00 274.46 L319.99 275.38 L319.99 276.31 L319.98 277.23 L319.98 278.16 L319.97 279.08 L319.97 280.01 L319.96 280.93 L319.95 281.86 L319.95 282.78 L319.94 283.71 L319.93 284.64 L319.92 285.56 L319.92 286.49 L319.91 287.41 L319.90 288.34 L319.90 289.26 L319.89 290.19 L319.88 291.11 L319.88 292.04 L319.87 292.96 L319.86 293.89 L319.86 294.81 L319.85 295.74 L319.85 296.66 L319.84 297.59 L319.84 298.52 L319.84 299.44 L319.83 300.37 L319.83 301.29 L319.82 302.22 L319.82 303.14 L319.82 304.07 L319.82 304.99 L319.81 305.92 L319.81 306.84 L319.81 307.77 L319.81 308.69 L319.81 309.62 L319.81 310.54 L319.81 311.47 L319.81 312.39 L319.80 313.32 L319.80 314.25 L319.81 315.17 L319.81 316.10 L319.82 317.02 L319.86 317.95 L319.97 318.87 L320.21 319.80 L320.70 320.72 L321.58 321.65 L323.01 322.57 L325.03 323.50 L327.51 324.42 L330.11 325.35 L332.29 326.27 L333.50 327.20 L333.41 328.12Z" fill="#0000ff" stroke="#222" stroke-width="0.95" stroke-linejoin="round"/>
<circle cx="230.4" cy="327.4" r="1.75" fill="#000"/>
<circle cx="232" cy="327.2" r="1.75" fill="#000"/>
<circle cx="233.8" cy="327.3" r="1.75" fill="#000"/>
<circle cx="233.5" cy="327.4" r="1.75" fill="#000"/>
<circle cx="233" cy="327.2" r="1.75" fill="#000"/>
<circle cx="231.2" cy="327.4" r="1.75" fill="#000"/>
<circle cx="232" cy="327.5" r="1.75" fill="#000"/>
<circle cx="232.2" cy="327.6" r="1.75" fill="#000"/>
<circle cx="233" cy="327.8" r="1.75" fill="#000"/>
<circle cx="231.9" cy="327.5" r="1.75" fill="#000"/>
<circle cx="233.3" cy="254.1" r="1.75" fill="#000"/>
<circle cx="234.6" cy="254.1" r="1.75" fill="#000"/>
<circle cx="230.8" cy="276.2" r="1.75" fill="#000"/>
<circle cx="233.2" cy="299.2" r="1.75" fill="#000"/>
<circle cx="260" cy="327.3" r="1.75" fill="#000"/>
<circle cx="261.1" cy="327.7" r="1.75" fill="#000"/>
<circle cx="259.9" cy="327.6" r="1.75" fill="#000"/>
<circle cx="260.6" cy="327.1" r="1.75" fill="#000"/>
<circle cx="261.8" cy="328.1" r="1.75" fill="#000"/>
<circle cx="259.9" cy="327.6" r="1.75" fill="#000"/>
<circle cx="259.3" cy="328" r="1.75" fill="#000"/>
<circle cx="262.5" cy="327.3" r="1.75" fill="#000"/>
<circle cx="258.1" cy="327.1" r="1.75" fill="#000"/>
<circle cx="260.9" cy="327.6" r="1.75" fill="#000"/>
<circle cx="259.2" cy="328" r="1.75" fill="#000"/>
<circle cx="261.4" cy="327.5" r="1.75" fill="#000"/>
<circle cx="257.5" cy="264.6" r="1.75" fill="#000"/>
<circle cx="262.7" cy="305.6" r="1.75" fill="#000"/>
<circle cx="258.9" cy="316.1" r="1.75" fill="#000"/>
<circle cx="257.1" cy="316.1" r="1.75" fill="#000"/>
<circle cx="258.4" cy="316.1" r="1.75" fill="#000"/>
<circle cx="259.2" cy="320.2" r="1.75" fill="#000"/>
<circle cx="256.9" cy="320.2" r="1.75" fill="#000"/>
<circle cx="290.6" cy="327.7" r="1.75" fill="#000"/>
<circle cx="290" cy="327.7" r="1.75" fill="#000"/>
<circle cx="294.2" cy="327.4" r="1.75" fill="#000"/>
<circle cx="294.4" cy="327.8" r="1.75" fill="#000"/>
<circle cx="293.3" cy="327.8" r="1.75" fill="#000"/>
<circle cx="292.2" cy="327.9" r="1.75" fill="#000"/>
<circle cx="292.8" cy="327.3" r="1.75" fill="#000"/>
<circle cx="290.6" cy="327.1" r="1.75" fill="#000"/>
<circle cx="295.4" cy="327.6" r="1.75" fill="#000"/>
<circle cx="291.5" cy="327.9" r="1.75" fill="#000"/>
<circle cx="293.3" cy="327.3" r="1.75" fill="#000"/>
<circle cx="294.4" cy="327.7" r="1.75" fill="#000"/>
<circle cx="294.4" cy="242.6" r="1.75" fill="#000"/>
<circle cx="292.2" cy="252" r="1.75" fill="#000"/>
<circle cx="291.1" cy="259.4" r="1.75" fill="#000"/>
<circle cx="292.7" cy="264.6" r="1.75" fill="#000"/>
<circle cx="290" cy="267.8" r="1.75" fill="#000"/>
<circle cx="294.5" cy="275.1" r="1.75" fill="#000"/>
<circle cx="291.5" cy="275.1" r="1.75" fill="#000"/>
<circle cx="294.6" cy="281.4" r="1.75" fill="#000"/>
<circle cx="290.9" cy="320.2" r="1.75" fill="#000"/>
<circle cx="320.8" cy="327.7" r="1.75" fill="#000"/>
<circle cx="318.9" cy="327.9" r="1.75" fill="#000"/>
<circle cx="322.5" cy="327.7" r="1.75" fill="#000"/>
<circle cx="322.1" cy="327.9" r="1.75" fill="#000"/>
<circle cx="317" cy="328.1" r="1.75" fill="#000"/>
<circle cx="321.9" cy="327.4" r="1.75" fill="#000"/>
<circle cx="322.4" cy="327.8" r="1.75" fill="#000"/>
<circle cx="321.6" cy="327.9" r="1.75" fill="#000"/>
<circle cx="317.5" cy="327.8" r="1.75" fill="#000"/>
<circle cx="321.9" cy="327.6" r="1.75" fill="#000"/>
<circle cx="320.7" cy="327.7" r="1.75" fill="#000"/>
<circle cx="316.7" cy="327.5" r="1.75" fill="#000"/>
<circle cx="316.7" cy="254.1" r="1.75" fill="#000"/>
<circle cx="322.7" cy="255.2" r="1.75" fill="#000"/>
<circle cx="320.8" cy="257.2" r="1.75" fill="#000"/>
<circle cx="318.2" cy="261.5" r="1.75" fill="#000"/>
<circle cx="317.2" cy="266.7" r="1.75" fill="#000"/>
<circle cx="317.5" cy="266.7" r="1.75" fill="#000"/>
<circle cx="318.1" cy="296.1" r="1.75" fill="#000"/>
<circle cx="321.6" cy="316.1" r="1.75" fill="#000"/>
<circle cx="318.8" cy="320.2" r="1.75" fill="#000"/>
<circle cx="317.6" cy="321.3" r="1.75" fill="#000"/>
<path d="M234.3 244V239H258.5V244" fill="none" stroke="#222" stroke-width="0.8"/>
<text x="227.8" y="236" font-size="9.75" fill="#1a1a1a">*p=0.017</text>
<path d="M294.4 233.1V228.2H319.1V233.1" fill="none" stroke="#222" stroke-width="0.8"/>
<text x="288.8" y="224.5" font-size="9.75" fill="#1a1a1a">p=0.492</text>
<text x="227.4" y="345.3" font-size="12.8">S<tspan font-size="7.6" dy="3.8">751-765</tspan></text>
<text x="290.4" y="345.3" font-size="12.8">S<tspan font-size="7.6" dy="3.8">866-880</tspan></text>
<rect x="187.4" y="354" width="10.3" height="10.3" fill="#e41a1c" stroke="#000" stroke-width="0.8"/>
<text x="202.6" y="364.3" font-size="12.4">1-3 months</text>
<rect x="276.6" y="354" width="10.3" height="10.3" fill="#0000ff" stroke="#000" stroke-width="0.8"/>
<text x="291.2" y="364.3" font-size="12.4">3-4 years</text>
<text x="360.6" y="198.5" font-size="20.7">e</text>
<text x="449.8" y="203.4" font-size="13" text-anchor="middle">PRF1</text>
<line x1="389.9" y1="202.7" x2="389.9" y2="332.4" stroke="#000" stroke-width="1.5"/>
<line x1="387.1" y1="326.9" x2="389.9" y2="326.9" stroke="#222" stroke-width="1.1"/>
<text x="385.7" y="331.5" font-size="10.3" text-anchor="end" fill="#1a1a1a">0.0</text>
<line x1="387.1" y1="298.8" x2="389.9" y2="298.8" stroke="#222" stroke-width="1.1"/>
<text x="385.7" y="303.4" font-size="10.3" text-anchor="end" fill="#1a1a1a">2.5</text>
<line x1="387.1" y1="270.8" x2="389.9" y2="270.8" stroke="#222" stroke-width="1.1"/>
<text x="385.7" y="275.4" font-size="10.3" text-anchor="end" fill="#1a1a1a">5.0</text>
<line x1="387.1" y1="242.7" x2="389.9" y2="242.7" stroke="#222" stroke-width="1.1"/>
<text x="385.7" y="247.3" font-size="10.3" text-anchor="end" fill="#1a1a1a">7.5</text>
<line x1="387.1" y1="214.7" x2="389.9" y2="214.7" stroke="#222" stroke-width="1.1"/>
<text x="385.7" y="219.3" font-size="10.3" text-anchor="end" fill="#1a1a1a">10.0</text>
<line x1="389.7" y1="331.7" x2="509.7" y2="331.7" stroke="#000" stroke-width="1.5"/>
<line x1="422.6" y1="331.7" x2="422.6" y2="334.5" stroke="#222" stroke-width="1.1"/>
<line x1="476.8" y1="331.7" x2="476.8" y2="334.5" stroke="#222" stroke-width="1.1"/>
<path d="M399.21 327.46 L398.90 326.67 L400.03 325.88 L402.21 325.08 L404.76 324.29 L407.07 323.50 L408.80 322.71 L409.88 321.91 L410.46 321.12 L410.73 320.33 L410.84 319.54 L410.88 318.74 L410.90 317.95 L410.90 317.16 L410.90 316.37 L410.90 315.57 L410.90 314.78 L410.90 313.99 L410.90 313.20 L410.90 312.41 L410.90 311.61 L410.90 310.82 L410.90 310.03 L410.90 309.24 L410.90 308.44 L410.90 307.65 L410.90 306.86 L410.90 306.07 L410.90 305.27 L410.90 304.48 L410.90 303.69 L410.90 302.90 L410.90 302.10 L410.90 301.31 L410.90 300.52 L410.90 299.73 L410.90 298.93 L410.89 298.14 L410.89 297.35 L410.89 296.56 L410.89 295.76 L410.89 294.97 L410.89 294.18 L410.89 293.39 L410.88 292.59 L410.88 291.80 L410.88 291.01 L410.88 290.22 L410.87 289.43 L410.87 288.63 L410.87 287.84 L410.86 287.05 L410.86 286.26 L410.86 285.46 L410.85 284.67 L410.85 283.88 L410.84 283.09 L410.84 282.29 L410.83 281.50 L410.83 280.71 L410.83 279.92 L410.82 279.12 L410.82 278.33 L410.81 277.54 L410.81 276.75 L410.81 275.95 L410.80 275.16 L410.80 274.37 L410.80 273.58 L410.80 272.78 L410.80 271.99 L410.80 271.20 L410.80 270.41 L410.80 269.61 L410.80 268.82 L410.80 268.03 L410.80 267.24 L410.80 266.45 L410.81 265.65 L410.81 264.86 L410.81 264.07 L410.99 264.07 L410.99 264.86 L410.99 265.65 L411.00 266.45 L411.00 267.24 L411.00 268.03 L411.00 268.82 L411.00 269.61 L411.00 270.41 L411.00 271.20 L411.00 271.99 L411.00 272.78 L411.00 273.58 L411.00 274.37 L411.00 275.16 L410.99 275.95 L410.99 276.75 L410.99 277.54 L410.98 278.33 L410.98 279.12 L410.97 279.92 L410.97 280.71 L410.97 281.50 L410.96 282.29 L410.96 283.09 L410.95 283.88 L410.95 284.67 L410.94 285.46 L410.94 286.26 L410.94 287.05 L410.93 287.84 L410.93 288.63 L410.93 289.43 L410.92 290.22 L410.92 291.01 L410.92 291.80 L410.92 292.59 L410.91 293.39 L410.91 294.18 L410.91 294.97 L410.91 295.76 L410.91 296.56 L410.91 297.35 L410.91 298.14 L410.90 298.93 L410.90 299.73 L410.90 300.52 L410.90 301.31 L410.90 302.10 L410.90 302.90 L410.90 303.69 L410.90 304.48 L410.90 305.27 L410.90 306.07 L410.90 306.86 L410.90 307.65 L410.90 308.44 L410.90 309.24 L410.90 310.03 L410.90 310.82 L410.90 311.61 L410.90 312.41 L410.90 313.20 L410.90 313.99 L410.90 314.78 L410.90 315.57 L410.90 316.37 L410.90 317.16 L410.90 317.95 L410.92 318.74 L410.96 319.54 L411.07 320.33 L411.34 321.12 L411.92 321.91 L413.00 322.71 L414.73 323.50 L417.04 324.29 L419.59 325.08 L421.77 325.88 L422.90 326.67 L422.59 327.46Z" fill="#e41a1c" stroke="#222" stroke-width="0.95" stroke-linejoin="round"/>
<path d="M421.69 327.46 L421.60 326.47 L422.73 325.48 L424.75 324.49 L427.12 323.51 L429.34 322.52 L431.07 321.53 L432.25 320.54 L432.95 319.55 L433.31 318.56 L433.48 317.57 L433.54 316.58 L433.57 315.60 L433.57 314.61 L433.57 313.62 L433.57 312.63 L433.57 311.64 L433.57 310.65 L433.56 309.66 L433.56 308.67 L433.56 307.69 L433.55 306.70 L433.55 305.71 L433.55 304.72 L433.54 303.73 L433.54 302.74 L433.54 301.75 L433.53 300.76 L433.53 299.78 L433.52 298.79 L433.52 297.80 L433.52 296.81 L433.51 295.82 L433.51 294.83 L433.50 293.84 L433.50 292.85 L433.49 291.87 L433.49 290.88 L433.49 289.89 L433.48 288.90 L433.48 287.91 L433.48 286.92 L433.47 285.93 L433.47 284.94 L433.47 283.96 L433.47 282.97 L433.46 281.98 L433.46 280.99 L433.46 280.00 L433.46 279.01 L433.46 278.02 L433.46 277.03 L433.46 276.05 L433.46 275.06 L433.46 274.07 L433.46 273.08 L433.46 272.09 L433.46 271.10 L433.47 270.11 L433.47 269.12 L433.47 268.14 L433.47 267.15 L433.48 266.16 L433.48 265.17 L433.48 264.18 L433.49 263.19 L433.49 262.20 L433.49 261.21 L433.50 260.23 L433.50 259.24 L433.51 258.25 L433.51 257.26 L433.51 256.27 L433.52 255.28 L433.52 254.29 L433.53 253.30 L433.53 252.32 L433.53 251.33 L433.54 250.34 L433.54 249.35 L433.55 248.36 L433.65 248.36 L433.66 249.35 L433.66 250.34 L433.67 251.33 L433.67 252.32 L433.67 253.30 L433.68 254.29 L433.68 255.28 L433.69 256.27 L433.69 257.26 L433.69 258.25 L433.70 259.24 L433.70 260.23 L433.71 261.21 L433.71 262.20 L433.71 263.19 L433.72 264.18 L433.72 265.17 L433.72 266.16 L433.73 267.15 L433.73 268.14 L433.73 269.12 L433.73 270.11 L433.74 271.10 L433.74 272.09 L433.74 273.08 L433.74 274.07 L433.74 275.06 L433.74 276.05 L433.74 277.03 L433.74 278.02 L433.74 279.01 L433.74 280.00 L433.74 280.99 L433.74 281.98 L433.73 282.97 L433.73 283.96 L433.73 284.94 L433.73 285.93 L433.72 286.92 L433.72 287.91 L433.72 288.90 L433.71 289.89 L433.71 290.88 L433.71 291.87 L433.70 292.85 L433.70 293.84 L433.69 294.83 L433.69 295.82 L433.68 296.81 L433.68 297.80 L433.68 298.79 L433.67 299.78 L433.67 300.76 L433.66 301.75 L433.66 302.74 L433.66 303.73 L433.65 304.72 L433.65 305.71 L433.65 306.70 L433.64 307.69 L433.64 308.67 L433.64 309.66 L433.63 310.65 L433.63 311.64 L433.63 312.63 L433.63 313.62 L433.63 314.61 L433.63 315.60 L433.66 316.58 L433.72 317.57 L433.89 318.56 L434.25 319.55 L434.95 320.54 L436.13 321.53 L437.86 322.52 L440.08 323.51 L442.45 324.49 L444.47 325.48 L445.60 326.47 L445.51 327.46Z" fill="#0000ff" stroke="#222" stroke-width="0.95" stroke-linejoin="round"/>
<path d="M452.14 327.46 L452.10 326.42 L453.21 325.37 L455.17 324.33 L457.51 323.28 L459.76 322.24 L461.59 321.19 L462.90 320.15 L463.73 319.10 L464.19 318.06 L464.42 317.01 L464.52 315.97 L464.56 314.92 L464.57 313.88 L464.58 312.83 L464.58 311.79 L464.57 310.74 L464.57 309.70 L464.57 308.65 L464.56 307.61 L464.56 306.56 L464.56 305.52 L464.55 304.47 L464.55 303.43 L464.54 302.38 L464.54 301.34 L464.53 300.29 L464.53 299.25 L464.52 298.20 L464.52 297.16 L464.51 296.12 L464.51 295.07 L464.50 294.03 L464.50 292.98 L464.49 291.94 L464.48 290.89 L464.48 289.85 L464.47 288.80 L464.47 287.76 L464.46 286.71 L464.45 285.67 L464.45 284.62 L464.44 283.58 L464.44 282.53 L464.43 281.49 L464.43 280.44 L464.43 279.40 L464.42 278.35 L464.42 277.31 L464.42 276.26 L464.41 275.22 L464.41 274.17 L464.41 273.13 L464.41 272.08 L464.41 271.04 L464.41 269.99 L464.41 268.95 L464.41 267.90 L464.41 266.86 L464.41 265.81 L464.42 264.77 L464.42 263.72 L464.42 262.68 L464.43 261.63 L464.43 260.59 L464.44 259.54 L464.44 258.50 L464.45 257.46 L464.45 256.41 L464.46 255.37 L464.46 254.32 L464.47 253.28 L464.47 252.23 L464.48 251.19 L464.49 250.14 L464.49 249.10 L464.50 248.05 L464.50 247.01 L464.51 245.96 L464.52 244.92 L464.52 243.87 L464.68 243.87 L464.68 244.92 L464.69 245.96 L464.70 247.01 L464.70 248.05 L464.71 249.10 L464.71 250.14 L464.72 251.19 L464.73 252.23 L464.73 253.28 L464.74 254.32 L464.74 255.37 L464.75 256.41 L464.75 257.46 L464.76 258.50 L464.76 259.54 L464.77 260.59 L464.77 261.63 L464.78 262.68 L464.78 263.72 L464.78 264.77 L464.79 265.81 L464.79 266.86 L464.79 267.90 L464.79 268.95 L464.79 269.99 L464.79 271.04 L464.79 272.08 L464.79 273.13 L464.79 274.17 L464.79 275.22 L464.78 276.26 L464.78 277.31 L464.78 278.35 L464.77 279.40 L464.77 280.44 L464.77 281.49 L464.76 282.53 L464.76 283.58 L464.75 284.62 L464.75 285.67 L464.74 286.71 L464.73 287.76 L464.73 288.80 L464.72 289.85 L464.72 290.89 L464.71 291.94 L464.70 292.98 L464.70 294.03 L464.69 295.07 L464.69 296.12 L464.68 297.16 L464.68 298.20 L464.67 299.25 L464.67 300.29 L464.66 301.34 L464.66 302.38 L464.65 303.43 L464.65 304.47 L464.64 305.52 L464.64 306.56 L464.64 307.61 L464.63 308.65 L464.63 309.70 L464.63 310.74 L464.62 311.79 L464.62 312.83 L464.63 313.88 L464.64 314.92 L464.68 315.97 L464.78 317.01 L465.01 318.06 L465.47 319.10 L466.30 320.15 L467.61 321.19 L469.44 322.24 L471.69 323.28 L474.03 324.33 L475.99 325.37 L477.10 326.42 L477.06 327.46Z" fill="#e41a1c" stroke="#222" stroke-width="0.95" stroke-linejoin="round"/>
<path d="M476.61 327.46 L476.50 326.56 L477.27 325.65 L478.76 324.75 L480.68 323.84 L482.71 322.94 L484.58 322.03 L486.10 321.13 L487.23 320.22 L487.99 319.32 L488.46 318.41 L488.73 317.51 L488.87 316.61 L488.93 315.70 L488.96 314.80 L488.97 313.89 L488.98 312.99 L488.98 312.08 L488.97 311.18 L488.97 310.27 L488.97 309.37 L488.97 308.46 L488.96 307.56 L488.96 306.65 L488.96 305.75 L488.95 304.85 L488.95 303.94 L488.95 303.04 L488.94 302.13 L488.94 301.23 L488.93 300.32 L488.93 299.42 L488.93 298.51 L488.92 297.61 L488.92 296.70 L488.91 295.80 L488.91 294.89 L488.90 293.99 L488.90 293.09 L488.89 292.18 L488.89 291.28 L488.88 290.37 L488.88 289.47 L488.87 288.56 L488.87 287.66 L488.86 286.75 L488.86 285.85 L488.85 284.94 L488.85 284.04 L488.84 283.13 L488.84 282.23 L488.83 281.33 L488.83 280.42 L488.83 279.52 L488.82 278.61 L488.82 277.71 L488.82 276.80 L488.82 275.90 L488.81 274.99 L488.81 274.09 L488.81 273.18 L488.81 272.28 L488.81 271.38 L488.81 270.47 L488.81 269.57 L488.81 268.66 L488.81 267.76 L488.81 266.85 L488.82 265.95 L488.82 265.04 L488.82 264.14 L488.82 263.23 L488.83 262.33 L488.83 261.42 L488.83 260.52 L488.84 259.62 L488.84 258.71 L488.85 257.81 L488.85 256.90 L488.85 256.00 L488.86 255.09 L489.14 255.09 L489.15 256.00 L489.15 256.90 L489.15 257.81 L489.16 258.71 L489.16 259.62 L489.17 260.52 L489.17 261.42 L489.17 262.33 L489.18 263.23 L489.18 264.14 L489.18 265.04 L489.18 265.95 L489.19 266.85 L489.19 267.76 L489.19 268.66 L489.19 269.57 L489.19 270.47 L489.19 271.38 L489.19 272.28 L489.19 273.18 L489.19 274.09 L489.19 274.99 L489.18 275.90 L489.18 276.80 L489.18 277.71 L489.18 278.61 L489.17 279.52 L489.17 280.42 L489.17 281.33 L489.16 282.23 L489.16 283.13 L489.15 284.04 L489.15 284.94 L489.14 285.85 L489.14 286.75 L489.13 287.66 L489.13 288.56 L489.12 289.47 L489.12 290.37 L489.11 291.28 L489.11 292.18 L489.10 293.09 L489.10 293.99 L489.09 294.89 L489.09 295.80 L489.08 296.70 L489.08 297.61 L489.07 298.51 L489.07 299.42 L489.07 300.32 L489.06 301.23 L489.06 302.13 L489.05 303.04 L489.05 303.94 L489.05 304.85 L489.04 305.75 L489.04 306.65 L489.04 307.56 L489.03 308.46 L489.03 309.37 L489.03 310.27 L489.03 311.18 L489.02 312.08 L489.02 312.99 L489.03 313.89 L489.04 314.80 L489.07 315.70 L489.13 316.61 L489.27 317.51 L489.54 318.41 L490.01 319.32 L490.77 320.22 L491.90 321.13 L493.42 322.03 L495.29 322.94 L497.32 323.84 L499.24 324.75 L500.73 325.65 L501.50 326.56 L501.39 327.46Z" fill="#0000ff" stroke="#222" stroke-width="0.95" stroke-linejoin="round"/>
<circle cx="412.5" cy="326.4" r="1.75" fill="#000"/>
<circle cx="412.8" cy="326.6" r="1.75" fill="#000"/>
<circle cx="409.2" cy="327.3" r="1.75" fill="#000"/>
<circle cx="412" cy="326.5" r="1.75" fill="#000"/>
<circle cx="411.1" cy="326.8" r="1.75" fill="#000"/>
<circle cx="412.3" cy="326.6" r="1.75" fill="#000"/>
<circle cx="410.6" cy="326.7" r="1.75" fill="#000"/>
<circle cx="413" cy="326.5" r="1.75" fill="#000"/>
<circle cx="411.2" cy="265.2" r="1.75" fill="#000"/>
<circle cx="409.6" cy="266.3" r="1.75" fill="#000"/>
<circle cx="409.4" cy="268.6" r="1.75" fill="#000"/>
<circle cx="408.9" cy="270.8" r="1.75" fill="#000"/>
<circle cx="410.9" cy="273" r="1.75" fill="#000"/>
<circle cx="408.4" cy="305.6" r="1.75" fill="#000"/>
<circle cx="410.7" cy="320.2" r="1.75" fill="#000"/>
<circle cx="435.5" cy="327.3" r="1.75" fill="#000"/>
<circle cx="432.9" cy="326.9" r="1.75" fill="#000"/>
<circle cx="433.1" cy="326.9" r="1.75" fill="#000"/>
<circle cx="436.2" cy="326.9" r="1.75" fill="#000"/>
<circle cx="431.2" cy="326.5" r="1.75" fill="#000"/>
<circle cx="434.4" cy="327.5" r="1.75" fill="#000"/>
<circle cx="434.4" cy="326.5" r="1.75" fill="#000"/>
<circle cx="431" cy="326.9" r="1.75" fill="#000"/>
<circle cx="434.2" cy="326.8" r="1.75" fill="#000"/>
<circle cx="434.6" cy="326.7" r="1.75" fill="#000"/>
<circle cx="436" cy="248.4" r="1.75" fill="#000"/>
<circle cx="432.7" cy="256.2" r="1.75" fill="#000"/>
<circle cx="436.3" cy="260.7" r="1.75" fill="#000"/>
<circle cx="433.7" cy="265.2" r="1.75" fill="#000"/>
<circle cx="433.5" cy="273" r="1.75" fill="#000"/>
<circle cx="435.8" cy="282" r="1.75" fill="#000"/>
<circle cx="431" cy="303.3" r="1.75" fill="#000"/>
<circle cx="434.8" cy="308.9" r="1.75" fill="#000"/>
<circle cx="434.3" cy="320.2" r="1.75" fill="#000"/>
<circle cx="466.6" cy="327.1" r="1.75" fill="#000"/>
<circle cx="463.4" cy="326.5" r="1.75" fill="#000"/>
<circle cx="466.6" cy="327.1" r="1.75" fill="#000"/>
<circle cx="464" cy="326.9" r="1.75" fill="#000"/>
<circle cx="464.6" cy="326.9" r="1.75" fill="#000"/>
<circle cx="463.2" cy="326.6" r="1.75" fill="#000"/>
<circle cx="464.6" cy="327.2" r="1.75" fill="#000"/>
<circle cx="467.4" cy="327" r="1.75" fill="#000"/>
<circle cx="465.5" cy="327" r="1.75" fill="#000"/>
<circle cx="466.4" cy="326.8" r="1.75" fill="#000"/>
<circle cx="463.6" cy="243.9" r="1.75" fill="#000"/>
<circle cx="463.5" cy="255.1" r="1.75" fill="#000"/>
<circle cx="463.4" cy="256.2" r="1.75" fill="#000"/>
<circle cx="465.1" cy="259.6" r="1.75" fill="#000"/>
<circle cx="465.4" cy="265.2" r="1.75" fill="#000"/>
<circle cx="466.3" cy="266.3" r="1.75" fill="#000"/>
<circle cx="461.8" cy="267.4" r="1.75" fill="#000"/>
<circle cx="465.9" cy="268.6" r="1.75" fill="#000"/>
<circle cx="466.9" cy="274.2" r="1.75" fill="#000"/>
<circle cx="464.9" cy="274.2" r="1.75" fill="#000"/>
<circle cx="461.9" cy="282" r="1.75" fill="#000"/>
<circle cx="463.4" cy="293.2" r="1.75" fill="#000"/>
<circle cx="461.6" cy="305.6" r="1.75" fill="#000"/>
<circle cx="462.7" cy="320.2" r="1.75" fill="#000"/>
<circle cx="490.1" cy="326.4" r="1.75" fill="#000"/>
<circle cx="487.3" cy="326.8" r="1.75" fill="#000"/>
<circle cx="490" cy="326.7" r="1.75" fill="#000"/>
<circle cx="488.7" cy="326.6" r="1.75" fill="#000"/>
<circle cx="490.6" cy="326.4" r="1.75" fill="#000"/>
<circle cx="486.6" cy="326.8" r="1.75" fill="#000"/>
<circle cx="487.1" cy="326.8" r="1.75" fill="#000"/>
<circle cx="486.2" cy="326.8" r="1.75" fill="#000"/>
<circle cx="490.6" cy="326.7" r="1.75" fill="#000"/>
<circle cx="491.5" cy="326.8" r="1.75" fill="#000"/>
<circle cx="489.9" cy="255.1" r="1.75" fill="#000"/>
<circle cx="488.2" cy="256.2" r="1.75" fill="#000"/>
<circle cx="490.9" cy="258.5" r="1.75" fill="#000"/>
<circle cx="490.7" cy="260.7" r="1.75" fill="#000"/>
<circle cx="489.4" cy="261.8" r="1.75" fill="#000"/>
<circle cx="487.5" cy="262.9" r="1.75" fill="#000"/>
<circle cx="487.8" cy="265.2" r="1.75" fill="#000"/>
<circle cx="488.5" cy="270.8" r="1.75" fill="#000"/>
<circle cx="487.9" cy="275.3" r="1.75" fill="#000"/>
<circle cx="488.6" cy="277.5" r="1.75" fill="#000"/>
<circle cx="489.9" cy="285.4" r="1.75" fill="#000"/>
<circle cx="491.6" cy="287.6" r="1.75" fill="#000"/>
<circle cx="486.3" cy="292.1" r="1.75" fill="#000"/>
<circle cx="489.4" cy="311.2" r="1.75" fill="#000"/>
<circle cx="486.2" cy="320.2" r="1.75" fill="#000"/>
<path d="M411.4 237.9V232.6H433.6V237.9" fill="none" stroke="#222" stroke-width="0.8"/>
<text x="405.4" y="229.5" font-size="9.75" fill="#1a1a1a">p=0.322</text>
<path d="M465.6 233.3V228.4H487.8V233.3" fill="none" stroke="#222" stroke-width="0.8"/>
<text x="458.6" y="223.9" font-size="9.75" fill="#1a1a1a">p=0.955</text>
<text x="403.9" y="345.6" font-size="12.8">S<tspan font-size="7.6" dy="3.8">751-765</tspan></text>
<text x="461.1" y="345.6" font-size="12.8">S<tspan font-size="7.6" dy="3.8">866-880</tspan></text>
<text x="534.5" y="198.4" font-size="20.6">f</text>
<line x1="566.7" y1="199.9" x2="566.7" y2="329.9" stroke="#000" stroke-width="1.5"/>
<line x1="563.9" y1="325.4" x2="566.7" y2="325.4" stroke="#222" stroke-width="1.1"/>
<text x="562.5" y="330" font-size="10.3" text-anchor="end" fill="#1a1a1a">0</text>
<line x1="563.9" y1="283.4" x2="566.7" y2="283.4" stroke="#222" stroke-width="1.1"/>
<text x="562.5" y="288" font-size="10.3" text-anchor="end" fill="#1a1a1a">5</text>
<line x1="563.9" y1="241.4" x2="566.7" y2="241.4" stroke="#222" stroke-width="1.1"/>
<text x="562.5" y="246" font-size="10.3" text-anchor="end" fill="#1a1a1a">10</text>
<line x1="563.9" y1="199.4" x2="566.7" y2="199.4" stroke="#222" stroke-width="1.1"/>
<text x="562.5" y="204" font-size="10.3" text-anchor="end" fill="#1a1a1a">15</text>
<line x1="566.5" y1="329.1" x2="653.5" y2="329.1" stroke="#000" stroke-width="1.5"/>
<line x1="584.6" y1="329.1" x2="584.6" y2="331.9" stroke="#222" stroke-width="1.1"/>
<line x1="610.3" y1="329.1" x2="610.3" y2="331.9" stroke="#222" stroke-width="1.1"/>
<line x1="636" y1="329.1" x2="636" y2="331.9" stroke="#222" stroke-width="1.1"/>
<rect x="576.6" y="234.2" width="16" height="91.2" fill="#f8766d"/>
<rect x="602.3" y="297.8" width="16" height="27.6" fill="#f8766d"/>
<rect x="628" y="278.2" width="16" height="47.2" fill="#f8766d"/>
<text x="545.5" y="263.5" font-size="12.8" text-anchor="middle" transform="rotate(-90 545.5 263.5)">Proportion (%)</text>
<text x="591.5" y="335.5" font-size="12.8" text-anchor="end" transform="rotate(-42 591.5 335.5)">S<tspan font-size="8.2" dy="3.6">166-180</tspan></text>
<text x="617.2" y="335.5" font-size="12.8" text-anchor="end" transform="rotate(-42 617.2 335.5)">S<tspan font-size="8.2" dy="3.6">751-765</tspan></text>
<text x="642.9" y="335.5" font-size="12.8" text-anchor="end" transform="rotate(-42 642.9 335.5)">S<tspan font-size="8.2" dy="3.6">866-880</tspan></text>
<text x="10.1" y="394.4" font-size="20.3">g</text>
<text x="160" y="391.6" font-size="13" text-anchor="middle">GZMA</text>
<line x1="52.4" y1="384.8" x2="52.4" y2="544.8" stroke="#000" stroke-width="1.5"/>
<line x1="49.6" y1="537.9" x2="52.4" y2="537.9" stroke="#222" stroke-width="1.1"/>
<text x="48.2" y="542.5" font-size="10.3" text-anchor="end" fill="#1a1a1a">0</text>
<line x1="49.6" y1="491.3" x2="52.4" y2="491.3" stroke="#222" stroke-width="1.1"/>
<text x="48.2" y="495.9" font-size="10.3" text-anchor="end" fill="#1a1a1a">5</text>
<line x1="49.6" y1="444.7" x2="52.4" y2="444.7" stroke="#222" stroke-width="1.1"/>
<text x="48.2" y="449.3" font-size="10.3" text-anchor="end" fill="#1a1a1a">10</text>
<line x1="49.6" y1="398.1" x2="52.4" y2="398.1" stroke="#222" stroke-width="1.1"/>
<text x="48.2" y="402.7" font-size="10.3" text-anchor="end" fill="#1a1a1a">15</text>
<line x1="52.2" y1="544" x2="265" y2="544" stroke="#000" stroke-width="1.5"/>
<line x1="92.5" y1="544" x2="92.5" y2="546.8" stroke="#222" stroke-width="1.1"/>
<line x1="159.6" y1="544" x2="159.6" y2="546.8" stroke="#222" stroke-width="1.1"/>
<line x1="226.5" y1="544" x2="226.5" y2="546.8" stroke="#222" stroke-width="1.1"/>
<text x="27.6" y="474.3" font-size="13.1" text-anchor="middle" transform="rotate(-90 27.6 474.3)">Expression level</text>
<path d="M61.50 538.37 L61.50 537.44 L62.34 536.51 L63.94 535.59 L66.20 534.66 L68.93 533.74 L71.95 532.81 L75.07 531.88 L78.11 530.96 L80.94 530.03 L83.47 529.10 L85.64 528.18 L87.42 527.25 L88.85 526.33 L89.94 525.40 L90.76 524.47 L91.35 523.55 L91.76 522.62 L92.03 521.69 L92.21 520.77 L92.33 519.84 L92.40 518.92 L92.45 517.99 L92.47 517.06 L92.48 516.14 L92.49 515.21 L92.50 514.29 L92.50 513.36 L92.50 512.43 L92.50 511.51 L92.50 510.58 L92.50 509.65 L92.49 508.73 L92.49 507.80 L92.48 506.88 L92.47 505.95 L92.46 505.02 L92.44 504.10 L92.40 503.17 L92.35 502.25 L92.28 501.32 L92.19 500.39 L92.05 499.47 L91.87 498.54 L91.63 497.61 L91.32 496.69 L90.92 495.76 L90.43 494.84 L89.84 493.91 L89.14 492.98 L88.32 492.06 L87.40 491.13 L86.37 490.20 L85.28 489.28 L84.13 488.35 L82.97 487.43 L81.84 486.50 L80.78 485.57 L79.85 484.65 L79.07 483.72 L78.50 482.80 L78.15 481.87 L78.05 480.94 L78.21 480.02 L78.61 479.09 L79.23 478.16 L80.05 477.24 L81.01 476.31 L82.09 475.39 L83.23 474.46 L84.39 473.53 L85.53 472.61 L86.61 471.68 L87.61 470.76 L88.51 469.83 L89.31 468.90 L89.99 467.98 L90.55 467.05 L91.02 466.12 L91.40 465.20 L91.69 464.27 L93.31 464.27 L93.60 465.20 L93.98 466.12 L94.45 467.05 L95.01 467.98 L95.69 468.90 L96.49 469.83 L97.39 470.76 L98.39 471.68 L99.47 472.61 L100.61 473.53 L101.77 474.46 L102.91 475.39 L103.99 476.31 L104.95 477.24 L105.77 478.16 L106.39 479.09 L106.79 480.02 L106.95 480.94 L106.85 481.87 L106.50 482.80 L105.93 483.72 L105.15 484.65 L104.22 485.57 L103.16 486.50 L102.03 487.43 L100.87 488.35 L99.72 489.28 L98.63 490.20 L97.60 491.13 L96.68 492.06 L95.86 492.98 L95.16 493.91 L94.57 494.84 L94.08 495.76 L93.68 496.69 L93.37 497.61 L93.13 498.54 L92.95 499.47 L92.81 500.39 L92.72 501.32 L92.65 502.25 L92.60 503.17 L92.56 504.10 L92.54 505.02 L92.53 505.95 L92.52 506.88 L92.51 507.80 L92.51 508.73 L92.50 509.65 L92.50 510.58 L92.50 511.51 L92.50 512.43 L92.50 513.36 L92.50 514.29 L92.51 515.21 L92.52 516.14 L92.53 517.06 L92.55 517.99 L92.60 518.92 L92.67 519.84 L92.79 520.77 L92.97 521.69 L93.24 522.62 L93.65 523.55 L94.24 524.47 L95.06 525.40 L96.15 526.33 L97.58 527.25 L99.36 528.18 L101.53 529.10 L104.06 530.03 L106.89 530.96 L109.93 531.88 L113.05 532.81 L116.07 533.74 L118.80 534.66 L121.06 535.59 L122.66 536.51 L123.50 537.44 L123.50 538.37Z" fill="#e41a1c" stroke="#222" stroke-width="0.95" stroke-linejoin="round"/>
<path d="M129.41 538.37 L129.40 537.47 L129.95 536.58 L131.02 535.69 L132.56 534.80 L134.50 533.91 L136.72 533.02 L139.14 532.13 L141.64 531.24 L144.12 530.34 L146.51 529.45 L148.73 528.56 L150.75 527.67 L152.52 526.78 L154.04 525.89 L155.32 525.00 L156.36 524.11 L157.20 523.22 L157.85 522.32 L158.35 521.43 L158.72 520.54 L159.00 519.65 L159.19 518.76 L159.33 517.87 L159.42 516.98 L159.49 516.09 L159.53 515.19 L159.56 514.30 L159.57 513.41 L159.58 512.52 L159.59 511.63 L159.59 510.74 L159.60 509.85 L159.60 508.96 L159.60 508.06 L159.60 507.17 L159.60 506.28 L159.59 505.39 L159.59 504.50 L159.58 503.61 L159.57 502.72 L159.56 501.83 L159.54 500.93 L159.51 500.04 L159.47 499.15 L159.42 498.26 L159.34 497.37 L159.25 496.48 L159.13 495.59 L158.98 494.70 L158.79 493.80 L158.58 492.91 L158.33 492.02 L158.04 491.13 L157.73 490.24 L157.40 489.35 L157.06 488.46 L156.72 487.57 L156.39 486.67 L156.09 485.78 L155.83 484.89 L155.63 484.00 L155.50 483.11 L155.44 482.22 L155.46 481.33 L155.55 480.44 L155.72 479.55 L155.95 478.65 L156.22 477.76 L156.54 476.87 L156.87 475.98 L157.22 475.09 L157.56 474.20 L157.88 473.31 L158.18 472.42 L158.45 471.52 L158.68 470.63 L158.88 469.74 L159.05 468.85 L159.19 467.96 L159.29 467.07 L159.91 467.07 L160.01 467.96 L160.15 468.85 L160.32 469.74 L160.52 470.63 L160.75 471.52 L161.02 472.42 L161.32 473.31 L161.64 474.20 L161.98 475.09 L162.33 475.98 L162.66 476.87 L162.98 477.76 L163.25 478.65 L163.48 479.55 L163.65 480.44 L163.74 481.33 L163.76 482.22 L163.70 483.11 L163.57 484.00 L163.37 484.89 L163.11 485.78 L162.81 486.67 L162.48 487.57 L162.14 488.46 L161.80 489.35 L161.47 490.24 L161.16 491.13 L160.87 492.02 L160.62 492.91 L160.41 493.80 L160.22 494.70 L160.07 495.59 L159.95 496.48 L159.86 497.37 L159.78 498.26 L159.73 499.15 L159.69 500.04 L159.66 500.93 L159.64 501.83 L159.63 502.72 L159.62 503.61 L159.61 504.50 L159.61 505.39 L159.60 506.28 L159.60 507.17 L159.60 508.06 L159.60 508.96 L159.60 509.85 L159.61 510.74 L159.61 511.63 L159.62 512.52 L159.63 513.41 L159.64 514.30 L159.67 515.19 L159.71 516.09 L159.78 516.98 L159.87 517.87 L160.01 518.76 L160.20 519.65 L160.48 520.54 L160.85 521.43 L161.35 522.32 L162.00 523.22 L162.84 524.11 L163.88 525.00 L165.16 525.89 L166.68 526.78 L168.45 527.67 L170.47 528.56 L172.69 529.45 L175.08 530.34 L177.56 531.24 L180.06 532.13 L182.48 533.02 L184.70 533.91 L186.64 534.80 L188.18 535.69 L189.25 536.58 L189.80 537.47 L189.79 538.37Z" fill="#377eb8" stroke="#222" stroke-width="0.95" stroke-linejoin="round"/>
<path d="M196.33 538.37 L196.30 537.52 L196.78 536.68 L197.73 535.83 L199.12 534.99 L200.87 534.14 L202.91 533.30 L205.15 532.45 L207.50 531.61 L209.87 530.76 L212.18 529.92 L214.38 529.08 L216.41 528.23 L218.24 527.39 L219.86 526.54 L221.24 525.70 L222.41 524.85 L223.37 524.01 L224.14 523.16 L224.75 522.32 L225.23 521.47 L225.59 520.63 L225.86 519.78 L226.06 518.94 L226.20 518.10 L226.30 517.25 L226.37 516.41 L226.41 515.56 L226.45 514.72 L226.47 513.87 L226.48 513.03 L226.49 512.18 L226.49 511.34 L226.49 510.49 L226.50 509.65 L226.50 508.80 L226.50 507.96 L226.49 507.11 L226.49 506.27 L226.49 505.43 L226.48 504.58 L226.47 503.74 L226.46 502.89 L226.44 502.05 L226.41 501.20 L226.37 500.36 L226.32 499.51 L226.25 498.67 L226.17 497.82 L226.06 496.98 L225.92 496.13 L225.75 495.29 L225.55 494.45 L225.31 493.60 L225.05 492.76 L224.75 491.91 L224.42 491.07 L224.08 490.22 L223.72 489.38 L223.37 488.53 L223.03 487.69 L222.72 486.84 L222.44 486.00 L222.22 485.15 L222.07 484.31 L221.98 483.47 L221.97 482.62 L222.03 481.78 L222.17 480.93 L222.37 480.09 L222.63 479.24 L222.93 478.40 L223.26 477.55 L223.61 476.71 L223.97 475.86 L224.32 475.02 L224.65 474.17 L224.96 473.33 L225.23 472.49 L225.48 471.64 L225.69 470.80 L227.31 470.80 L227.52 471.64 L227.77 472.49 L228.04 473.33 L228.35 474.17 L228.68 475.02 L229.03 475.86 L229.39 476.71 L229.74 477.55 L230.07 478.40 L230.37 479.24 L230.63 480.09 L230.83 480.93 L230.97 481.78 L231.03 482.62 L231.02 483.47 L230.93 484.31 L230.78 485.15 L230.56 486.00 L230.28 486.84 L229.97 487.69 L229.63 488.53 L229.28 489.38 L228.92 490.22 L228.58 491.07 L228.25 491.91 L227.95 492.76 L227.69 493.60 L227.45 494.45 L227.25 495.29 L227.08 496.13 L226.94 496.98 L226.83 497.82 L226.75 498.67 L226.68 499.51 L226.63 500.36 L226.59 501.20 L226.56 502.05 L226.54 502.89 L226.53 503.74 L226.52 504.58 L226.51 505.43 L226.51 506.27 L226.51 507.11 L226.50 507.96 L226.50 508.80 L226.50 509.65 L226.51 510.49 L226.51 511.34 L226.51 512.18 L226.52 513.03 L226.53 513.87 L226.55 514.72 L226.59 515.56 L226.63 516.41 L226.70 517.25 L226.80 518.10 L226.94 518.94 L227.14 519.78 L227.41 520.63 L227.77 521.47 L228.25 522.32 L228.86 523.16 L229.63 524.01 L230.59 524.85 L231.76 525.70 L233.14 526.54 L234.76 527.39 L236.59 528.23 L238.62 529.08 L240.82 529.92 L243.13 530.76 L245.50 531.61 L247.85 532.45 L250.09 533.30 L252.13 534.14 L253.88 534.99 L255.27 535.83 L256.22 536.68 L256.70 537.52 L256.67 538.37Z" fill="#c77cc0" stroke="#222" stroke-width="0.95" stroke-linejoin="round"/>
<circle cx="94.1" cy="538.3" r="1.7" fill="#000"/>
<circle cx="91.4" cy="537.6" r="1.7" fill="#000"/>
<circle cx="89.9" cy="537.8" r="1.7" fill="#000"/>
<circle cx="91.3" cy="537.5" r="1.7" fill="#000"/>
<circle cx="92.1" cy="537.9" r="1.7" fill="#000"/>
<circle cx="93" cy="538.4" r="1.7" fill="#000"/>
<circle cx="94.1" cy="538" r="1.7" fill="#000"/>
<circle cx="94.5" cy="537.8" r="1.7" fill="#000"/>
<circle cx="90.1" cy="537.5" r="1.7" fill="#000"/>
<circle cx="94.2" cy="537.5" r="1.7" fill="#000"/>
<circle cx="94.1" cy="537.9" r="1.7" fill="#000"/>
<circle cx="94.4" cy="538" r="1.7" fill="#000"/>
<circle cx="92.9" cy="538.3" r="1.7" fill="#000"/>
<circle cx="91.3" cy="537.8" r="1.7" fill="#000"/>
<circle cx="94.3" cy="538.2" r="1.7" fill="#000"/>
<circle cx="94.1" cy="484.2" r="1.7" fill="#000"/>
<circle cx="93.5" cy="481.1" r="1.7" fill="#000"/>
<circle cx="94.7" cy="480.8" r="1.7" fill="#000"/>
<circle cx="91.7" cy="469.3" r="1.7" fill="#000"/>
<circle cx="90.3" cy="481.6" r="1.7" fill="#000"/>
<circle cx="92.8" cy="466.2" r="1.7" fill="#000"/>
<circle cx="94" cy="466.9" r="1.7" fill="#000"/>
<circle cx="90.9" cy="467.6" r="1.7" fill="#000"/>
<circle cx="93.8" cy="473.1" r="1.7" fill="#000"/>
<circle cx="94.7" cy="480.9" r="1.7" fill="#000"/>
<circle cx="91.1" cy="480.8" r="1.7" fill="#000"/>
<circle cx="93.1" cy="483.2" r="1.7" fill="#000"/>
<circle cx="93.4" cy="488.1" r="1.7" fill="#000"/>
<circle cx="92.3" cy="482.5" r="1.7" fill="#000"/>
<circle cx="91" cy="487.4" r="1.7" fill="#000"/>
<circle cx="91.2" cy="468.2" r="1.7" fill="#000"/>
<circle cx="93.8" cy="477.5" r="1.7" fill="#000"/>
<circle cx="94" cy="485.7" r="1.7" fill="#000"/>
<circle cx="92.3" cy="498" r="1.7" fill="#000"/>
<circle cx="90.4" cy="482.4" r="1.7" fill="#000"/>
<circle cx="94.1" cy="485.5" r="1.7" fill="#000"/>
<circle cx="93.9" cy="491.1" r="1.7" fill="#000"/>
<circle cx="91.1" cy="491.5" r="1.7" fill="#000"/>
<circle cx="92.9" cy="500.9" r="1.7" fill="#000"/>
<circle cx="94.6" cy="477.2" r="1.7" fill="#000"/>
<circle cx="94.5" cy="482.5" r="1.7" fill="#000"/>
<circle cx="92.6" cy="464.3" r="1.7" fill="#000"/>
<circle cx="92.4" cy="482.2" r="1.7" fill="#000"/>
<circle cx="93" cy="483.2" r="1.7" fill="#000"/>
<circle cx="90.9" cy="469.9" r="1.7" fill="#000"/>
<circle cx="90.9" cy="480.9" r="1.7" fill="#000"/>
<circle cx="90.8" cy="480.6" r="1.7" fill="#000"/>
<circle cx="93.5" cy="485.1" r="1.7" fill="#000"/>
<circle cx="91.8" cy="487.1" r="1.7" fill="#000"/>
<circle cx="92.8" cy="469.4" r="1.7" fill="#000"/>
<circle cx="92" cy="473.6" r="1.7" fill="#000"/>
<circle cx="92.6" cy="467.6" r="1.7" fill="#000"/>
<circle cx="90.7" cy="484.9" r="1.7" fill="#000"/>
<circle cx="90.1" cy="481.7" r="1.7" fill="#000"/>
<circle cx="95.1" cy="489.4" r="1.7" fill="#000"/>
<circle cx="91.8" cy="473.9" r="1.7" fill="#000"/>
<circle cx="90.5" cy="493.7" r="1.7" fill="#000"/>
<circle cx="93.2" cy="477.2" r="1.7" fill="#000"/>
<circle cx="94" cy="472.8" r="1.7" fill="#000"/>
<circle cx="90.7" cy="470.1" r="1.7" fill="#000"/>
<circle cx="93" cy="489.9" r="1.7" fill="#000"/>
<circle cx="91.7" cy="472.8" r="1.7" fill="#000"/>
<circle cx="92.6" cy="488" r="1.7" fill="#000"/>
<circle cx="90" cy="488.3" r="1.7" fill="#000"/>
<circle cx="90.1" cy="493.1" r="1.7" fill="#000"/>
<circle cx="95.1" cy="472.3" r="1.7" fill="#000"/>
<circle cx="94.4" cy="468.2" r="1.7" fill="#000"/>
<circle cx="92.4" cy="487" r="1.7" fill="#000"/>
<circle cx="92.8" cy="488.4" r="1.7" fill="#000"/>
<circle cx="91.3" cy="484.8" r="1.7" fill="#000"/>
<circle cx="94" cy="464.3" r="1.7" fill="#000"/>
<circle cx="92.1" cy="473.6" r="1.7" fill="#000"/>
<circle cx="94.8" cy="486.5" r="1.7" fill="#000"/>
<circle cx="93.9" cy="497" r="1.7" fill="#000"/>
<circle cx="94.2" cy="487.6" r="1.7" fill="#000"/>
<circle cx="94.9" cy="472" r="1.7" fill="#000"/>
<circle cx="91.2" cy="466.3" r="1.7" fill="#000"/>
<circle cx="90.1" cy="484.2" r="1.7" fill="#000"/>
<circle cx="90.9" cy="487.8" r="1.7" fill="#000"/>
<circle cx="90.8" cy="486.3" r="1.7" fill="#000"/>
<circle cx="90.3" cy="497.8" r="1.7" fill="#000"/>
<circle cx="90.2" cy="474.4" r="1.7" fill="#000"/>
<circle cx="92.8" cy="491.1" r="1.7" fill="#000"/>
<circle cx="94.4" cy="473.1" r="1.7" fill="#000"/>
<circle cx="92.3" cy="496.3" r="1.7" fill="#000"/>
<circle cx="94.8" cy="533.2" r="1.7" fill="#000"/>
<circle cx="94.6" cy="530.4" r="1.7" fill="#000"/>
<circle cx="90.2" cy="528.6" r="1.7" fill="#000"/>
<circle cx="93" cy="526.7" r="1.7" fill="#000"/>
<circle cx="92" cy="523.9" r="1.7" fill="#000"/>
<circle cx="90.5" cy="521.1" r="1.7" fill="#000"/>
<circle cx="94.9" cy="519.3" r="1.7" fill="#000"/>
<circle cx="91.2" cy="516.5" r="1.7" fill="#000"/>
<circle cx="92.8" cy="513.7" r="1.7" fill="#000"/>
<circle cx="93.2" cy="509.9" r="1.7" fill="#000"/>
<circle cx="94.9" cy="507.1" r="1.7" fill="#000"/>
<circle cx="93.4" cy="504.3" r="1.7" fill="#000"/>
<circle cx="91.9" cy="500.6" r="1.7" fill="#000"/>
<circle cx="92.2" cy="497.8" r="1.7" fill="#000"/>
<circle cx="90.7" cy="495" r="1.7" fill="#000"/>
<circle cx="94.9" cy="492.2" r="1.7" fill="#000"/>
<circle cx="159.9" cy="537.4" r="1.7" fill="#000"/>
<circle cx="157.8" cy="538.2" r="1.7" fill="#000"/>
<circle cx="161.5" cy="538.3" r="1.7" fill="#000"/>
<circle cx="158.4" cy="538.1" r="1.7" fill="#000"/>
<circle cx="159.1" cy="538" r="1.7" fill="#000"/>
<circle cx="157.8" cy="537.5" r="1.7" fill="#000"/>
<circle cx="158.4" cy="537.5" r="1.7" fill="#000"/>
<circle cx="161.4" cy="537.6" r="1.7" fill="#000"/>
<circle cx="158.7" cy="538.3" r="1.7" fill="#000"/>
<circle cx="157.9" cy="537.6" r="1.7" fill="#000"/>
<circle cx="159.6" cy="489.1" r="1.7" fill="#000"/>
<circle cx="158.7" cy="484" r="1.7" fill="#000"/>
<circle cx="161.7" cy="489.8" r="1.7" fill="#000"/>
<circle cx="157.6" cy="480.1" r="1.7" fill="#000"/>
<circle cx="162.1" cy="482.2" r="1.7" fill="#000"/>
<circle cx="157.3" cy="476.2" r="1.7" fill="#000"/>
<circle cx="161.7" cy="474.6" r="1.7" fill="#000"/>
<circle cx="160.5" cy="474.2" r="1.7" fill="#000"/>
<circle cx="158.1" cy="485.1" r="1.7" fill="#000"/>
<circle cx="159.5" cy="484.2" r="1.7" fill="#000"/>
<circle cx="158.5" cy="474.8" r="1.7" fill="#000"/>
<circle cx="158.3" cy="481.8" r="1.7" fill="#000"/>
<circle cx="158" cy="484.6" r="1.7" fill="#000"/>
<circle cx="158.9" cy="483.9" r="1.7" fill="#000"/>
<circle cx="162.2" cy="478.1" r="1.7" fill="#000"/>
<circle cx="162.2" cy="477.4" r="1.7" fill="#000"/>
<circle cx="161.8" cy="477.5" r="1.7" fill="#000"/>
<circle cx="157.5" cy="480" r="1.7" fill="#000"/>
<circle cx="158.5" cy="478.4" r="1.7" fill="#000"/>
<circle cx="161.7" cy="476.7" r="1.7" fill="#000"/>
<circle cx="157.3" cy="475.4" r="1.7" fill="#000"/>
<circle cx="160.8" cy="473.1" r="1.7" fill="#000"/>
<circle cx="158.5" cy="481.3" r="1.7" fill="#000"/>
<circle cx="162.1" cy="481.5" r="1.7" fill="#000"/>
<circle cx="157.1" cy="480.6" r="1.7" fill="#000"/>
<circle cx="161.2" cy="478.4" r="1.7" fill="#000"/>
<circle cx="158.8" cy="483.7" r="1.7" fill="#000"/>
<circle cx="157.7" cy="471.7" r="1.7" fill="#000"/>
<circle cx="157" cy="486.5" r="1.7" fill="#000"/>
<circle cx="161.3" cy="479.6" r="1.7" fill="#000"/>
<circle cx="159.7" cy="484" r="1.7" fill="#000"/>
<circle cx="158" cy="484.4" r="1.7" fill="#000"/>
<circle cx="159.3" cy="481.2" r="1.7" fill="#000"/>
<circle cx="161.7" cy="472.3" r="1.7" fill="#000"/>
<circle cx="158.1" cy="486.6" r="1.7" fill="#000"/>
<circle cx="160" cy="486.2" r="1.7" fill="#000"/>
<circle cx="157.7" cy="486.4" r="1.7" fill="#000"/>
<circle cx="157.9" cy="487.5" r="1.7" fill="#000"/>
<circle cx="161" cy="473.2" r="1.7" fill="#000"/>
<circle cx="160.7" cy="489.8" r="1.7" fill="#000"/>
<circle cx="158" cy="480.9" r="1.7" fill="#000"/>
<circle cx="157.4" cy="479.5" r="1.7" fill="#000"/>
<circle cx="157.5" cy="478.9" r="1.7" fill="#000"/>
<circle cx="160.2" cy="473.7" r="1.7" fill="#000"/>
<circle cx="159.6" cy="478.9" r="1.7" fill="#000"/>
<circle cx="158.4" cy="533.2" r="1.7" fill="#000"/>
<circle cx="158.1" cy="530.4" r="1.7" fill="#000"/>
<circle cx="160.2" cy="526.7" r="1.7" fill="#000"/>
<circle cx="160.7" cy="524.9" r="1.7" fill="#000"/>
<circle cx="161.2" cy="505.3" r="1.7" fill="#000"/>
<circle cx="160" cy="498.8" r="1.7" fill="#000"/>
<circle cx="227.6" cy="538.2" r="1.7" fill="#000"/>
<circle cx="224.4" cy="538.3" r="1.7" fill="#000"/>
<circle cx="228.4" cy="537.7" r="1.7" fill="#000"/>
<circle cx="227.6" cy="538" r="1.7" fill="#000"/>
<circle cx="224.1" cy="537.7" r="1.7" fill="#000"/>
<circle cx="224.5" cy="538.3" r="1.7" fill="#000"/>
<circle cx="226.5" cy="537.6" r="1.7" fill="#000"/>
<circle cx="226.5" cy="538.1" r="1.7" fill="#000"/>
<circle cx="225.4" cy="537.6" r="1.7" fill="#000"/>
<circle cx="224.5" cy="537.6" r="1.7" fill="#000"/>
<circle cx="226" cy="483.9" r="1.7" fill="#000"/>
<circle cx="224.6" cy="482.9" r="1.7" fill="#000"/>
<circle cx="227" cy="477.5" r="1.7" fill="#000"/>
<circle cx="228.4" cy="486.3" r="1.7" fill="#000"/>
<circle cx="224.7" cy="479.9" r="1.7" fill="#000"/>
<circle cx="226.9" cy="486.1" r="1.7" fill="#000"/>
<circle cx="227.8" cy="478.8" r="1.7" fill="#000"/>
<circle cx="224.8" cy="473.2" r="1.7" fill="#000"/>
<circle cx="228.2" cy="485.2" r="1.7" fill="#000"/>
<circle cx="228.8" cy="480.4" r="1.7" fill="#000"/>
<circle cx="225.9" cy="488.1" r="1.7" fill="#000"/>
<circle cx="226.1" cy="477.5" r="1.7" fill="#000"/>
<circle cx="228.3" cy="476.1" r="1.7" fill="#000"/>
<circle cx="226.6" cy="482.7" r="1.7" fill="#000"/>
<circle cx="226" cy="489.3" r="1.7" fill="#000"/>
<circle cx="228.8" cy="480.7" r="1.7" fill="#000"/>
<circle cx="227.9" cy="476.5" r="1.7" fill="#000"/>
<circle cx="225.7" cy="476.8" r="1.7" fill="#000"/>
<circle cx="225.1" cy="478.4" r="1.7" fill="#000"/>
<circle cx="225.6" cy="493.1" r="1.7" fill="#000"/>
<circle cx="226.2" cy="486.7" r="1.7" fill="#000"/>
<circle cx="229" cy="475" r="1.7" fill="#000"/>
<circle cx="228.1" cy="489.8" r="1.7" fill="#000"/>
<circle cx="228.6" cy="476.6" r="1.7" fill="#000"/>
<circle cx="228.1" cy="472.4" r="1.7" fill="#000"/>
<circle cx="228.3" cy="478.7" r="1.7" fill="#000"/>
<circle cx="224.2" cy="476.6" r="1.7" fill="#000"/>
<circle cx="226.6" cy="484.8" r="1.7" fill="#000"/>
<circle cx="228.9" cy="489.8" r="1.7" fill="#000"/>
<circle cx="228.8" cy="483.5" r="1.7" fill="#000"/>
<circle cx="225.2" cy="484" r="1.7" fill="#000"/>
<circle cx="226.1" cy="483.2" r="1.7" fill="#000"/>
<circle cx="227.2" cy="479" r="1.7" fill="#000"/>
<circle cx="225.8" cy="483.7" r="1.7" fill="#000"/>
<circle cx="226.7" cy="481.8" r="1.7" fill="#000"/>
<circle cx="224.3" cy="480.5" r="1.7" fill="#000"/>
<circle cx="226.2" cy="482.9" r="1.7" fill="#000"/>
<circle cx="226.5" cy="472.6" r="1.7" fill="#000"/>
<circle cx="224" cy="480.4" r="1.7" fill="#000"/>
<circle cx="224.6" cy="482.4" r="1.7" fill="#000"/>
<circle cx="228.9" cy="484.1" r="1.7" fill="#000"/>
<circle cx="227.9" cy="486.4" r="1.7" fill="#000"/>
<circle cx="228.8" cy="475.4" r="1.7" fill="#000"/>
<circle cx="227.2" cy="482.1" r="1.7" fill="#000"/>
<circle cx="228.1" cy="488.9" r="1.7" fill="#000"/>
<circle cx="228.5" cy="533.2" r="1.7" fill="#000"/>
<circle cx="228.5" cy="528.6" r="1.7" fill="#000"/>
<circle cx="224.1" cy="523" r="1.7" fill="#000"/>
<circle cx="227.2" cy="519.3" r="1.7" fill="#000"/>
<circle cx="225.3" cy="514.6" r="1.7" fill="#000"/>
<circle cx="227.4" cy="509.9" r="1.7" fill="#000"/>
<circle cx="225.3" cy="505.3" r="1.7" fill="#000"/>
<circle cx="226.7" cy="500.6" r="1.7" fill="#000"/>
<path d="M92.5 456.5V451.3H159.6V456.5" fill="none" stroke="#222" stroke-width="0.8"/>
<text x="90.3" y="448.5" font-size="9.75" fill="#1a1a1a">****p=1.98e−06</text>
<path d="M92.5 436.6V430.5H226.5V436.6" fill="none" stroke="#222" stroke-width="0.8"/>
<text x="121.6" y="426.9" font-size="9.75" fill="#1a1a1a">****p=2.64e−06</text>
<path d="M159.6 414.7V408.3H226.5V414.7" fill="none" stroke="#222" stroke-width="0.8"/>
<text x="173.8" y="405" font-size="9.75" fill="#1a1a1a">p=0.609</text>
<text x="70.9" y="559" font-size="12.8">S<tspan font-size="7.85" dy="3.8">166-180</tspan></text>
<text x="140.3" y="559" font-size="12.8">S<tspan font-size="7.85" dy="3.8">751-765</tspan></text>
<text x="209.4" y="559" font-size="12.8">S<tspan font-size="7.85" dy="3.8">866-880</tspan></text>
<text x="277.8" y="396.3" font-size="20.7">h</text>
<line x1="345.1" y1="384.5" x2="345.1" y2="526" stroke="#ebebeb" stroke-width="0.8"/>
<line x1="548" y1="384.5" x2="548" y2="526" stroke="#ebebeb" stroke-width="0.8"/>
<rect x="322.6" y="477.5" width="14" height="42.5" fill="#fb8072" stroke="#000" stroke-width="1.3"/>
<line x1="329.6" y1="462.8" x2="329.6" y2="491.4" stroke="#000" stroke-width="1.2"/>
<line x1="327.4" y1="462.8" x2="331.8" y2="462.8" stroke="#000" stroke-width="1.2"/>
<line x1="327.4" y1="491.4" x2="331.8" y2="491.4" stroke="#000" stroke-width="1.2"/>
<circle cx="330.3" cy="448.5" r="1.35" fill="#000"/>
<circle cx="329.8" cy="506.1" r="1.35" fill="#000"/>
<rect x="338.2" y="437.5" width="14" height="82.5" fill="#fb8072" stroke="#000" stroke-width="1.3"/>
<line x1="345.2" y1="427.6" x2="345.2" y2="447.4" stroke="#000" stroke-width="1.2"/>
<line x1="343" y1="427.6" x2="347.4" y2="427.6" stroke="#000" stroke-width="1.2"/>
<line x1="343" y1="447.4" x2="347.4" y2="447.4" stroke="#000" stroke-width="1.2"/>
<circle cx="344.8" cy="418.8" r="1.35" fill="#000"/>
<circle cx="345.2" cy="456.2" r="1.35" fill="#000"/>
<line x1="358.3" y1="520" x2="363.3" y2="520" stroke="#000" stroke-width="1.3"/>
<circle cx="360.7" cy="520" r="1.35" fill="#000"/>
<rect x="369.4" y="506.4" width="14" height="13.6" fill="#fb8072" stroke="#000" stroke-width="1.3"/>
<line x1="376.4" y1="502.2" x2="376.4" y2="510.8" stroke="#000" stroke-width="1.2"/>
<line x1="374.2" y1="502.2" x2="378.6" y2="502.2" stroke="#000" stroke-width="1.2"/>
<line x1="374.2" y1="510.8" x2="378.6" y2="510.8" stroke="#000" stroke-width="1.2"/>
<circle cx="377.1" cy="498" r="1.35" fill="#000"/>
<circle cx="376" cy="515.4" r="1.35" fill="#000"/>
<rect x="385" y="444.5" width="14" height="75.5" fill="#fb8072" stroke="#000" stroke-width="1.3"/>
<line x1="392" y1="440.8" x2="392" y2="448.3" stroke="#000" stroke-width="1.2"/>
<line x1="389.8" y1="440.8" x2="394.2" y2="440.8" stroke="#000" stroke-width="1.2"/>
<line x1="389.8" y1="448.3" x2="394.2" y2="448.3" stroke="#000" stroke-width="1.2"/>
<circle cx="391.6" cy="437.5" r="1.35" fill="#000"/>
<circle cx="392.2" cy="450.5" r="1.35" fill="#000"/>
<rect x="400.6" y="509.2" width="14" height="10.8" fill="#fb8072" stroke="#000" stroke-width="1.3"/>
<line x1="407.6" y1="503.9" x2="407.6" y2="515.2" stroke="#000" stroke-width="1.2"/>
<line x1="405.4" y1="503.9" x2="409.8" y2="503.9" stroke="#000" stroke-width="1.2"/>
<line x1="405.4" y1="515.2" x2="409.8" y2="515.2" stroke="#000" stroke-width="1.2"/>
<circle cx="406.9" cy="498.9" r="1.35" fill="#000"/>
<circle cx="407.7" cy="520" r="1.35" fill="#000"/>
<rect x="416.1" y="516.5" width="14" height="3.5" fill="#fb8072" stroke="#000" stroke-width="1.3"/>
<line x1="423.1" y1="513.4" x2="423.1" y2="518.9" stroke="#000" stroke-width="1.2"/>
<line x1="420.9" y1="513.4" x2="425.3" y2="513.4" stroke="#000" stroke-width="1.2"/>
<line x1="420.9" y1="518.9" x2="425.3" y2="518.9" stroke="#000" stroke-width="1.2"/>
<circle cx="423.9" cy="513.2" r="1.35" fill="#000"/>
<circle cx="423.2" cy="515.6" r="1.35" fill="#000"/>
<circle cx="422.8" cy="520" r="1.35" fill="#000"/>
<rect x="431.7" y="481.5" width="14" height="38.5" fill="#fb8072" stroke="#000" stroke-width="1.3"/>
<line x1="438.7" y1="476" x2="438.7" y2="486.8" stroke="#000" stroke-width="1.2"/>
<line x1="436.5" y1="476" x2="440.9" y2="476" stroke="#000" stroke-width="1.2"/>
<line x1="436.5" y1="486.8" x2="440.9" y2="486.8" stroke="#000" stroke-width="1.2"/>
<circle cx="438.7" cy="470.3" r="1.35" fill="#000"/>
<circle cx="438.8" cy="490.3" r="1.35" fill="#000"/>
<rect x="447.3" y="497.3" width="14" height="22.7" fill="#fb8072" stroke="#000" stroke-width="1.3"/>
<line x1="454.3" y1="493.2" x2="454.3" y2="501.1" stroke="#000" stroke-width="1.2"/>
<line x1="452.1" y1="493.2" x2="456.5" y2="493.2" stroke="#000" stroke-width="1.2"/>
<line x1="452.1" y1="501.1" x2="456.5" y2="501.1" stroke="#000" stroke-width="1.2"/>
<circle cx="453.8" cy="489.2" r="1.35" fill="#000"/>
<circle cx="453.7" cy="503.3" r="1.35" fill="#000"/>
<rect x="462.9" y="455.5" width="14" height="64.5" fill="#fb8072" stroke="#000" stroke-width="1.3"/>
<line x1="469.9" y1="448.9" x2="469.9" y2="461.9" stroke="#000" stroke-width="1.2"/>
<line x1="467.7" y1="448.9" x2="472.1" y2="448.9" stroke="#000" stroke-width="1.2"/>
<line x1="467.7" y1="461.9" x2="472.1" y2="461.9" stroke="#000" stroke-width="1.2"/>
<circle cx="469.3" cy="441.9" r="1.35" fill="#000"/>
<circle cx="469.6" cy="462.8" r="1.35" fill="#000"/>
<rect x="478.5" y="465.7" width="14" height="54.3" fill="#fb8072" stroke="#000" stroke-width="1.3"/>
<line x1="485.5" y1="463.9" x2="485.5" y2="467.2" stroke="#000" stroke-width="1.2"/>
<line x1="483.3" y1="463.9" x2="487.7" y2="463.9" stroke="#000" stroke-width="1.2"/>
<line x1="483.3" y1="467.2" x2="487.7" y2="467.2" stroke="#000" stroke-width="1.2"/>
<circle cx="485.4" cy="462.4" r="1.35" fill="#000"/>
<circle cx="485.2" cy="464.6" r="1.35" fill="#000"/>
<circle cx="485.1" cy="465.9" r="1.35" fill="#000"/>
<circle cx="484.8" cy="467.2" r="1.35" fill="#000"/>
<line x1="498.6" y1="520" x2="503.6" y2="520" stroke="#000" stroke-width="1.3"/>
<circle cx="501.2" cy="520" r="1.35" fill="#000"/>
<rect x="509.7" y="449.8" width="14" height="70.2" fill="#80b1d3" stroke="#000" stroke-width="1.3"/>
<line x1="516.7" y1="448.7" x2="516.7" y2="450.5" stroke="#000" stroke-width="1.2"/>
<line x1="514.5" y1="448.7" x2="518.9" y2="448.7" stroke="#000" stroke-width="1.2"/>
<line x1="514.5" y1="450.5" x2="518.9" y2="450.5" stroke="#000" stroke-width="1.2"/>
<circle cx="517.2" cy="448.3" r="1.35" fill="#000"/>
<circle cx="516.9" cy="449.6" r="1.35" fill="#000"/>
<circle cx="516.8" cy="450.7" r="1.35" fill="#000"/>
<rect x="525.3" y="518.2" width="14" height="1.8" fill="#80b1d3" stroke="#000" stroke-width="1.3"/>
<line x1="532.3" y1="517.8" x2="532.3" y2="518.7" stroke="#000" stroke-width="1.2"/>
<line x1="530.1" y1="517.8" x2="534.5" y2="517.8" stroke="#000" stroke-width="1.2"/>
<line x1="530.1" y1="518.7" x2="534.5" y2="518.7" stroke="#000" stroke-width="1.2"/>
<circle cx="532.5" cy="517.8" r="1.35" fill="#000"/>
<rect x="540.9" y="394.4" width="14" height="125.6" fill="#8dd3c7" stroke="#000" stroke-width="1.3"/>
<line x1="547.9" y1="392" x2="547.9" y2="395.9" stroke="#000" stroke-width="1.2"/>
<line x1="545.7" y1="392" x2="550.1" y2="392" stroke="#000" stroke-width="1.2"/>
<line x1="545.7" y1="395.9" x2="550.1" y2="395.9" stroke="#000" stroke-width="1.2"/>
<circle cx="547.4" cy="390.2" r="1.35" fill="#000"/>
<circle cx="548.2" cy="392.4" r="1.35" fill="#000"/>
<circle cx="547.8" cy="394.6" r="1.35" fill="#000"/>
<circle cx="547.9" cy="396.4" r="1.35" fill="#000"/>
<line x1="561" y1="520" x2="566" y2="520" stroke="#000" stroke-width="1.3"/>
<circle cx="563.6" cy="520" r="1.35" fill="#000"/>
<line x1="576.5" y1="520" x2="581.5" y2="520" stroke="#000" stroke-width="1.3"/>
<circle cx="579" cy="520" r="1.35" fill="#000"/>
<line x1="592.1" y1="520" x2="597.1" y2="520" stroke="#000" stroke-width="1.3"/>
<circle cx="594.3" cy="520" r="1.35" fill="#000"/>
<rect x="603.2" y="488.1" width="14" height="31.9" fill="#e36ef0" stroke="#000" stroke-width="1.3"/>
<line x1="610.2" y1="482.8" x2="610.2" y2="493.6" stroke="#000" stroke-width="1.2"/>
<line x1="608" y1="482.8" x2="612.4" y2="482.8" stroke="#000" stroke-width="1.2"/>
<line x1="608" y1="493.6" x2="612.4" y2="493.6" stroke="#000" stroke-width="1.2"/>
<circle cx="609.8" cy="477.5" r="1.35" fill="#000"/>
<circle cx="609.8" cy="498" r="1.35" fill="#000"/>
<rect x="618.8" y="514.5" width="14" height="5.5" fill="#bebada" stroke="#000" stroke-width="1.3"/>
<line x1="625.8" y1="512.3" x2="625.8" y2="516" stroke="#000" stroke-width="1.2"/>
<line x1="623.6" y1="512.3" x2="628" y2="512.3" stroke="#000" stroke-width="1.2"/>
<line x1="623.6" y1="516" x2="628" y2="516" stroke="#000" stroke-width="1.2"/>
<circle cx="625.8" cy="510.8" r="1.35" fill="#000"/>
<circle cx="625.6" cy="513" r="1.35" fill="#000"/>
<circle cx="625.9" cy="514.7" r="1.35" fill="#000"/>
<circle cx="625" cy="516" r="1.35" fill="#000"/>
<circle cx="625.6" cy="517.1" r="1.35" fill="#000"/>
<rect x="634.4" y="507" width="14" height="13" fill="#bebada" stroke="#000" stroke-width="1.3"/>
<line x1="641.4" y1="502.8" x2="641.4" y2="509.7" stroke="#000" stroke-width="1.2"/>
<line x1="639.2" y1="502.8" x2="643.6" y2="502.8" stroke="#000" stroke-width="1.2"/>
<line x1="639.2" y1="509.7" x2="643.6" y2="509.7" stroke="#000" stroke-width="1.2"/>
<circle cx="642" cy="503.1" r="1.35" fill="#000"/>
<circle cx="641" cy="506.8" r="1.35" fill="#000"/>
<circle cx="641.5" cy="508.3" r="1.35" fill="#000"/>
<circle cx="641.4" cy="511.9" r="1.35" fill="#000"/>
<rect x="650" y="477.3" width="14" height="42.7" fill="#bebada" stroke="#000" stroke-width="1.3"/>
<circle cx="656.6" cy="477.1" r="1.35" fill="#000"/>
<rect x="665.6" y="490.3" width="14" height="29.7" fill="#bebada" stroke="#000" stroke-width="1.3"/>
<circle cx="673.4" cy="490.3" r="1.35" fill="#000"/>
<line x1="320" y1="498.2" x2="685" y2="498.2" stroke="#000" stroke-width="1.3" stroke-dasharray="4.2 3.1"/>
<line x1="319.6" y1="384.2" x2="319.6" y2="527.4" stroke="#000" stroke-width="1.5"/>
<line x1="316.8" y1="520" x2="319.6" y2="520" stroke="#222" stroke-width="1.1"/>
<text x="315.4" y="524.6" font-size="10.3" text-anchor="end" fill="#4d4d4d">0</text>
<line x1="316.8" y1="476" x2="319.6" y2="476" stroke="#222" stroke-width="1.1"/>
<text x="315.4" y="480.6" font-size="10.3" text-anchor="end" fill="#4d4d4d">20</text>
<line x1="316.8" y1="432" x2="319.6" y2="432" stroke="#222" stroke-width="1.1"/>
<text x="315.4" y="436.6" font-size="10.3" text-anchor="end" fill="#4d4d4d">40</text>
<line x1="316.8" y1="388" x2="319.6" y2="388" stroke="#222" stroke-width="1.1"/>
<text x="315.4" y="392.6" font-size="10.3" text-anchor="end" fill="#4d4d4d">60</text>
<line x1="319.4" y1="526.6" x2="685" y2="526.6" stroke="#000" stroke-width="1.5"/>
<line x1="329.6" y1="526.6" x2="329.6" y2="529.4" stroke="#222" stroke-width="1.1"/>
<line x1="345.2" y1="526.6" x2="345.2" y2="529.4" stroke="#222" stroke-width="1.1"/>
<line x1="360.8" y1="526.6" x2="360.8" y2="529.4" stroke="#222" stroke-width="1.1"/>
<line x1="376.4" y1="526.6" x2="376.4" y2="529.4" stroke="#222" stroke-width="1.1"/>
<line x1="392" y1="526.6" x2="392" y2="529.4" stroke="#222" stroke-width="1.1"/>
<line x1="407.6" y1="526.6" x2="407.6" y2="529.4" stroke="#222" stroke-width="1.1"/>
<line x1="423.1" y1="526.6" x2="423.1" y2="529.4" stroke="#222" stroke-width="1.1"/>
<line x1="438.7" y1="526.6" x2="438.7" y2="529.4" stroke="#222" stroke-width="1.1"/>
<line x1="454.3" y1="526.6" x2="454.3" y2="529.4" stroke="#222" stroke-width="1.1"/>
<line x1="469.9" y1="526.6" x2="469.9" y2="529.4" stroke="#222" stroke-width="1.1"/>
<line x1="485.5" y1="526.6" x2="485.5" y2="529.4" stroke="#222" stroke-width="1.1"/>
<line x1="501.1" y1="526.6" x2="501.1" y2="529.4" stroke="#222" stroke-width="1.1"/>
<line x1="516.7" y1="526.6" x2="516.7" y2="529.4" stroke="#222" stroke-width="1.1"/>
<line x1="532.3" y1="526.6" x2="532.3" y2="529.4" stroke="#222" stroke-width="1.1"/>
<line x1="547.9" y1="526.6" x2="547.9" y2="529.4" stroke="#222" stroke-width="1.1"/>
<line x1="563.5" y1="526.6" x2="563.5" y2="529.4" stroke="#222" stroke-width="1.1"/>
<line x1="579" y1="526.6" x2="579" y2="529.4" stroke="#222" stroke-width="1.1"/>
<line x1="594.6" y1="526.6" x2="594.6" y2="529.4" stroke="#222" stroke-width="1.1"/>
<line x1="610.2" y1="526.6" x2="610.2" y2="529.4" stroke="#222" stroke-width="1.1"/>
<line x1="625.8" y1="526.6" x2="625.8" y2="529.4" stroke="#222" stroke-width="1.1"/>
<line x1="641.4" y1="526.6" x2="641.4" y2="529.4" stroke="#222" stroke-width="1.1"/>
<line x1="657" y1="526.6" x2="657" y2="529.4" stroke="#222" stroke-width="1.1"/>
<line x1="672.6" y1="526.6" x2="672.6" y2="529.4" stroke="#222" stroke-width="1.1"/>
<text x="296" y="453.5" font-size="13.1" text-anchor="middle" transform="rotate(-90 296 453.5)">% Cytotoxicity</text>
<text x="337.6" y="535" font-size="10.2" fill="#4d4d4d" text-anchor="end" transform="rotate(-35 337.6 535)">clone1</text>
<text x="353.2" y="535" font-size="10.2" fill="#4d4d4d" text-anchor="end" transform="rotate(-35 353.2 535)">clone2</text>
<text x="368.8" y="535" font-size="10.2" fill="#4d4d4d" text-anchor="end" transform="rotate(-35 368.8 535)">clone3</text>
<text x="384.4" y="535" font-size="10.2" fill="#4d4d4d" text-anchor="end" transform="rotate(-35 384.4 535)">clone4</text>
<text x="400.0" y="535" font-size="10.2" fill="#4d4d4d" text-anchor="end" transform="rotate(-35 400.0 535)">clone5</text>
<text x="415.6" y="535" font-size="10.2" fill="#4d4d4d" text-anchor="end" transform="rotate(-35 415.6 535)">clone6</text>
<text x="431.1" y="535" font-size="10.2" fill="#4d4d4d" text-anchor="end" transform="rotate(-35 431.1 535)">clone7</text>
<text x="446.7" y="535" font-size="10.2" fill="#4d4d4d" text-anchor="end" transform="rotate(-35 446.7 535)">clone8</text>
<text x="462.3" y="535" font-size="10.2" fill="#4d4d4d" text-anchor="end" transform="rotate(-35 462.3 535)">clone9</text>
<text x="477.9" y="535" font-size="10.2" fill="#4d4d4d" text-anchor="end" transform="rotate(-35 477.9 535)">clone10</text>
<text x="493.5" y="535" font-size="10.2" fill="#4d4d4d" text-anchor="end" transform="rotate(-35 493.5 535)">clone11</text>
<text x="509.1" y="535" font-size="10.2" fill="#4d4d4d" text-anchor="end" transform="rotate(-35 509.1 535)">clone12</text>
<text x="524.7" y="535" font-size="10.2" fill="#4d4d4d" text-anchor="end" transform="rotate(-35 524.7 535)">clone13</text>
<text x="540.3" y="535" font-size="10.2" fill="#4d4d4d" text-anchor="end" transform="rotate(-35 540.3 535)">clone14</text>
<text x="555.9" y="535" font-size="10.2" fill="#4d4d4d" text-anchor="end" transform="rotate(-35 555.9 535)">clone15</text>
<text x="571.5" y="535" font-size="10.2" fill="#4d4d4d" text-anchor="end" transform="rotate(-35 571.5 535)">clone16</text>
<text x="587.0" y="535" font-size="10.2" fill="#4d4d4d" text-anchor="end" transform="rotate(-35 587.0 535)">clone17</text>
<text x="602.6" y="535" font-size="10.2" fill="#4d4d4d" text-anchor="end" transform="rotate(-35 602.6 535)">clone18</text>
<text x="618.2" y="535" font-size="10.2" fill="#4d4d4d" text-anchor="end" transform="rotate(-35 618.2 535)">clone19</text>
<text x="633.8" y="535" font-size="10.2" fill="#4d4d4d" text-anchor="end" transform="rotate(-35 633.8 535)">clone20</text>
<text x="649.4" y="535" font-size="10.2" fill="#4d4d4d" text-anchor="end" transform="rotate(-35 649.4 535)">clone21</text>
<text x="665.0" y="535" font-size="10.2" fill="#4d4d4d" text-anchor="end" transform="rotate(-35 665.0 535)">clone22</text>
<text x="680.6" y="535" font-size="10.2" fill="#4d4d4d" text-anchor="end" transform="rotate(-35 680.6 535)">clone23</text>
<rect x="364.6" y="556.8" width="11.5" height="11.5" fill="#8dd3c7" stroke="#000" stroke-width="1.0"/>
<text x="380.2" y="567.1" font-size="12.6">S<tspan font-size="7.1" dy="3.4">166-180</tspan><tspan font-size="11.9" dy="-3.4"> Clonotype 1</tspan></text>
<rect x="364.6" y="571.6" width="11.5" height="11.5" fill="#bebada" stroke="#000" stroke-width="1.0"/>
<text x="380.2" y="581.9" font-size="12.6">S<tspan font-size="7.1" dy="3.4">751-765</tspan><tspan font-size="11.9" dy="-3.4"> Clonotype 1</tspan></text>
<rect x="364.6" y="587.8" width="11.5" height="11.5" fill="#fb8072" stroke="#000" stroke-width="1.0"/>
<text x="380.2" y="597" font-size="12.6">S<tspan font-size="7.1" dy="3.4">866-880</tspan><tspan font-size="11.9" dy="-3.4"> Clonotype 1</tspan></text>
<rect x="501.6" y="556.8" width="11.5" height="11.5" fill="#e36ef0" stroke="#000" stroke-width="1.0"/>
<text x="519.0" y="567.1" font-size="12.6">S<tspan font-size="7.1" dy="3.4">166-180</tspan><tspan font-size="11.9" dy="-3.4"> Clonotype 2</tspan></text>
<rect x="502.6" y="588.8" width="11.5" height="11.5" fill="#80b1d3" stroke="#000" stroke-width="1.0"/>
<text x="519.0" y="597" font-size="12.6">S<tspan font-size="7.1" dy="3.4">866-880</tspan><tspan font-size="11.9" dy="-3.4"> Clonotype 2</tspan></text>
<text x="2.9" y="581.6" font-size="20.6">i</text>
<rect x="50.9" y="578.7" width="120.3" height="16.9" fill="#cccccc"/>
<text x="111" y="592.4" font-size="12.8" text-anchor="middle" fill="#1a1a1a">GZMA</text>
<rect x="175.9" y="578.7" width="121.5" height="16.9" fill="#cccccc"/>
<text x="236.6" y="592.4" font-size="12.8" text-anchor="middle" fill="#1a1a1a">GZMB</text>
<line x1="50.1" y1="595.6" x2="50.1" y2="705.4" stroke="#000" stroke-width="1.5"/>
<line x1="47.3" y1="699.8" x2="50.1" y2="699.8" stroke="#222" stroke-width="1.1"/>
<text x="45.9" y="704.4" font-size="10.3" text-anchor="end" fill="#1a1a1a">7.5</text>
<line x1="47.3" y1="671.9" x2="50.1" y2="671.9" stroke="#222" stroke-width="1.1"/>
<text x="45.9" y="676.5" font-size="10.3" text-anchor="end" fill="#1a1a1a">10.0</text>
<line x1="47.3" y1="644.1" x2="50.1" y2="644.1" stroke="#222" stroke-width="1.1"/>
<text x="45.9" y="648.7" font-size="10.3" text-anchor="end" fill="#1a1a1a">12.5</text>
<line x1="47.3" y1="616.2" x2="50.1" y2="616.2" stroke="#222" stroke-width="1.1"/>
<text x="45.9" y="620.8" font-size="10.3" text-anchor="end" fill="#1a1a1a">15.0</text>
<line x1="50.4" y1="704.5" x2="171.5" y2="704.5" stroke="#000" stroke-width="1.3"/>
<line x1="175.2" y1="704.5" x2="297.9" y2="704.5" stroke="#000" stroke-width="1.3"/>
<line x1="83.3" y1="704.6" x2="83.3" y2="707.2" stroke="#333" stroke-width="0.8"/>
<line x1="138.2" y1="704.6" x2="138.2" y2="707.2" stroke="#333" stroke-width="0.8"/>
<line x1="209.1" y1="704.6" x2="209.1" y2="707.2" stroke="#333" stroke-width="0.8"/>
<line x1="264.5" y1="704.6" x2="264.5" y2="707.2" stroke="#333" stroke-width="0.8"/>
<line x1="83.3" y1="616.2" x2="83.3" y2="619.5" stroke="#333" stroke-width="0.9"/>
<rect x="62.4" y="619.5" width="41.7" height="11.1" fill="#ec2227" stroke="#333" stroke-width="1.0"/>
<line x1="62.4" y1="627.9" x2="104.2" y2="627.9" stroke="#333" stroke-width="2.0"/>
<circle cx="83.1" cy="616.2" r="1.75" fill="#000"/>
<circle cx="83.5" cy="617.9" r="1.75" fill="#000"/>
<circle cx="83" cy="620.7" r="1.75" fill="#000"/>
<circle cx="83" cy="626.2" r="1.75" fill="#000"/>
<circle cx="83.6" cy="629.6" r="1.75" fill="#000"/>
<circle cx="83.3" cy="632.4" r="1.75" fill="#000"/>
<rect x="117.4" y="642.4" width="41.9" height="7.2" fill="#3a53a4" stroke="#333" stroke-width="1.0"/>
<line x1="117.4" y1="646.3" x2="159.2" y2="646.3" stroke="#333" stroke-width="2.0"/>
<circle cx="137.9" cy="641.3" r="1.75" fill="#000"/>
<circle cx="138.2" cy="643.5" r="1.75" fill="#000"/>
<circle cx="138.3" cy="645.2" r="1.75" fill="#000"/>
<circle cx="138.5" cy="647.4" r="1.75" fill="#000"/>
<circle cx="138" cy="649.6" r="1.75" fill="#000"/>
<circle cx="138.1" cy="651.3" r="1.75" fill="#000"/>
<line x1="209.1" y1="644.1" x2="209.1" y2="645.2" stroke="#333" stroke-width="0.9"/>
<rect x="188.5" y="645.2" width="41.1" height="32.3" fill="#ec2227" stroke="#333" stroke-width="1.0"/>
<line x1="188.5" y1="670.8" x2="229.7" y2="670.8" stroke="#333" stroke-width="2.0"/>
<circle cx="209.5" cy="644.1" r="1.75" fill="#000"/>
<circle cx="209.3" cy="668.6" r="1.75" fill="#000"/>
<circle cx="208.8" cy="671.3" r="1.75" fill="#000"/>
<circle cx="209" cy="678" r="1.75" fill="#000"/>
<rect x="243.6" y="649.1" width="41.9" height="51.2" fill="#3a53a4" stroke="#333" stroke-width="1.0"/>
<line x1="243.6" y1="675.2" x2="285.4" y2="675.2" stroke="#333" stroke-width="2.0"/>
<circle cx="264.4" cy="647.4" r="1.75" fill="#000"/>
<circle cx="264.6" cy="649.6" r="1.75" fill="#000"/>
<circle cx="264.6" cy="700.3" r="1.75" fill="#000"/>
<path d="M83.6 615.5V613.5H138.2V617.7" fill="none" stroke="#222" stroke-width="0.8"/>
<text x="109.8" y="608.5" font-size="9.75" text-anchor="middle" fill="#1a1a1a">***p=4e−04</text>
<path d="M209.1 644.3V639.1H264.4V647" fill="none" stroke="#222" stroke-width="0.8"/>
<text x="235.7" y="636.6" font-size="9.75" text-anchor="middle" fill="#1a1a1a">p=0.328</text>
<text x="83.3" y="718.4" font-size="11.6" text-anchor="middle" fill="#1a1a1a">CTL</text>
<text x="140.4" y="718.4" font-size="11.6" text-anchor="middle" fill="#1a1a1a">Non-CTL</text>
<text x="209.1" y="718.4" font-size="11.6" text-anchor="middle" fill="#1a1a1a">CTL</text>
<text x="266.3" y="718.4" font-size="11.6" text-anchor="middle" fill="#1a1a1a">Non-CTL</text>
<text x="10.2" y="649.5" font-size="12.8" text-anchor="middle" transform="rotate(-90 10.2 649.5)">RNA expression</text>
<text x="22.4" y="649.5" font-size="12.8" text-anchor="middle" transform="rotate(-90 22.4 649.5)">(normalized)</text>
<text x="5.8" y="740.7" font-size="18.5">j</text>
<rect x="44.2" y="734.1" width="124.7" height="17.3" fill="#cccccc"/>
<text x="106.6" y="748.2" font-size="12.8" text-anchor="middle" fill="#1a1a1a">GZMA</text>
<rect x="174" y="734.1" width="125" height="17.3" fill="#cccccc"/>
<text x="236.5" y="748.2" font-size="12.8" text-anchor="middle" fill="#1a1a1a">GZMB</text>
<line x1="43.9" y1="751.4" x2="43.9" y2="860.8" stroke="#000" stroke-width="1.5"/>
<line x1="41.1" y1="839.6" x2="43.9" y2="839.6" stroke="#222" stroke-width="1.1"/>
<text x="39.7" y="844.2" font-size="10.3" text-anchor="end" fill="#1a1a1a">0</text>
<line x1="41.1" y1="811.3" x2="43.9" y2="811.3" stroke="#222" stroke-width="1.1"/>
<text x="39.7" y="815.9" font-size="10.3" text-anchor="end" fill="#1a1a1a">4</text>
<line x1="41.1" y1="783" x2="43.9" y2="783" stroke="#222" stroke-width="1.1"/>
<text x="39.7" y="787.6" font-size="10.3" text-anchor="end" fill="#1a1a1a">8</text>
<line x1="41.1" y1="754.7" x2="43.9" y2="754.7" stroke="#222" stroke-width="1.1"/>
<text x="39.7" y="759.3" font-size="10.3" text-anchor="end" fill="#1a1a1a">12</text>
<line x1="44.2" y1="860.5" x2="168.9" y2="860.5" stroke="#000" stroke-width="1.3"/>
<line x1="172.8" y1="860.5" x2="299.5" y2="860.5" stroke="#000" stroke-width="1.3"/>
<line x1="78" y1="860" x2="78" y2="862.6" stroke="#333" stroke-width="0.8"/>
<line x1="135" y1="860" x2="135" y2="862.6" stroke="#333" stroke-width="0.8"/>
<line x1="208" y1="860" x2="208" y2="862.6" stroke="#333" stroke-width="0.8"/>
<line x1="264.4" y1="860" x2="264.4" y2="862.6" stroke="#333" stroke-width="0.8"/>
<line x1="78" y1="775.2" x2="78" y2="781.8" stroke="#333" stroke-width="0.9"/>
<rect x="56.2" y="781.8" width="43.6" height="5.6" fill="#ec2227" stroke="#333" stroke-width="1.0"/>
<line x1="56.2" y1="784.4" x2="99.8" y2="784.4" stroke="#333" stroke-width="2.9"/>
<circle cx="78.3" cy="775.2" r="1.75" fill="#000"/>
<circle cx="78.3" cy="784.4" r="1.75" fill="#000"/>
<circle cx="78" cy="792.9" r="1.75" fill="#000"/>
<circle cx="78.2" cy="807.1" r="1.75" fill="#000"/>
<rect x="113.5" y="788.7" width="43.1" height="12.7" fill="#3a53a4" stroke="#333" stroke-width="1.0"/>
<line x1="113.5" y1="789.4" x2="156.6" y2="789.4" stroke="#333" stroke-width="2.4"/>
<circle cx="135.2" cy="785.8" r="1.75" fill="#000"/>
<circle cx="135.2" cy="789.4" r="1.75" fill="#000"/>
<circle cx="135" cy="805.6" r="1.75" fill="#000"/>
<circle cx="135.2" cy="808.5" r="1.75" fill="#000"/>
<line x1="207.9" y1="800" x2="207.9" y2="804.6" stroke="#333" stroke-width="0.9"/>
<line x1="207.9" y1="819.8" x2="207.9" y2="836.8" stroke="#333" stroke-width="0.9"/>
<rect x="186.3" y="804.6" width="43.2" height="15.2" fill="#ec2227" stroke="#333" stroke-width="1.0"/>
<line x1="186.3" y1="809.5" x2="229.5" y2="809.5" stroke="#333" stroke-width="2.4"/>
<circle cx="208.1" cy="799.3" r="1.75" fill="#000"/>
<circle cx="208.2" cy="802.1" r="1.75" fill="#000"/>
<circle cx="207.6" cy="806.3" r="1.75" fill="#000"/>
<circle cx="208.2" cy="812.7" r="1.75" fill="#000"/>
<circle cx="207.5" cy="814.1" r="1.75" fill="#000"/>
<circle cx="208.1" cy="836.8" r="1.75" fill="#000"/>
<circle cx="208" cy="853.8" r="1.75" fill="#000"/>
<circle cx="207.9" cy="856.6" r="1.75" fill="#000"/>
<rect x="243.1" y="824.4" width="43.2" height="15.2" fill="#3a53a4" stroke="#333" stroke-width="1.0"/>
<line x1="243.1" y1="828.3" x2="286.3" y2="828.3" stroke="#333" stroke-width="2.4"/>
<circle cx="265.1" cy="819.8" r="1.75" fill="#000"/>
<circle cx="264.8" cy="825.5" r="1.75" fill="#000"/>
<circle cx="264.6" cy="829" r="1.75" fill="#000"/>
<circle cx="264.9" cy="843.1" r="1.75" fill="#000"/>
<path d="M78 774V768.3H135V773.1" fill="none" stroke="#222" stroke-width="0.8"/>
<text x="105.5" y="765.9" font-size="9.75" text-anchor="middle" fill="#1a1a1a">*p=0.032</text>
<path d="M207.9 799V793.2H264.4V797.9" fill="none" stroke="#222" stroke-width="0.8"/>
<text x="235.7" y="789.9" font-size="9.75" text-anchor="middle" fill="#1a1a1a">p=0.067</text>
<text x="78" y="873.3" font-size="11.6" text-anchor="middle" fill="#1a1a1a">CTL</text>
<text x="137" y="873.3" font-size="11.6" text-anchor="middle" fill="#1a1a1a">Non-CTL</text>
<text x="208" y="873.3" font-size="11.6" text-anchor="middle" fill="#1a1a1a">CTL</text>
<text x="266.2" y="873.3" font-size="11.6" text-anchor="middle" fill="#1a1a1a">Non-CTL</text>
<text x="13.6" y="803.7" font-size="13.2" text-anchor="middle" transform="rotate(-90 13.6 803.7)">Protein expression</text>
<text x="26.4" y="806" font-size="13.0" text-anchor="middle" transform="rotate(-90 26.4 806)">(normalized)</text>
<text x="319.9" y="631.5" font-size="21.2">k</text>
<line x1="352.3" y1="627" x2="352.3" y2="790.5" stroke="#000" stroke-width="1.5"/>
<line x1="349.5" y1="784.3" x2="352.3" y2="784.3" stroke="#222" stroke-width="1.1"/>
<text x="348.1" y="788.9" font-size="10.3" text-anchor="end" fill="#1a1a1a">0</text>
<line x1="349.5" y1="748.4" x2="352.3" y2="748.4" stroke="#222" stroke-width="1.1"/>
<text x="348.1" y="753" font-size="10.3" text-anchor="end" fill="#1a1a1a">25</text>
<line x1="349.5" y1="712.6" x2="352.3" y2="712.6" stroke="#222" stroke-width="1.1"/>
<text x="348.1" y="717.2" font-size="10.3" text-anchor="end" fill="#1a1a1a">50</text>
<line x1="349.5" y1="676.8" x2="352.3" y2="676.8" stroke="#222" stroke-width="1.1"/>
<text x="348.1" y="681.4" font-size="10.3" text-anchor="end" fill="#1a1a1a">75</text>
<line x1="349.5" y1="640.9" x2="352.3" y2="640.9" stroke="#222" stroke-width="1.1"/>
<text x="348.1" y="645.5" font-size="10.3" text-anchor="end" fill="#1a1a1a">100</text>
<line x1="352.1" y1="789.8" x2="556" y2="789.8" stroke="#000" stroke-width="1.5"/>
<line x1="361.3" y1="789.8" x2="361.3" y2="792.6" stroke="#222" stroke-width="1.1"/>
<line x1="421.3" y1="789.8" x2="421.3" y2="792.6" stroke="#222" stroke-width="1.1"/>
<line x1="481.3" y1="789.8" x2="481.3" y2="792.6" stroke="#222" stroke-width="1.1"/>
<line x1="541.3" y1="789.8" x2="541.3" y2="792.6" stroke="#222" stroke-width="1.1"/>
<text x="361.3" y="802.5" font-size="10.3" text-anchor="middle" fill="#1a1a1a">0</text>
<text x="421.3" y="802.5" font-size="10.3" text-anchor="middle" fill="#1a1a1a">20</text>
<text x="481.3" y="802.5" font-size="10.3" text-anchor="middle" fill="#1a1a1a">40</text>
<text x="541.3" y="802.5" font-size="10.3" text-anchor="middle" fill="#1a1a1a">60</text>
<text x="453.9" y="816.1" font-size="13" text-anchor="middle">Cytotoxicity (%)</text>
<text x="331.2" y="713.7" font-size="13.25" text-anchor="middle" transform="rotate(-90 331.2 713.7)">Viral suppression (%)</text>
<text x="434.6" y="635" font-size="10.6">Spearman's ρ = 0.390</text>
<text x="434.6" y="647.8" font-size="10.6">p = 7.05e−05</text>
<path d="M361.3 767.1L548.3 666.4" fill="none" stroke="#4a6fc0" stroke-width="1.4"/>
<circle cx="361" cy="663.1" r="1.9" fill="#000"/>
<circle cx="361" cy="689.7" r="1.9" fill="#000"/>
<circle cx="365.3" cy="676.2" r="1.9" fill="#000"/>
<circle cx="380.4" cy="668.8" r="1.9" fill="#000"/>
<circle cx="376.1" cy="678.6" r="1.9" fill="#000"/>
<circle cx="401.6" cy="672.5" r="1.9" fill="#000"/>
<circle cx="393.2" cy="688.3" r="1.9" fill="#000"/>
<circle cx="399.9" cy="686.3" r="1.9" fill="#000"/>
<circle cx="414.4" cy="682.9" r="1.9" fill="#000"/>
<circle cx="419.7" cy="656.4" r="1.9" fill="#000"/>
<circle cx="419.7" cy="689" r="1.9" fill="#000"/>
<circle cx="435.5" cy="658.4" r="1.9" fill="#000"/>
<circle cx="448.9" cy="653.1" r="1.9" fill="#000"/>
<circle cx="448.6" cy="677.9" r="1.9" fill="#000"/>
<circle cx="464.4" cy="661.1" r="1.9" fill="#000"/>
<circle cx="474.1" cy="689.3" r="1.9" fill="#000"/>
<circle cx="450.3" cy="706.4" r="1.9" fill="#000"/>
<circle cx="454.3" cy="718.5" r="1.9" fill="#000"/>
<circle cx="457" cy="731.6" r="1.9" fill="#000"/>
<circle cx="474.1" cy="720.9" r="1.9" fill="#000"/>
<circle cx="532.9" cy="716.9" r="1.9" fill="#000"/>
<circle cx="543.3" cy="650.4" r="1.9" fill="#000"/>
<circle cx="547.7" cy="672.9" r="1.9" fill="#000"/>
<circle cx="361" cy="717.2" r="1.9" fill="#000"/>
<circle cx="363.7" cy="713.2" r="1.9" fill="#000"/>
<circle cx="361.3" cy="738.7" r="1.9" fill="#000"/>
<circle cx="361.3" cy="742.7" r="1.9" fill="#000"/>
<circle cx="364.3" cy="730.3" r="1.9" fill="#000"/>
<circle cx="374.4" cy="720.2" r="1.9" fill="#000"/>
<circle cx="372.7" cy="750.8" r="1.9" fill="#000"/>
<circle cx="371" cy="753.1" r="1.9" fill="#000"/>
<circle cx="391.5" cy="744.4" r="1.9" fill="#000"/>
<circle cx="399.2" cy="726.9" r="1.9" fill="#000"/>
<circle cx="405.3" cy="758.2" r="1.9" fill="#000"/>
<circle cx="371" cy="769.6" r="1.9" fill="#000"/>
<circle cx="361" cy="747.7" r="1.9" fill="#000"/>
<circle cx="361" cy="752.6" r="1.9" fill="#000"/>
<circle cx="361" cy="757.8" r="1.9" fill="#000"/>
<circle cx="455.7" cy="767.9" r="1.9" fill="#000"/>
<circle cx="361" cy="766" r="1.9" fill="#000"/>
<circle cx="361" cy="771" r="1.9" fill="#000"/>
<circle cx="361" cy="774.6" r="1.9" fill="#000"/>
<circle cx="361" cy="778" r="1.9" fill="#000"/>
<circle cx="368" cy="779.3" r="1.9" fill="#000"/>
<circle cx="361" cy="781" r="1.9" fill="#000"/>
<circle cx="361" cy="783.6" r="1.9" fill="#000"/>
<circle cx="362.5" cy="783.6" r="1.9" fill="#000"/>
<circle cx="364" cy="783.6" r="1.9" fill="#000"/>
<circle cx="366" cy="783.6" r="1.9" fill="#000"/>
<circle cx="368" cy="783.6" r="1.9" fill="#000"/>
<circle cx="369.5" cy="783.6" r="1.9" fill="#000"/>
<circle cx="375.4" cy="783.6" r="1.9" fill="#000"/>
<circle cx="377.5" cy="783.6" r="1.9" fill="#000"/>
<circle cx="379.5" cy="783.6" r="1.9" fill="#000"/>
<circle cx="381.5" cy="783.6" r="1.9" fill="#000"/>
<circle cx="384" cy="783.6" r="1.9" fill="#000"/>
<circle cx="387.2" cy="783.6" r="1.9" fill="#000"/>
<circle cx="391.2" cy="783.6" r="1.9" fill="#000"/>
<circle cx="394" cy="783.6" r="1.9" fill="#000"/>
<circle cx="397" cy="783.6" r="1.9" fill="#000"/>
<circle cx="400.5" cy="783.6" r="1.9" fill="#000"/>
<circle cx="403.3" cy="783.6" r="1.9" fill="#000"/>
<circle cx="408" cy="783.6" r="1.9" fill="#000"/>
<circle cx="410.7" cy="783.6" r="1.9" fill="#000"/>
<circle cx="426.1" cy="783.6" r="1.9" fill="#000"/>
<circle cx="446.6" cy="783.6" r="1.9" fill="#000"/>
<circle cx="452" cy="783.6" r="1.9" fill="#000"/>
<text x="572.2" y="636.4" font-size="21">l</text>
<line x1="603.5" y1="645" x2="603.5" y2="783" stroke="#000" stroke-width="1.5"/>
<line x1="600.7" y1="775.9" x2="603.5" y2="775.9" stroke="#222" stroke-width="1.1"/>
<text x="599.3" y="780.5" font-size="10.3" text-anchor="end" fill="#1a1a1a">0</text>
<line x1="600.7" y1="731.9" x2="603.5" y2="731.9" stroke="#222" stroke-width="1.1"/>
<text x="599.3" y="736.5" font-size="10.3" text-anchor="end" fill="#1a1a1a">50</text>
<line x1="600.7" y1="687.9" x2="603.5" y2="687.9" stroke="#222" stroke-width="1.1"/>
<text x="599.3" y="692.5" font-size="10.3" text-anchor="end" fill="#1a1a1a">100</text>
<line x1="603.3" y1="782.2" x2="679.7" y2="782.2" stroke="#000" stroke-width="1.5"/>
<line x1="624.3" y1="782.2" x2="624.3" y2="785.6" stroke="#222" stroke-width="1.1"/>
<line x1="658.8" y1="782.2" x2="658.8" y2="785.6" stroke="#222" stroke-width="1.1"/>
<line x1="609.1" y1="775.9" x2="639.5" y2="775.9" stroke="#f8dede" stroke-width="0.7"/>
<rect x="643.3" y="717.1" width="31.3" height="58.8" fill="#ec2227"/>
<line x1="624.3" y1="745" x2="624.3" y2="775.9" stroke="#000" stroke-width="1.9"/>
<line x1="620.5" y1="745" x2="628.1" y2="745" stroke="#000" stroke-width="1.9"/>
<line x1="658.8" y1="709.5" x2="658.8" y2="766.4" stroke="#000" stroke-width="1.9"/>
<line x1="655.2" y1="709.5" x2="662.4" y2="709.5" stroke="#000" stroke-width="1.9"/>
<line x1="655.2" y1="766.4" x2="662.4" y2="766.4" stroke="#000" stroke-width="1.9"/>
<circle cx="622.9" cy="703.8" r="1.6" fill="#000"/>
<circle cx="624.3" cy="710.1" r="1.6" fill="#000"/>
<circle cx="625.5" cy="736.6" r="1.6" fill="#000"/>
<circle cx="621.8" cy="742.7" r="1.6" fill="#000"/>
<circle cx="621.5" cy="750.9" r="1.6" fill="#000"/>
<circle cx="620.6" cy="775.9" r="1.6" fill="#000"/>
<circle cx="624.3" cy="775.9" r="1.6" fill="#000"/>
<circle cx="627.5" cy="775.9" r="1.6" fill="#000"/>
<circle cx="657" cy="709" r="1.6" fill="#000"/>
<circle cx="660" cy="707" r="1.6" fill="#000"/>
<circle cx="655.8" cy="713.8" r="1.6" fill="#000"/>
<circle cx="658" cy="716.6" r="1.6" fill="#000"/>
<circle cx="660.8" cy="727.7" r="1.6" fill="#000"/>
<circle cx="657.3" cy="735.4" r="1.6" fill="#000"/>
<circle cx="656.6" cy="743.6" r="1.6" fill="#000"/>
<circle cx="656.6" cy="775.9" r="1.6" fill="#000"/>
<circle cx="660.8" cy="775.9" r="1.6" fill="#000"/>
<circle cx="659.4" cy="692.8" r="1.6" fill="#000"/>
<circle cx="660.4" cy="693.6" r="1.6" fill="#000"/>
<circle cx="655.8" cy="697.6" r="1.6" fill="#000"/>
<circle cx="661.5" cy="699.6" r="1.6" fill="#000"/>
<path d="M623.3 665.3V660.9H658.8V665.3" fill="none" stroke="#222" stroke-width="0.8"/>
<text x="609.7" y="656.4" font-size="9.75" fill="#1a1a1a">**p=0.00906</text>
<text x="576.8" y="713.8" font-size="13.4" text-anchor="middle" transform="rotate(-90 576.8 713.8)">Viral suppression (%)</text>
<text x="626" y="798.7" font-size="11.6" text-anchor="middle" fill="#1a1a1a">Non-</text>
<text x="624.8" y="812" font-size="11.6" text-anchor="middle" fill="#1a1a1a">CTL</text>
<text x="658.5" y="798.7" font-size="11.6" text-anchor="middle" fill="#1a1a1a">CTL</text>
</svg></body></html>
